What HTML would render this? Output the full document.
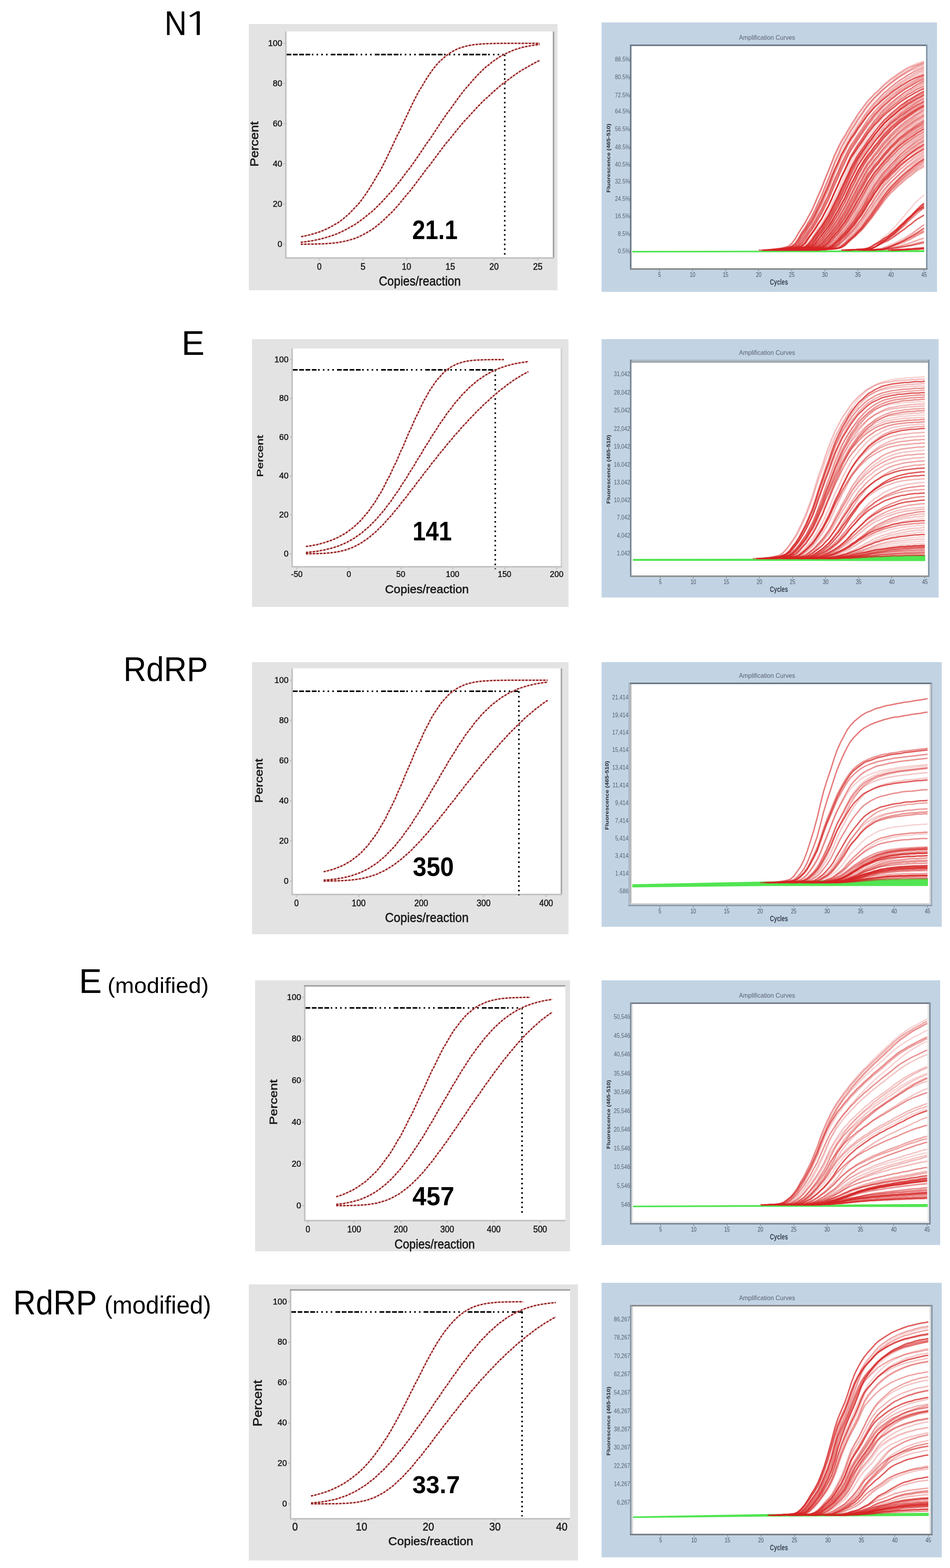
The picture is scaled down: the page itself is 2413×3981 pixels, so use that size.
<!DOCTYPE html>
<html><head><meta charset="utf-8"><title>Figure</title>
<style>html,body{margin:0;padding:0;background:#fff;}svg{display:block;}</style>
</head><body>
<svg width="2413" height="3981" viewBox="0 0 2413 3981" font-family="'Liberation Sans', Arial, sans-serif">
<rect width="2413" height="3981" fill="#fff"/>
<text transform="translate(417.7,88.6) scale(0.899,1)" font-size="87.4" fill="#000">N</text>
<text transform="translate(464.7,88.6) scale(1.434,1)" font-size="80.9" font-family="NanumGothic, 'Liberation Sans', sans-serif">1</text>
<text transform="translate(461.0,900.6) scale(1.009,1)" font-size="87.0" fill="#000">E</text>
<text transform="translate(313.4,1728.9) scale(0.926,1)" font-size="87.0" fill="#000">RdRP</text>
<text transform="translate(200.5,2520.7) scale(1.002,1)" font-size="87.0" fill="#000">E</text>
<text transform="translate(273.1,2521.0) scale(1.037,1)" font-size="55.8" fill="#000">(modified)</text>
<text transform="translate(33.6,3336.7) scale(0.921,1)" font-size="86.5" fill="#000">RdRP</text>
<text transform="translate(265.3,3334.7) scale(0.966,1)" font-size="63.1" fill="#000">(modified)</text>
<rect x="632" y="61" width="784" height="676" fill="#e3e3e3"/>
<rect x="728" y="80" width="676" height="573" fill="#ffffff"/>
<rect x="1404" y="80" width="4" height="577" fill="#a4a4a4"/>
<rect x="724" y="80" width="4" height="577" fill="#c3c3c3"/>
<rect x="724" y="653" width="684" height="4" fill="#c3c3c3"/>
<rect x="720" y="618" width="4" height="4" fill="#c8c8c8"/>
<text transform="translate(704.9,626.5) scale(0.986,1)" font-size="21.7" fill="#1a1a1a" stroke="#1a1a1a" stroke-width="0.7">0</text>
<rect x="720" y="516" width="4" height="4" fill="#c8c8c8"/>
<text transform="translate(693.0,524.5) scale(0.986,1)" font-size="21.7" fill="#1a1a1a" stroke="#1a1a1a" stroke-width="0.7">20</text>
<rect x="720" y="414" width="4" height="4" fill="#c8c8c8"/>
<text transform="translate(693.0,422.5) scale(0.986,1)" font-size="21.7" fill="#1a1a1a" stroke="#1a1a1a" stroke-width="0.7">40</text>
<rect x="720" y="312" width="4" height="4" fill="#c8c8c8"/>
<text transform="translate(693.0,320.5) scale(0.986,1)" font-size="21.7" fill="#1a1a1a" stroke="#1a1a1a" stroke-width="0.7">60</text>
<rect x="720" y="210" width="4" height="4" fill="#c8c8c8"/>
<text transform="translate(693.0,218.5) scale(0.986,1)" font-size="21.7" fill="#1a1a1a" stroke="#1a1a1a" stroke-width="0.7">80</text>
<rect x="720" y="108" width="4" height="4" fill="#c8c8c8"/>
<text transform="translate(681.1,116.5) scale(0.986,1)" font-size="21.7" fill="#1a1a1a" stroke="#1a1a1a" stroke-width="0.7">100</text>
<rect x="809" y="657" width="4" height="4" fill="#c8c8c8"/>
<text transform="translate(805.2,685.0) scale(0.897,1)" font-size="23.2" fill="#1a1a1a" stroke="#1a1a1a" stroke-width="0.7">0</text>
<rect x="920" y="657" width="4" height="4" fill="#c8c8c8"/>
<text transform="translate(915.8,685.0) scale(0.968,1)" font-size="23.2" fill="#1a1a1a" stroke="#1a1a1a" stroke-width="0.7">5</text>
<rect x="1031" y="657" width="4" height="4" fill="#c8c8c8"/>
<text transform="translate(1020.8,685.0) scale(0.916,1)" font-size="23.2" fill="#1a1a1a" stroke="#1a1a1a" stroke-width="0.7">10</text>
<rect x="1142" y="657" width="4" height="4" fill="#c8c8c8"/>
<text transform="translate(1131.4,685.0) scale(0.948,1)" font-size="23.2" fill="#1a1a1a" stroke="#1a1a1a" stroke-width="0.7">15</text>
<rect x="1253" y="657" width="4" height="4" fill="#c8c8c8"/>
<text transform="translate(1243.1,685.0) scale(0.916,1)" font-size="23.2" fill="#1a1a1a" stroke="#1a1a1a" stroke-width="0.7">20</text>
<rect x="1364" y="657" width="4" height="4" fill="#c8c8c8"/>
<text transform="translate(1353.9,685.0) scale(0.934,1)" font-size="23.2" fill="#1a1a1a" stroke="#1a1a1a" stroke-width="0.7">25</text>
<path d="M728 138.5H1284" stroke="#000" stroke-width="4" stroke-dasharray="12 4 12 4 12 4 12 4 4 8 4 8 4 8 4 8"/>
<path d="M1282 138.5V653" stroke="#000" stroke-width="4" stroke-dasharray="4 8"/>
<g fill="none" stroke="#dcaaaa" stroke-width="3.5">
<path d="M765,601.0L770,600.0L775,599.0L780,597.8L785,596.6L790,595.3L795,593.9L800,592.4L806,590.7L811,589.0L816,587.1L821,585.1L826,582.9L831,580.6L836,578.1L841,575.5L846,572.6L851,569.6L857,566.4L862,562.9L867,559.3L872,555.4L877,551.2L882,546.8L887,542.2L892,537.2L897,532.0L902,526.5L908,520.7L913,514.6L918,508.2L923,501.4L928,494.4L933,487.0L938,479.3L943,471.3L948,463.0L953,454.4L958,445.5L964,436.3L969,426.9L974,417.1L979,407.2L984,397.0L989,386.7L994,376.2L999,365.5L1004,354.8L1009,343.9L1015,333.1L1020,322.2L1025,311.3L1030,300.5L1035,289.9L1040,279.3L1045,268.9L1050,258.7L1055,248.8L1060,239.1L1065,229.8L1071,220.7L1076,212.0L1081,203.7L1086,195.7L1091,188.2L1096,181.0L1101,174.3L1106,168.0L1111,162.1L1116,156.6L1122,151.5L1127,146.9L1132,142.6L1137,138.7L1142,135.1L1147,131.9L1152,129.1L1157,126.5L1162,124.2L1167,122.2L1173,120.4L1178,118.8L1183,117.4L1188,116.3L1193,115.2L1198,114.4L1203,113.6L1208,113.0L1213,112.4L1218,112.0L1223,111.6L1229,111.3L1234,111.0L1239,110.8L1244,110.7L1249,110.5L1254,110.4L1259,110.3L1264,110.3L1269,110.2L1274,110.1L1280,110.1L1285,110.1L1290,110.1L1295,110.0L1300,110.0L1305,110.0L1310,110.0L1315,110.0L1320,110.0L1325,110.0L1330,110.0L1336,110.0L1341,110.0L1346,110.0L1351,110.0L1356,110.0L1361,110.0L1366,110.0L1371,110.0"/>
<path d="M764,615.2L769,614.6L774,614.0L779,613.3L784,612.6L789,611.8L795,610.9L800,609.9L805,608.9L810,607.8L815,606.6L820,605.3L825,603.9L830,602.4L835,600.8L840,599.2L846,597.4L851,595.5L856,593.5L861,591.3L866,589.1L871,586.7L876,584.2L881,581.5L886,578.8L891,575.8L897,572.8L902,569.6L907,566.3L912,562.8L917,559.1L922,555.4L927,551.4L932,547.3L937,543.1L943,538.7L948,534.2L953,529.5L958,524.6L963,519.6L968,514.5L973,509.2L978,503.8L983,498.2L988,492.4L994,486.6L999,480.6L1004,474.4L1009,468.2L1014,461.8L1019,455.3L1024,448.6L1029,441.9L1034,435.0L1040,428.1L1045,421.0L1050,413.9L1055,406.7L1060,399.4L1065,392.1L1070,384.7L1075,377.2L1080,369.7L1085,362.2L1091,354.6L1096,347.1L1101,339.5L1106,331.9L1111,324.4L1116,316.8L1121,309.3L1126,301.9L1131,294.5L1136,287.1L1142,279.8L1147,272.7L1152,265.6L1157,258.6L1162,251.7L1167,244.9L1172,238.3L1177,231.8L1182,225.4L1188,219.2L1193,213.1L1198,207.2L1203,201.5L1208,196.0L1213,190.6L1218,185.5L1223,180.5L1228,175.7L1233,171.1L1239,166.7L1244,162.5L1249,158.5L1254,154.7L1259,151.1L1264,147.7L1269,144.5L1274,141.5L1279,138.7L1285,136.0L1290,133.6L1295,131.3L1300,129.1L1305,127.2L1310,125.3L1315,123.7L1320,122.1L1325,120.7L1330,119.5L1336,118.3L1341,117.3L1346,116.4L1351,115.5L1356,114.8L1361,114.1L1366,113.5L1371,113.0"/>
<path d="M764,619.9L769,619.9L774,619.9L779,619.9L784,619.8L789,619.7L795,619.7L800,619.6L805,619.5L810,619.3L815,619.2L820,619.0L825,618.7L830,618.4L835,618.1L840,617.7L846,617.2L851,616.6L856,616.0L861,615.3L866,614.4L871,613.5L876,612.4L881,611.2L886,609.9L891,608.4L897,606.8L902,605.0L907,603.0L912,600.9L917,598.5L922,596.0L927,593.3L932,590.4L937,587.3L943,584.0L948,580.5L953,576.8L958,572.9L963,568.8L968,564.5L973,560.0L978,555.3L983,550.4L988,545.4L994,540.2L999,534.8L1004,529.3L1009,523.6L1014,517.8L1019,511.8L1024,505.7L1029,499.5L1034,493.2L1040,486.9L1045,480.4L1050,473.9L1055,467.3L1060,460.6L1065,453.9L1070,447.2L1075,440.4L1080,433.6L1085,426.8L1091,420.1L1096,413.3L1101,406.5L1106,399.7L1111,393.0L1116,386.3L1121,379.7L1126,373.1L1131,366.5L1136,360.0L1142,353.6L1147,347.2L1152,340.9L1157,334.6L1162,328.5L1167,322.4L1172,316.4L1177,310.4L1182,304.6L1188,298.8L1193,293.2L1198,287.6L1203,282.1L1208,276.7L1213,271.4L1218,266.2L1223,261.1L1228,256.0L1233,251.1L1239,246.3L1244,241.5L1249,236.9L1254,232.3L1259,227.9L1264,223.5L1269,219.3L1274,215.1L1279,211.0L1285,207.0L1290,203.1L1295,199.3L1300,195.6L1305,192.0L1310,188.5L1315,185.1L1320,181.8L1325,178.5L1330,175.4L1336,172.3L1341,169.3L1346,166.4L1351,163.6L1356,160.9L1361,158.3L1366,155.8L1371,153.3"/>
</g>
<g fill="none" stroke="#931c1c" stroke-width="3.5" stroke-dasharray="5 4">
<path d="M765,601.0L770,600.0L775,599.0L780,597.8L785,596.6L790,595.3L795,593.9L800,592.4L806,590.7L811,589.0L816,587.1L821,585.1L826,582.9L831,580.6L836,578.1L841,575.5L846,572.6L851,569.6L857,566.4L862,562.9L867,559.3L872,555.4L877,551.2L882,546.8L887,542.2L892,537.2L897,532.0L902,526.5L908,520.7L913,514.6L918,508.2L923,501.4L928,494.4L933,487.0L938,479.3L943,471.3L948,463.0L953,454.4L958,445.5L964,436.3L969,426.9L974,417.1L979,407.2L984,397.0L989,386.7L994,376.2L999,365.5L1004,354.8L1009,343.9L1015,333.1L1020,322.2L1025,311.3L1030,300.5L1035,289.9L1040,279.3L1045,268.9L1050,258.7L1055,248.8L1060,239.1L1065,229.8L1071,220.7L1076,212.0L1081,203.7L1086,195.7L1091,188.2L1096,181.0L1101,174.3L1106,168.0L1111,162.1L1116,156.6L1122,151.5L1127,146.9L1132,142.6L1137,138.7L1142,135.1L1147,131.9L1152,129.1L1157,126.5L1162,124.2L1167,122.2L1173,120.4L1178,118.8L1183,117.4L1188,116.3L1193,115.2L1198,114.4L1203,113.6L1208,113.0L1213,112.4L1218,112.0L1223,111.6L1229,111.3L1234,111.0L1239,110.8L1244,110.7L1249,110.5L1254,110.4L1259,110.3L1264,110.3L1269,110.2L1274,110.1L1280,110.1L1285,110.1L1290,110.1L1295,110.0L1300,110.0L1305,110.0L1310,110.0L1315,110.0L1320,110.0L1325,110.0L1330,110.0L1336,110.0L1341,110.0L1346,110.0L1351,110.0L1356,110.0L1361,110.0L1366,110.0L1371,110.0"/>
<path d="M764,615.2L769,614.6L774,614.0L779,613.3L784,612.6L789,611.8L795,610.9L800,609.9L805,608.9L810,607.8L815,606.6L820,605.3L825,603.9L830,602.4L835,600.8L840,599.2L846,597.4L851,595.5L856,593.5L861,591.3L866,589.1L871,586.7L876,584.2L881,581.5L886,578.8L891,575.8L897,572.8L902,569.6L907,566.3L912,562.8L917,559.1L922,555.4L927,551.4L932,547.3L937,543.1L943,538.7L948,534.2L953,529.5L958,524.6L963,519.6L968,514.5L973,509.2L978,503.8L983,498.2L988,492.4L994,486.6L999,480.6L1004,474.4L1009,468.2L1014,461.8L1019,455.3L1024,448.6L1029,441.9L1034,435.0L1040,428.1L1045,421.0L1050,413.9L1055,406.7L1060,399.4L1065,392.1L1070,384.7L1075,377.2L1080,369.7L1085,362.2L1091,354.6L1096,347.1L1101,339.5L1106,331.9L1111,324.4L1116,316.8L1121,309.3L1126,301.9L1131,294.5L1136,287.1L1142,279.8L1147,272.7L1152,265.6L1157,258.6L1162,251.7L1167,244.9L1172,238.3L1177,231.8L1182,225.4L1188,219.2L1193,213.1L1198,207.2L1203,201.5L1208,196.0L1213,190.6L1218,185.5L1223,180.5L1228,175.7L1233,171.1L1239,166.7L1244,162.5L1249,158.5L1254,154.7L1259,151.1L1264,147.7L1269,144.5L1274,141.5L1279,138.7L1285,136.0L1290,133.6L1295,131.3L1300,129.1L1305,127.2L1310,125.3L1315,123.7L1320,122.1L1325,120.7L1330,119.5L1336,118.3L1341,117.3L1346,116.4L1351,115.5L1356,114.8L1361,114.1L1366,113.5L1371,113.0"/>
<path d="M764,619.9L769,619.9L774,619.9L779,619.9L784,619.8L789,619.7L795,619.7L800,619.6L805,619.5L810,619.3L815,619.2L820,619.0L825,618.7L830,618.4L835,618.1L840,617.7L846,617.2L851,616.6L856,616.0L861,615.3L866,614.4L871,613.5L876,612.4L881,611.2L886,609.9L891,608.4L897,606.8L902,605.0L907,603.0L912,600.9L917,598.5L922,596.0L927,593.3L932,590.4L937,587.3L943,584.0L948,580.5L953,576.8L958,572.9L963,568.8L968,564.5L973,560.0L978,555.3L983,550.4L988,545.4L994,540.2L999,534.8L1004,529.3L1009,523.6L1014,517.8L1019,511.8L1024,505.7L1029,499.5L1034,493.2L1040,486.9L1045,480.4L1050,473.9L1055,467.3L1060,460.6L1065,453.9L1070,447.2L1075,440.4L1080,433.6L1085,426.8L1091,420.1L1096,413.3L1101,406.5L1106,399.7L1111,393.0L1116,386.3L1121,379.7L1126,373.1L1131,366.5L1136,360.0L1142,353.6L1147,347.2L1152,340.9L1157,334.6L1162,328.5L1167,322.4L1172,316.4L1177,310.4L1182,304.6L1188,298.8L1193,293.2L1198,287.6L1203,282.1L1208,276.7L1213,271.4L1218,266.2L1223,261.1L1228,256.0L1233,251.1L1239,246.3L1244,241.5L1249,236.9L1254,232.3L1259,227.9L1264,223.5L1269,219.3L1274,215.1L1279,211.0L1285,207.0L1290,203.1L1295,199.3L1300,195.6L1305,192.0L1310,188.5L1315,185.1L1320,181.8L1325,178.5L1330,175.4L1336,172.3L1341,169.3L1346,166.4L1351,163.6L1356,160.9L1361,158.3L1366,155.8L1371,153.3"/>
</g>
<text transform="translate(1046.9,606.6) scale(0.856,1)" font-size="69.4" font-weight="bold" fill="#000">21.1</text>
<text transform="translate(655.7,423.0) rotate(-90) scale(1.166,1)" font-size="28.6" fill="#1a1a1a" stroke="#1a1a1a" stroke-width="0.8">Percent</text>
<text transform="translate(962.2,725.3) scale(0.884,1)" font-size="33.9" fill="#1a1a1a" stroke="#1a1a1a" stroke-width="0.8">Copies/reaction</text>
<rect x="640" y="861" width="804" height="680" fill="#e3e3e3"/>
<rect x="744" y="885" width="680" height="552" fill="#ffffff"/>
<rect x="1424" y="885" width="4" height="556" fill="#d0d0d0"/>
<rect x="740" y="885" width="4" height="556" fill="#c3c3c3"/>
<rect x="740" y="1437" width="688" height="4" fill="#c3c3c3"/>
<rect x="736" y="1404" width="4" height="4" fill="#c8c8c8"/>
<text transform="translate(720.9,1412.5) scale(0.986,1)" font-size="21.7" fill="#1a1a1a" stroke="#1a1a1a" stroke-width="0.7">0</text>
<rect x="736" y="1305" width="4" height="4" fill="#c8c8c8"/>
<text transform="translate(709.0,1313.9) scale(0.986,1)" font-size="21.7" fill="#1a1a1a" stroke="#1a1a1a" stroke-width="0.7">20</text>
<rect x="736" y="1207" width="4" height="4" fill="#c8c8c8"/>
<text transform="translate(709.0,1215.3) scale(0.986,1)" font-size="21.7" fill="#1a1a1a" stroke="#1a1a1a" stroke-width="0.7">40</text>
<rect x="736" y="1108" width="4" height="4" fill="#c8c8c8"/>
<text transform="translate(709.0,1116.7) scale(0.986,1)" font-size="21.7" fill="#1a1a1a" stroke="#1a1a1a" stroke-width="0.7">60</text>
<rect x="736" y="1010" width="4" height="4" fill="#c8c8c8"/>
<text transform="translate(709.0,1018.1) scale(0.986,1)" font-size="21.7" fill="#1a1a1a" stroke="#1a1a1a" stroke-width="0.7">80</text>
<rect x="736" y="911" width="4" height="4" fill="#c8c8c8"/>
<text transform="translate(697.1,919.5) scale(0.986,1)" font-size="21.7" fill="#1a1a1a" stroke="#1a1a1a" stroke-width="0.7">100</text>
<rect x="752" y="1441" width="4" height="4" fill="#c8c8c8"/>
<text transform="translate(739.2,1464.5) scale(0.907,1)" font-size="22.5" fill="#1a1a1a" stroke="#1a1a1a" stroke-width="0.7">-50</text>
<rect x="884" y="1441" width="4" height="4" fill="#c8c8c8"/>
<text transform="translate(880.4,1464.5) scale(0.897,1)" font-size="22.5" fill="#1a1a1a" stroke="#1a1a1a" stroke-width="0.7">0</text>
<rect x="1016" y="1441" width="4" height="4" fill="#c8c8c8"/>
<text transform="translate(1006.6,1464.5) scale(0.911,1)" font-size="22.5" fill="#1a1a1a" stroke="#1a1a1a" stroke-width="0.7">50</text>
<rect x="1148" y="1441" width="4" height="4" fill="#c8c8c8"/>
<text transform="translate(1132.5,1464.5) scale(0.913,1)" font-size="22.5" fill="#1a1a1a" stroke="#1a1a1a" stroke-width="0.7">100</text>
<rect x="1280" y="1441" width="4" height="4" fill="#c8c8c8"/>
<text transform="translate(1264.5,1464.5) scale(0.913,1)" font-size="22.5" fill="#1a1a1a" stroke="#1a1a1a" stroke-width="0.7">150</text>
<rect x="1412" y="1441" width="4" height="4" fill="#c8c8c8"/>
<text transform="translate(1396.8,1464.5) scale(0.913,1)" font-size="22.5" fill="#1a1a1a" stroke="#1a1a1a" stroke-width="0.7">200</text>
<path d="M744 939H1260" stroke="#000" stroke-width="4" stroke-dasharray="12 4 12 4 12 4 12 4 4 8 4 8 4 8 4 8"/>
<path d="M1258 939V1445" stroke="#000" stroke-width="4" stroke-dasharray="4 8"/>
<g fill="none" stroke="#dcaaaa" stroke-width="3.5">
<path d="M777,1387.6L781,1387.0L786,1386.3L790,1385.6L794,1384.8L798,1384.0L803,1383.1L807,1382.2L811,1381.2L815,1380.1L820,1378.9L824,1377.7L828,1376.4L832,1375.0L836,1373.6L841,1372.0L845,1370.3L849,1368.6L853,1366.7L858,1364.7L862,1362.5L866,1360.3L870,1357.9L875,1355.4L879,1352.7L883,1349.8L887,1346.8L891,1343.7L896,1340.3L900,1336.8L904,1333.0L908,1329.1L913,1324.9L917,1320.6L921,1316.0L925,1311.2L929,1306.1L934,1300.8L938,1295.3L942,1289.5L946,1283.5L951,1277.2L955,1270.6L959,1263.8L963,1256.8L968,1249.5L972,1241.9L976,1234.1L980,1226.1L984,1217.9L989,1209.4L993,1200.7L997,1191.9L1001,1182.9L1006,1173.7L1010,1164.4L1014,1154.9L1018,1145.4L1023,1135.8L1027,1126.1L1031,1116.5L1035,1106.8L1039,1097.2L1044,1087.6L1048,1078.1L1052,1068.8L1056,1059.6L1061,1050.5L1065,1041.7L1069,1033.0L1073,1024.7L1077,1016.6L1082,1008.7L1086,1001.2L1090,994.0L1094,987.2L1099,980.7L1103,974.5L1107,968.7L1111,963.2L1116,958.2L1120,953.4L1124,949.0L1128,945.0L1132,941.3L1137,937.9L1141,934.8L1145,932.1L1149,929.5L1154,927.3L1158,925.3L1162,923.5L1166,922.0L1171,920.6L1175,919.4L1179,918.4L1183,917.5L1187,916.7L1192,916.1L1196,915.5L1200,915.1L1204,914.7L1209,914.3L1213,914.1L1217,913.9L1221,913.7L1225,913.5L1230,913.4L1234,913.3L1238,913.3L1242,913.2L1247,913.1L1251,913.1L1255,913.1L1259,913.1L1264,913.0L1268,913.0L1272,913.0L1276,913.0L1280,913.0"/>
<path d="M777,1402.6L782,1402.2L787,1401.7L791,1401.2L796,1400.7L801,1400.1L806,1399.4L810,1398.7L815,1397.8L820,1397.0L825,1396.0L829,1395.0L834,1393.8L839,1392.6L844,1391.3L848,1389.9L853,1388.3L858,1386.7L863,1384.9L867,1383.0L872,1381.0L877,1378.8L882,1376.5L886,1374.0L891,1371.4L896,1368.6L901,1365.6L905,1362.5L910,1359.2L915,1355.7L920,1352.1L924,1348.3L929,1344.2L934,1340.0L939,1335.6L943,1331.0L948,1326.2L953,1321.3L958,1316.1L962,1310.8L967,1305.2L972,1299.5L977,1293.6L981,1287.5L986,1281.3L991,1274.8L996,1268.3L1000,1261.5L1005,1254.7L1010,1247.7L1015,1240.5L1019,1233.3L1024,1225.9L1029,1218.5L1034,1210.9L1038,1203.3L1043,1195.6L1048,1187.9L1053,1180.1L1057,1172.3L1062,1164.4L1067,1156.6L1072,1148.8L1076,1141.0L1081,1133.2L1086,1125.5L1091,1117.8L1095,1110.2L1100,1102.7L1105,1095.2L1110,1087.9L1114,1080.7L1119,1073.6L1124,1066.6L1129,1059.7L1133,1053.0L1138,1046.5L1143,1040.1L1148,1033.9L1152,1027.8L1157,1021.9L1162,1016.2L1167,1010.7L1171,1005.3L1176,1000.2L1181,995.2L1186,990.4L1190,985.8L1195,981.4L1200,977.2L1205,973.1L1209,969.3L1214,965.6L1219,962.1L1224,958.8L1228,955.6L1233,952.6L1238,949.8L1243,947.1L1247,944.6L1252,942.2L1257,940.0L1262,937.9L1266,935.9L1271,934.1L1276,932.4L1281,930.8L1285,929.3L1290,927.9L1295,926.6L1300,925.4L1304,924.3L1309,923.3L1314,922.3L1319,921.5L1323,920.7L1328,919.9L1333,919.3L1338,918.6L1342,918.1"/>
<path d="M777,1405.9L782,1405.9L787,1405.8L791,1405.8L796,1405.7L801,1405.6L806,1405.5L810,1405.4L815,1405.2L820,1405.0L825,1404.7L829,1404.4L834,1404.0L839,1403.6L844,1403.1L848,1402.4L853,1401.7L858,1400.9L863,1400.0L867,1399.0L872,1397.8L877,1396.5L882,1395.0L886,1393.4L891,1391.6L896,1389.6L901,1387.4L905,1385.1L910,1382.6L915,1379.9L920,1377.0L924,1373.9L929,1370.6L934,1367.1L939,1363.5L943,1359.6L948,1355.6L953,1351.4L958,1347.0L962,1342.4L967,1337.7L972,1332.8L977,1327.8L981,1322.6L986,1317.3L991,1311.9L996,1306.4L1000,1300.8L1005,1295.1L1010,1289.3L1015,1283.4L1019,1277.4L1024,1271.4L1029,1265.4L1034,1259.3L1038,1253.1L1043,1246.9L1048,1240.7L1053,1234.5L1057,1228.3L1062,1222.1L1067,1215.9L1072,1209.7L1076,1203.5L1081,1197.3L1086,1191.1L1091,1185.0L1095,1178.9L1100,1172.8L1105,1166.8L1110,1160.8L1114,1154.8L1119,1148.9L1124,1143.1L1129,1137.2L1133,1131.5L1138,1125.7L1143,1120.1L1148,1114.5L1152,1108.9L1157,1103.4L1162,1097.9L1167,1092.5L1171,1087.2L1176,1081.9L1181,1076.7L1186,1071.6L1190,1066.5L1195,1061.4L1200,1056.5L1205,1051.6L1209,1046.7L1214,1041.9L1219,1037.2L1224,1032.6L1228,1028.0L1233,1023.5L1238,1019.1L1243,1014.8L1247,1010.5L1252,1006.3L1257,1002.2L1262,998.1L1266,994.2L1271,990.3L1276,986.5L1281,982.8L1285,979.2L1290,975.7L1295,972.2L1300,968.9L1304,965.7L1309,962.5L1314,959.5L1319,956.6L1323,953.7L1328,951.0L1333,948.4L1338,945.9L1342,943.5"/>
</g>
<g fill="none" stroke="#931c1c" stroke-width="3.5" stroke-dasharray="5 4">
<path d="M777,1387.6L781,1387.0L786,1386.3L790,1385.6L794,1384.8L798,1384.0L803,1383.1L807,1382.2L811,1381.2L815,1380.1L820,1378.9L824,1377.7L828,1376.4L832,1375.0L836,1373.6L841,1372.0L845,1370.3L849,1368.6L853,1366.7L858,1364.7L862,1362.5L866,1360.3L870,1357.9L875,1355.4L879,1352.7L883,1349.8L887,1346.8L891,1343.7L896,1340.3L900,1336.8L904,1333.0L908,1329.1L913,1324.9L917,1320.6L921,1316.0L925,1311.2L929,1306.1L934,1300.8L938,1295.3L942,1289.5L946,1283.5L951,1277.2L955,1270.6L959,1263.8L963,1256.8L968,1249.5L972,1241.9L976,1234.1L980,1226.1L984,1217.9L989,1209.4L993,1200.7L997,1191.9L1001,1182.9L1006,1173.7L1010,1164.4L1014,1154.9L1018,1145.4L1023,1135.8L1027,1126.1L1031,1116.5L1035,1106.8L1039,1097.2L1044,1087.6L1048,1078.1L1052,1068.8L1056,1059.6L1061,1050.5L1065,1041.7L1069,1033.0L1073,1024.7L1077,1016.6L1082,1008.7L1086,1001.2L1090,994.0L1094,987.2L1099,980.7L1103,974.5L1107,968.7L1111,963.2L1116,958.2L1120,953.4L1124,949.0L1128,945.0L1132,941.3L1137,937.9L1141,934.8L1145,932.1L1149,929.5L1154,927.3L1158,925.3L1162,923.5L1166,922.0L1171,920.6L1175,919.4L1179,918.4L1183,917.5L1187,916.7L1192,916.1L1196,915.5L1200,915.1L1204,914.7L1209,914.3L1213,914.1L1217,913.9L1221,913.7L1225,913.5L1230,913.4L1234,913.3L1238,913.3L1242,913.2L1247,913.1L1251,913.1L1255,913.1L1259,913.1L1264,913.0L1268,913.0L1272,913.0L1276,913.0L1280,913.0"/>
<path d="M777,1402.6L782,1402.2L787,1401.7L791,1401.2L796,1400.7L801,1400.1L806,1399.4L810,1398.7L815,1397.8L820,1397.0L825,1396.0L829,1395.0L834,1393.8L839,1392.6L844,1391.3L848,1389.9L853,1388.3L858,1386.7L863,1384.9L867,1383.0L872,1381.0L877,1378.8L882,1376.5L886,1374.0L891,1371.4L896,1368.6L901,1365.6L905,1362.5L910,1359.2L915,1355.7L920,1352.1L924,1348.3L929,1344.2L934,1340.0L939,1335.6L943,1331.0L948,1326.2L953,1321.3L958,1316.1L962,1310.8L967,1305.2L972,1299.5L977,1293.6L981,1287.5L986,1281.3L991,1274.8L996,1268.3L1000,1261.5L1005,1254.7L1010,1247.7L1015,1240.5L1019,1233.3L1024,1225.9L1029,1218.5L1034,1210.9L1038,1203.3L1043,1195.6L1048,1187.9L1053,1180.1L1057,1172.3L1062,1164.4L1067,1156.6L1072,1148.8L1076,1141.0L1081,1133.2L1086,1125.5L1091,1117.8L1095,1110.2L1100,1102.7L1105,1095.2L1110,1087.9L1114,1080.7L1119,1073.6L1124,1066.6L1129,1059.7L1133,1053.0L1138,1046.5L1143,1040.1L1148,1033.9L1152,1027.8L1157,1021.9L1162,1016.2L1167,1010.7L1171,1005.3L1176,1000.2L1181,995.2L1186,990.4L1190,985.8L1195,981.4L1200,977.2L1205,973.1L1209,969.3L1214,965.6L1219,962.1L1224,958.8L1228,955.6L1233,952.6L1238,949.8L1243,947.1L1247,944.6L1252,942.2L1257,940.0L1262,937.9L1266,935.9L1271,934.1L1276,932.4L1281,930.8L1285,929.3L1290,927.9L1295,926.6L1300,925.4L1304,924.3L1309,923.3L1314,922.3L1319,921.5L1323,920.7L1328,919.9L1333,919.3L1338,918.6L1342,918.1"/>
<path d="M777,1405.9L782,1405.9L787,1405.8L791,1405.8L796,1405.7L801,1405.6L806,1405.5L810,1405.4L815,1405.2L820,1405.0L825,1404.7L829,1404.4L834,1404.0L839,1403.6L844,1403.1L848,1402.4L853,1401.7L858,1400.9L863,1400.0L867,1399.0L872,1397.8L877,1396.5L882,1395.0L886,1393.4L891,1391.6L896,1389.6L901,1387.4L905,1385.1L910,1382.6L915,1379.9L920,1377.0L924,1373.9L929,1370.6L934,1367.1L939,1363.5L943,1359.6L948,1355.6L953,1351.4L958,1347.0L962,1342.4L967,1337.7L972,1332.8L977,1327.8L981,1322.6L986,1317.3L991,1311.9L996,1306.4L1000,1300.8L1005,1295.1L1010,1289.3L1015,1283.4L1019,1277.4L1024,1271.4L1029,1265.4L1034,1259.3L1038,1253.1L1043,1246.9L1048,1240.7L1053,1234.5L1057,1228.3L1062,1222.1L1067,1215.9L1072,1209.7L1076,1203.5L1081,1197.3L1086,1191.1L1091,1185.0L1095,1178.9L1100,1172.8L1105,1166.8L1110,1160.8L1114,1154.8L1119,1148.9L1124,1143.1L1129,1137.2L1133,1131.5L1138,1125.7L1143,1120.1L1148,1114.5L1152,1108.9L1157,1103.4L1162,1097.9L1167,1092.5L1171,1087.2L1176,1081.9L1181,1076.7L1186,1071.6L1190,1066.5L1195,1061.4L1200,1056.5L1205,1051.6L1209,1046.7L1214,1041.9L1219,1037.2L1224,1032.6L1228,1028.0L1233,1023.5L1238,1019.1L1243,1014.8L1247,1010.5L1252,1006.3L1257,1002.2L1262,998.1L1266,994.2L1271,990.3L1276,986.5L1281,982.8L1285,979.2L1290,975.7L1295,972.2L1300,968.9L1304,965.7L1309,962.5L1314,959.5L1319,956.6L1323,953.7L1328,951.0L1333,948.4L1338,945.9L1342,943.5"/>
</g>
<text transform="translate(1048.1,1372.0) scale(0.876,1)" font-size="68.1" font-weight="bold" fill="#000">141</text>
<text transform="translate(667.8,1211.1) rotate(-90) scale(1.349,1)" font-size="22.9" fill="#1a1a1a" stroke="#1a1a1a" stroke-width="0.8">Percent</text>
<text transform="translate(978.0,1506.4) scale(1.014,1)" font-size="30.2" fill="#1a1a1a" stroke="#1a1a1a" stroke-width="0.8">Copies/reaction</text>
<rect x="640" y="1681" width="804" height="691" fill="#e3e3e3"/>
<rect x="744" y="1697" width="680" height="572" fill="#ffffff"/>
<rect x="1424" y="1697" width="4" height="576" fill="#aaaaaa"/>
<rect x="740" y="1697" width="4" height="576" fill="#c3c3c3"/>
<rect x="740" y="2269" width="688" height="4" fill="#c3c3c3"/>
<rect x="736" y="2235" width="4" height="4" fill="#c8c8c8"/>
<text transform="translate(720.9,2243.5) scale(0.986,1)" font-size="21.7" fill="#1a1a1a" stroke="#1a1a1a" stroke-width="0.7">0</text>
<rect x="736" y="2133" width="4" height="4" fill="#c8c8c8"/>
<text transform="translate(709.0,2141.5) scale(0.986,1)" font-size="21.7" fill="#1a1a1a" stroke="#1a1a1a" stroke-width="0.7">20</text>
<rect x="736" y="2031" width="4" height="4" fill="#c8c8c8"/>
<text transform="translate(709.0,2039.5) scale(0.986,1)" font-size="21.7" fill="#1a1a1a" stroke="#1a1a1a" stroke-width="0.7">40</text>
<rect x="736" y="1929" width="4" height="4" fill="#c8c8c8"/>
<text transform="translate(709.0,1937.5) scale(0.986,1)" font-size="21.7" fill="#1a1a1a" stroke="#1a1a1a" stroke-width="0.7">60</text>
<rect x="736" y="1827" width="4" height="4" fill="#c8c8c8"/>
<text transform="translate(709.0,1835.5) scale(0.986,1)" font-size="21.7" fill="#1a1a1a" stroke="#1a1a1a" stroke-width="0.7">80</text>
<rect x="736" y="1725" width="4" height="4" fill="#c8c8c8"/>
<text transform="translate(697.1,1733.5) scale(0.986,1)" font-size="21.7" fill="#1a1a1a" stroke="#1a1a1a" stroke-width="0.7">100</text>
<rect x="751" y="2273" width="4" height="4" fill="#c8c8c8"/>
<text transform="translate(747.2,2301.0) scale(0.897,1)" font-size="23.2" fill="#1a1a1a" stroke="#1a1a1a" stroke-width="0.7">0</text>
<rect x="910" y="2273" width="4" height="4" fill="#c8c8c8"/>
<text transform="translate(893.5,2301.0) scale(0.913,1)" font-size="23.2" fill="#1a1a1a" stroke="#1a1a1a" stroke-width="0.7">100</text>
<rect x="1068" y="2273" width="4" height="4" fill="#c8c8c8"/>
<text transform="translate(1052.2,2301.0) scale(0.913,1)" font-size="23.2" fill="#1a1a1a" stroke="#1a1a1a" stroke-width="0.7">200</text>
<rect x="1226" y="2273" width="4" height="4" fill="#c8c8c8"/>
<text transform="translate(1210.8,2301.0) scale(0.913,1)" font-size="23.2" fill="#1a1a1a" stroke="#1a1a1a" stroke-width="0.7">300</text>
<rect x="1385" y="2273" width="4" height="4" fill="#c8c8c8"/>
<text transform="translate(1369.7,2301.0) scale(0.907,1)" font-size="23.2" fill="#1a1a1a" stroke="#1a1a1a" stroke-width="0.7">400</text>
<path d="M744 1755H1320" stroke="#000" stroke-width="4" stroke-dasharray="12 4 12 4 12 4 12 4 4 8 4 8 4 8 4 8"/>
<path d="M1318 1755V2273" stroke="#000" stroke-width="4" stroke-dasharray="4 8"/>
<g fill="none" stroke="#dcaaaa" stroke-width="3.5">
<path d="M822,2213.3L827,2212.3L831,2211.1L836,2209.9L841,2208.5L846,2207.0L851,2205.4L855,2203.7L860,2201.8L865,2199.8L870,2197.6L875,2195.2L879,2192.6L884,2189.9L889,2186.9L894,2183.8L898,2180.4L903,2176.7L908,2172.8L913,2168.6L918,2164.2L922,2159.4L927,2154.4L932,2149.0L937,2143.3L941,2137.3L946,2130.9L951,2124.2L956,2117.1L961,2109.7L965,2101.9L970,2093.8L975,2085.3L980,2076.5L984,2067.3L989,2057.9L994,2048.1L999,2038.0L1004,2027.7L1008,2017.1L1013,2006.3L1018,1995.3L1023,1984.2L1027,1973.0L1032,1961.7L1037,1950.3L1042,1939.0L1047,1927.7L1051,1916.5L1056,1905.4L1061,1894.5L1066,1883.8L1071,1873.3L1075,1863.1L1080,1853.2L1085,1843.7L1090,1834.6L1094,1825.8L1099,1817.4L1104,1809.5L1109,1802.0L1114,1794.9L1118,1788.3L1123,1782.1L1128,1776.4L1133,1771.1L1137,1766.3L1142,1761.8L1147,1757.7L1152,1754.0L1157,1750.7L1161,1747.7L1166,1745.0L1171,1742.6L1176,1740.4L1180,1738.6L1185,1736.9L1190,1735.4L1195,1734.2L1200,1733.1L1204,1732.1L1209,1731.3L1214,1730.6L1219,1730.0L1223,1729.5L1228,1729.1L1233,1728.7L1238,1728.4L1243,1728.2L1247,1727.9L1252,1727.8L1257,1727.6L1262,1727.5L1267,1727.4L1271,1727.3L1276,1727.3L1281,1727.2L1286,1727.2L1290,1727.1L1295,1727.1L1300,1727.1L1305,1727.1L1310,1727.1L1314,1727.0L1319,1727.0L1324,1727.0L1329,1727.0L1333,1727.0L1338,1727.0L1343,1727.0L1348,1727.0L1353,1727.0L1357,1727.0L1362,1727.0L1367,1727.0L1372,1727.0L1376,1727.0L1381,1727.0L1386,1727.0L1391,1727.0"/>
<path d="M822,2234.6L827,2234.3L831,2233.9L836,2233.5L841,2233.0L846,2232.5L851,2231.9L855,2231.2L860,2230.5L865,2229.7L870,2228.8L875,2227.9L879,2226.8L884,2225.7L889,2224.4L894,2223.0L898,2221.6L903,2219.9L908,2218.2L913,2216.3L918,2214.3L922,2212.1L927,2209.8L932,2207.3L937,2204.6L941,2201.8L946,2198.7L951,2195.5L956,2192.1L961,2188.5L965,2184.7L970,2180.7L975,2176.5L980,2172.1L984,2167.5L989,2162.6L994,2157.6L999,2152.3L1004,2146.9L1008,2141.2L1013,2135.3L1018,2129.3L1023,2123.0L1027,2116.5L1032,2109.9L1037,2103.1L1042,2096.1L1047,2088.9L1051,2081.6L1056,2074.2L1061,2066.6L1066,2058.9L1071,2051.0L1075,2043.1L1080,2035.1L1085,2027.0L1090,2018.9L1094,2010.7L1099,2002.5L1104,1994.2L1109,1985.9L1114,1977.7L1118,1969.4L1123,1961.2L1128,1953.1L1133,1945.0L1137,1936.9L1142,1929.0L1147,1921.1L1152,1913.3L1157,1905.7L1161,1898.1L1166,1890.7L1171,1883.5L1176,1876.4L1180,1869.4L1185,1862.7L1190,1856.0L1195,1849.6L1200,1843.4L1204,1837.3L1209,1831.4L1214,1825.8L1219,1820.3L1223,1815.0L1228,1809.9L1233,1805.0L1238,1800.3L1243,1795.8L1247,1791.5L1252,1787.4L1257,1783.5L1262,1779.7L1267,1776.2L1271,1772.8L1276,1769.6L1281,1766.6L1286,1763.7L1290,1761.0L1295,1758.5L1300,1756.1L1305,1753.8L1310,1751.7L1314,1749.7L1319,1747.9L1324,1746.2L1329,1744.6L1333,1743.1L1338,1741.7L1343,1740.4L1348,1739.2L1353,1738.1L1357,1737.1L1362,1736.1L1367,1735.3L1372,1734.5L1376,1733.8L1381,1733.1L1386,1732.5L1391,1731.9"/>
<path d="M822,2236.9L827,2236.9L831,2236.8L836,2236.8L841,2236.7L846,2236.6L851,2236.5L855,2236.4L860,2236.2L865,2236.0L870,2235.8L875,2235.6L879,2235.3L884,2234.9L889,2234.6L894,2234.1L898,2233.6L903,2233.0L908,2232.3L913,2231.5L918,2230.7L922,2229.7L927,2228.7L932,2227.5L937,2226.2L941,2224.8L946,2223.3L951,2221.6L956,2219.8L961,2217.8L965,2215.7L970,2213.5L975,2211.1L980,2208.5L984,2205.8L989,2202.9L994,2199.9L999,2196.7L1004,2193.4L1008,2189.8L1013,2186.2L1018,2182.4L1023,2178.4L1027,2174.3L1032,2170.1L1037,2165.7L1042,2161.1L1047,2156.5L1051,2151.7L1056,2146.8L1061,2141.8L1066,2136.7L1071,2131.5L1075,2126.2L1080,2120.8L1085,2115.3L1090,2109.7L1094,2104.1L1099,2098.3L1104,2092.6L1109,2086.7L1114,2080.9L1118,2074.9L1123,2069.0L1128,2063.0L1133,2056.9L1137,2050.9L1142,2044.8L1147,2038.7L1152,2032.6L1157,2026.5L1161,2020.4L1166,2014.3L1171,2008.2L1176,2002.1L1180,1996.0L1185,1990.0L1190,1983.9L1195,1977.9L1200,1971.9L1204,1965.9L1209,1960.0L1214,1954.1L1219,1948.2L1223,1942.4L1228,1936.6L1233,1930.8L1238,1925.1L1243,1919.4L1247,1913.8L1252,1908.3L1257,1902.7L1262,1897.3L1267,1891.9L1271,1886.5L1276,1881.3L1281,1876.0L1286,1870.9L1290,1865.8L1295,1860.8L1300,1855.8L1305,1851.0L1310,1846.2L1314,1841.5L1319,1836.8L1324,1832.3L1329,1827.8L1333,1823.4L1338,1819.1L1343,1814.9L1348,1810.8L1353,1806.8L1357,1802.9L1362,1799.0L1367,1795.3L1372,1791.7L1376,1788.2L1381,1784.7L1386,1781.4L1391,1778.2"/>
</g>
<g fill="none" stroke="#931c1c" stroke-width="3.5" stroke-dasharray="5 4">
<path d="M822,2213.3L827,2212.3L831,2211.1L836,2209.9L841,2208.5L846,2207.0L851,2205.4L855,2203.7L860,2201.8L865,2199.8L870,2197.6L875,2195.2L879,2192.6L884,2189.9L889,2186.9L894,2183.8L898,2180.4L903,2176.7L908,2172.8L913,2168.6L918,2164.2L922,2159.4L927,2154.4L932,2149.0L937,2143.3L941,2137.3L946,2130.9L951,2124.2L956,2117.1L961,2109.7L965,2101.9L970,2093.8L975,2085.3L980,2076.5L984,2067.3L989,2057.9L994,2048.1L999,2038.0L1004,2027.7L1008,2017.1L1013,2006.3L1018,1995.3L1023,1984.2L1027,1973.0L1032,1961.7L1037,1950.3L1042,1939.0L1047,1927.7L1051,1916.5L1056,1905.4L1061,1894.5L1066,1883.8L1071,1873.3L1075,1863.1L1080,1853.2L1085,1843.7L1090,1834.6L1094,1825.8L1099,1817.4L1104,1809.5L1109,1802.0L1114,1794.9L1118,1788.3L1123,1782.1L1128,1776.4L1133,1771.1L1137,1766.3L1142,1761.8L1147,1757.7L1152,1754.0L1157,1750.7L1161,1747.7L1166,1745.0L1171,1742.6L1176,1740.4L1180,1738.6L1185,1736.9L1190,1735.4L1195,1734.2L1200,1733.1L1204,1732.1L1209,1731.3L1214,1730.6L1219,1730.0L1223,1729.5L1228,1729.1L1233,1728.7L1238,1728.4L1243,1728.2L1247,1727.9L1252,1727.8L1257,1727.6L1262,1727.5L1267,1727.4L1271,1727.3L1276,1727.3L1281,1727.2L1286,1727.2L1290,1727.1L1295,1727.1L1300,1727.1L1305,1727.1L1310,1727.1L1314,1727.0L1319,1727.0L1324,1727.0L1329,1727.0L1333,1727.0L1338,1727.0L1343,1727.0L1348,1727.0L1353,1727.0L1357,1727.0L1362,1727.0L1367,1727.0L1372,1727.0L1376,1727.0L1381,1727.0L1386,1727.0L1391,1727.0"/>
<path d="M822,2234.6L827,2234.3L831,2233.9L836,2233.5L841,2233.0L846,2232.5L851,2231.9L855,2231.2L860,2230.5L865,2229.7L870,2228.8L875,2227.9L879,2226.8L884,2225.7L889,2224.4L894,2223.0L898,2221.6L903,2219.9L908,2218.2L913,2216.3L918,2214.3L922,2212.1L927,2209.8L932,2207.3L937,2204.6L941,2201.8L946,2198.7L951,2195.5L956,2192.1L961,2188.5L965,2184.7L970,2180.7L975,2176.5L980,2172.1L984,2167.5L989,2162.6L994,2157.6L999,2152.3L1004,2146.9L1008,2141.2L1013,2135.3L1018,2129.3L1023,2123.0L1027,2116.5L1032,2109.9L1037,2103.1L1042,2096.1L1047,2088.9L1051,2081.6L1056,2074.2L1061,2066.6L1066,2058.9L1071,2051.0L1075,2043.1L1080,2035.1L1085,2027.0L1090,2018.9L1094,2010.7L1099,2002.5L1104,1994.2L1109,1985.9L1114,1977.7L1118,1969.4L1123,1961.2L1128,1953.1L1133,1945.0L1137,1936.9L1142,1929.0L1147,1921.1L1152,1913.3L1157,1905.7L1161,1898.1L1166,1890.7L1171,1883.5L1176,1876.4L1180,1869.4L1185,1862.7L1190,1856.0L1195,1849.6L1200,1843.4L1204,1837.3L1209,1831.4L1214,1825.8L1219,1820.3L1223,1815.0L1228,1809.9L1233,1805.0L1238,1800.3L1243,1795.8L1247,1791.5L1252,1787.4L1257,1783.5L1262,1779.7L1267,1776.2L1271,1772.8L1276,1769.6L1281,1766.6L1286,1763.7L1290,1761.0L1295,1758.5L1300,1756.1L1305,1753.8L1310,1751.7L1314,1749.7L1319,1747.9L1324,1746.2L1329,1744.6L1333,1743.1L1338,1741.7L1343,1740.4L1348,1739.2L1353,1738.1L1357,1737.1L1362,1736.1L1367,1735.3L1372,1734.5L1376,1733.8L1381,1733.1L1386,1732.5L1391,1731.9"/>
<path d="M822,2236.9L827,2236.9L831,2236.8L836,2236.8L841,2236.7L846,2236.6L851,2236.5L855,2236.4L860,2236.2L865,2236.0L870,2235.8L875,2235.6L879,2235.3L884,2234.9L889,2234.6L894,2234.1L898,2233.6L903,2233.0L908,2232.3L913,2231.5L918,2230.7L922,2229.7L927,2228.7L932,2227.5L937,2226.2L941,2224.8L946,2223.3L951,2221.6L956,2219.8L961,2217.8L965,2215.7L970,2213.5L975,2211.1L980,2208.5L984,2205.8L989,2202.9L994,2199.9L999,2196.7L1004,2193.4L1008,2189.8L1013,2186.2L1018,2182.4L1023,2178.4L1027,2174.3L1032,2170.1L1037,2165.7L1042,2161.1L1047,2156.5L1051,2151.7L1056,2146.8L1061,2141.8L1066,2136.7L1071,2131.5L1075,2126.2L1080,2120.8L1085,2115.3L1090,2109.7L1094,2104.1L1099,2098.3L1104,2092.6L1109,2086.7L1114,2080.9L1118,2074.9L1123,2069.0L1128,2063.0L1133,2056.9L1137,2050.9L1142,2044.8L1147,2038.7L1152,2032.6L1157,2026.5L1161,2020.4L1166,2014.3L1171,2008.2L1176,2002.1L1180,1996.0L1185,1990.0L1190,1983.9L1195,1977.9L1200,1971.9L1204,1965.9L1209,1960.0L1214,1954.1L1219,1948.2L1223,1942.4L1228,1936.6L1233,1930.8L1238,1925.1L1243,1919.4L1247,1913.8L1252,1908.3L1257,1902.7L1262,1897.3L1267,1891.9L1271,1886.5L1276,1881.3L1281,1876.0L1286,1870.9L1290,1865.8L1295,1860.8L1300,1855.8L1305,1851.0L1310,1846.2L1314,1841.5L1319,1836.8L1324,1832.3L1329,1827.8L1333,1823.4L1338,1819.1L1343,1814.9L1348,1810.8L1353,1806.8L1357,1802.9L1362,1799.0L1367,1795.3L1372,1791.7L1376,1788.2L1381,1784.7L1386,1781.4L1391,1778.2"/>
</g>
<text transform="translate(1048.4,2223.9) scale(0.913,1)" font-size="68.5" font-weight="bold" fill="#000">350</text>
<text transform="translate(666.7,2038.6) rotate(-90) scale(1.206,1)" font-size="27.1" fill="#1a1a1a" stroke="#1a1a1a" stroke-width="0.8">Percent</text>
<text transform="translate(978.0,2341.4) scale(0.907,1)" font-size="33.7" fill="#1a1a1a" stroke="#1a1a1a" stroke-width="0.8">Copies/reaction</text>
<rect x="648" y="2489" width="800" height="688" fill="#e3e3e3"/>
<rect x="776" y="2505" width="660" height="592" fill="#ffffff"/>
<rect x="772" y="2501" width="664" height="4" fill="#a4a4a4"/>
<rect x="772" y="2505" width="4" height="596" fill="#c3c3c3"/>
<rect x="772" y="3097" width="664" height="4" fill="#c3c3c3"/>
<rect x="768" y="3059" width="4" height="4" fill="#c8c8c8"/>
<text transform="translate(752.9,3067.5) scale(0.986,1)" font-size="21.7" fill="#1a1a1a" stroke="#1a1a1a" stroke-width="0.7">0</text>
<rect x="768" y="2953" width="4" height="4" fill="#c8c8c8"/>
<text transform="translate(741.0,2961.7) scale(0.986,1)" font-size="21.7" fill="#1a1a1a" stroke="#1a1a1a" stroke-width="0.7">20</text>
<rect x="768" y="2847" width="4" height="4" fill="#c8c8c8"/>
<text transform="translate(741.0,2855.9) scale(0.986,1)" font-size="21.7" fill="#1a1a1a" stroke="#1a1a1a" stroke-width="0.7">40</text>
<rect x="768" y="2742" width="4" height="4" fill="#c8c8c8"/>
<text transform="translate(741.0,2750.1) scale(0.986,1)" font-size="21.7" fill="#1a1a1a" stroke="#1a1a1a" stroke-width="0.7">60</text>
<rect x="768" y="2636" width="4" height="4" fill="#c8c8c8"/>
<text transform="translate(741.0,2644.3) scale(0.986,1)" font-size="21.7" fill="#1a1a1a" stroke="#1a1a1a" stroke-width="0.7">80</text>
<rect x="768" y="2530" width="4" height="4" fill="#c8c8c8"/>
<text transform="translate(729.1,2538.5) scale(0.986,1)" font-size="21.7" fill="#1a1a1a" stroke="#1a1a1a" stroke-width="0.7">100</text>
<rect x="780" y="3101" width="4" height="4" fill="#c8c8c8"/>
<text transform="translate(776.2,3129.0) scale(0.897,1)" font-size="23.2" fill="#1a1a1a" stroke="#1a1a1a" stroke-width="0.7">0</text>
<rect x="898" y="3101" width="4" height="4" fill="#c8c8c8"/>
<text transform="translate(882.0,3129.0) scale(0.913,1)" font-size="23.2" fill="#1a1a1a" stroke="#1a1a1a" stroke-width="0.7">100</text>
<rect x="1016" y="3101" width="4" height="4" fill="#c8c8c8"/>
<text transform="translate(1000.2,3129.0) scale(0.913,1)" font-size="23.2" fill="#1a1a1a" stroke="#1a1a1a" stroke-width="0.7">200</text>
<rect x="1134" y="3101" width="4" height="4" fill="#c8c8c8"/>
<text transform="translate(1118.3,3129.0) scale(0.913,1)" font-size="23.2" fill="#1a1a1a" stroke="#1a1a1a" stroke-width="0.7">300</text>
<rect x="1252" y="3101" width="4" height="4" fill="#c8c8c8"/>
<text transform="translate(1236.7,3129.0) scale(0.907,1)" font-size="23.2" fill="#1a1a1a" stroke="#1a1a1a" stroke-width="0.7">400</text>
<rect x="1370" y="3101" width="4" height="4" fill="#c8c8c8"/>
<text transform="translate(1354.4,3129.0) scale(0.910,1)" font-size="23.2" fill="#1a1a1a" stroke="#1a1a1a" stroke-width="0.7">500</text>
<path d="M776 2559H1328" stroke="#000" stroke-width="4" stroke-dasharray="12 4 12 4 12 4 12 4 4 8 4 8 4 8 4 8"/>
<path d="M1326 2559V3081" stroke="#000" stroke-width="4" stroke-dasharray="4 8"/>
<g fill="none" stroke="#dcaaaa" stroke-width="3.5">
<path d="M854,3038.5L858,3037.2L862,3035.8L867,3034.4L871,3032.8L875,3031.2L879,3029.4L883,3027.6L887,3025.7L891,3023.6L896,3021.4L900,3019.1L904,3016.7L908,3014.2L912,3011.5L916,3008.7L920,3005.7L925,3002.6L929,2999.3L933,2995.8L937,2992.2L941,2988.4L945,2984.4L949,2980.3L954,2976.0L958,2971.4L962,2966.7L966,2961.8L970,2956.7L974,2951.3L978,2945.8L982,2940.1L987,2934.1L991,2928.0L995,2921.6L999,2915.1L1003,2908.3L1007,2901.4L1011,2894.2L1016,2886.9L1020,2879.3L1024,2871.6L1028,2863.8L1032,2855.8L1036,2847.6L1040,2839.3L1045,2830.8L1049,2822.3L1053,2813.6L1057,2804.9L1061,2796.1L1065,2787.2L1069,2778.3L1074,2769.3L1078,2760.4L1082,2751.5L1086,2742.6L1090,2733.7L1094,2724.9L1098,2716.2L1103,2707.6L1107,2699.1L1111,2690.7L1115,2682.5L1119,2674.4L1123,2666.6L1127,2658.9L1132,2651.4L1136,2644.2L1140,2637.1L1144,2630.3L1148,2623.8L1152,2617.5L1156,2611.5L1161,2605.7L1165,2600.2L1169,2594.9L1173,2590.0L1177,2585.3L1181,2580.8L1185,2576.6L1189,2572.7L1194,2569.1L1198,2565.6L1202,2562.4L1206,2559.5L1210,2556.7L1214,2554.2L1218,2551.9L1223,2549.8L1227,2547.8L1231,2546.1L1235,2544.4L1239,2543.0L1243,2541.7L1247,2540.5L1252,2539.4L1256,2538.5L1260,2537.6L1264,2536.9L1268,2536.2L1272,2535.6L1276,2535.1L1281,2534.7L1285,2534.3L1289,2533.9L1293,2533.6L1297,2533.4L1301,2533.2L1305,2533.0L1310,2532.8L1314,2532.7L1318,2532.6L1322,2532.5L1326,2532.4L1330,2532.3L1334,2532.3L1339,2532.2L1343,2532.2L1347,2532.1"/>
<path d="M854,3057.8L859,3057.3L863,3056.8L868,3056.2L873,3055.5L877,3054.8L882,3053.9L886,3053.0L891,3052.0L896,3050.9L900,3049.7L905,3048.4L910,3047.0L914,3045.4L919,3043.8L923,3041.9L928,3040.0L933,3037.9L937,3035.6L942,3033.2L946,3030.6L951,3027.8L956,3024.9L960,3021.8L965,3018.5L969,3015.0L974,3011.3L979,3007.5L983,3003.4L988,2999.2L993,2994.7L997,2990.1L1002,2985.2L1006,2980.2L1011,2975.0L1016,2969.6L1020,2964.0L1025,2958.2L1029,2952.2L1034,2946.0L1039,2939.7L1043,2933.2L1048,2926.6L1052,2919.8L1057,2912.8L1062,2905.8L1066,2898.5L1071,2891.2L1076,2883.8L1080,2876.2L1085,2868.6L1089,2860.9L1094,2853.1L1099,2845.2L1103,2837.3L1108,2829.3L1112,2821.4L1117,2813.4L1122,2805.3L1126,2797.3L1131,2789.3L1136,2781.4L1140,2773.4L1145,2765.5L1149,2757.7L1154,2749.9L1159,2742.2L1163,2734.6L1168,2727.0L1172,2719.6L1177,2712.2L1182,2705.0L1186,2697.9L1191,2691.0L1195,2684.1L1200,2677.4L1205,2670.9L1209,2664.5L1214,2658.2L1219,2652.2L1223,2646.3L1228,2640.5L1232,2634.9L1237,2629.5L1242,2624.3L1246,2619.2L1251,2614.4L1255,2609.7L1260,2605.1L1265,2600.8L1269,2596.6L1274,2592.6L1278,2588.8L1283,2585.1L1288,2581.6L1292,2578.3L1297,2575.1L1302,2572.1L1306,2569.2L1311,2566.5L1315,2564.0L1320,2561.6L1325,2559.3L1329,2557.2L1334,2555.1L1338,2553.3L1343,2551.5L1348,2549.8L1352,2548.3L1357,2546.9L1362,2545.5L1366,2544.3L1371,2543.2L1375,2542.1L1380,2541.1L1385,2540.2L1389,2539.4L1394,2538.7L1398,2538.0L1403,2537.3"/>
<path d="M854,3061.0L859,3060.9L863,3060.9L868,3060.9L873,3060.9L877,3060.8L882,3060.8L886,3060.7L891,3060.6L896,3060.5L900,3060.4L905,3060.2L910,3060.0L914,3059.8L919,3059.5L923,3059.2L928,3058.8L933,3058.3L937,3057.8L942,3057.1L946,3056.4L951,3055.6L956,3054.7L960,3053.7L965,3052.5L969,3051.3L974,3049.8L979,3048.3L983,3046.5L988,3044.7L993,3042.6L997,3040.4L1002,3038.0L1006,3035.4L1011,3032.7L1016,3029.8L1020,3026.6L1025,3023.3L1029,3019.8L1034,3016.1L1039,3012.3L1043,3008.2L1048,3004.0L1052,2999.6L1057,2995.0L1062,2990.2L1066,2985.3L1071,2980.2L1076,2975.0L1080,2969.7L1085,2964.1L1089,2958.5L1094,2952.8L1099,2946.9L1103,2940.9L1108,2934.8L1112,2928.6L1117,2922.3L1122,2916.0L1126,2909.6L1131,2903.1L1136,2896.5L1140,2889.9L1145,2883.3L1149,2876.6L1154,2869.9L1159,2863.1L1163,2856.4L1168,2849.6L1172,2842.8L1177,2836.0L1182,2829.2L1186,2822.4L1191,2815.6L1195,2808.8L1200,2802.0L1205,2795.3L1209,2788.6L1214,2781.9L1219,2775.3L1223,2768.6L1228,2762.1L1232,2755.5L1237,2749.1L1242,2742.6L1246,2736.2L1251,2729.9L1255,2723.6L1260,2717.4L1265,2711.2L1269,2705.2L1274,2699.1L1278,2693.2L1283,2687.3L1288,2681.5L1292,2675.8L1297,2670.2L1302,2664.6L1306,2659.2L1311,2653.8L1315,2648.5L1320,2643.4L1325,2638.3L1329,2633.3L1334,2628.5L1338,2623.7L1343,2619.1L1348,2614.5L1352,2610.1L1357,2605.8L1362,2601.7L1366,2597.6L1371,2593.7L1375,2589.9L1380,2586.3L1385,2582.7L1389,2579.3L1394,2576.1L1398,2572.9L1403,2570.0"/>
</g>
<g fill="none" stroke="#931c1c" stroke-width="3.5" stroke-dasharray="5 4">
<path d="M854,3038.5L858,3037.2L862,3035.8L867,3034.4L871,3032.8L875,3031.2L879,3029.4L883,3027.6L887,3025.7L891,3023.6L896,3021.4L900,3019.1L904,3016.7L908,3014.2L912,3011.5L916,3008.7L920,3005.7L925,3002.6L929,2999.3L933,2995.8L937,2992.2L941,2988.4L945,2984.4L949,2980.3L954,2976.0L958,2971.4L962,2966.7L966,2961.8L970,2956.7L974,2951.3L978,2945.8L982,2940.1L987,2934.1L991,2928.0L995,2921.6L999,2915.1L1003,2908.3L1007,2901.4L1011,2894.2L1016,2886.9L1020,2879.3L1024,2871.6L1028,2863.8L1032,2855.8L1036,2847.6L1040,2839.3L1045,2830.8L1049,2822.3L1053,2813.6L1057,2804.9L1061,2796.1L1065,2787.2L1069,2778.3L1074,2769.3L1078,2760.4L1082,2751.5L1086,2742.6L1090,2733.7L1094,2724.9L1098,2716.2L1103,2707.6L1107,2699.1L1111,2690.7L1115,2682.5L1119,2674.4L1123,2666.6L1127,2658.9L1132,2651.4L1136,2644.2L1140,2637.1L1144,2630.3L1148,2623.8L1152,2617.5L1156,2611.5L1161,2605.7L1165,2600.2L1169,2594.9L1173,2590.0L1177,2585.3L1181,2580.8L1185,2576.6L1189,2572.7L1194,2569.1L1198,2565.6L1202,2562.4L1206,2559.5L1210,2556.7L1214,2554.2L1218,2551.9L1223,2549.8L1227,2547.8L1231,2546.1L1235,2544.4L1239,2543.0L1243,2541.7L1247,2540.5L1252,2539.4L1256,2538.5L1260,2537.6L1264,2536.9L1268,2536.2L1272,2535.6L1276,2535.1L1281,2534.7L1285,2534.3L1289,2533.9L1293,2533.6L1297,2533.4L1301,2533.2L1305,2533.0L1310,2532.8L1314,2532.7L1318,2532.6L1322,2532.5L1326,2532.4L1330,2532.3L1334,2532.3L1339,2532.2L1343,2532.2L1347,2532.1"/>
<path d="M854,3057.8L859,3057.3L863,3056.8L868,3056.2L873,3055.5L877,3054.8L882,3053.9L886,3053.0L891,3052.0L896,3050.9L900,3049.7L905,3048.4L910,3047.0L914,3045.4L919,3043.8L923,3041.9L928,3040.0L933,3037.9L937,3035.6L942,3033.2L946,3030.6L951,3027.8L956,3024.9L960,3021.8L965,3018.5L969,3015.0L974,3011.3L979,3007.5L983,3003.4L988,2999.2L993,2994.7L997,2990.1L1002,2985.2L1006,2980.2L1011,2975.0L1016,2969.6L1020,2964.0L1025,2958.2L1029,2952.2L1034,2946.0L1039,2939.7L1043,2933.2L1048,2926.6L1052,2919.8L1057,2912.8L1062,2905.8L1066,2898.5L1071,2891.2L1076,2883.8L1080,2876.2L1085,2868.6L1089,2860.9L1094,2853.1L1099,2845.2L1103,2837.3L1108,2829.3L1112,2821.4L1117,2813.4L1122,2805.3L1126,2797.3L1131,2789.3L1136,2781.4L1140,2773.4L1145,2765.5L1149,2757.7L1154,2749.9L1159,2742.2L1163,2734.6L1168,2727.0L1172,2719.6L1177,2712.2L1182,2705.0L1186,2697.9L1191,2691.0L1195,2684.1L1200,2677.4L1205,2670.9L1209,2664.5L1214,2658.2L1219,2652.2L1223,2646.3L1228,2640.5L1232,2634.9L1237,2629.5L1242,2624.3L1246,2619.2L1251,2614.4L1255,2609.7L1260,2605.1L1265,2600.8L1269,2596.6L1274,2592.6L1278,2588.8L1283,2585.1L1288,2581.6L1292,2578.3L1297,2575.1L1302,2572.1L1306,2569.2L1311,2566.5L1315,2564.0L1320,2561.6L1325,2559.3L1329,2557.2L1334,2555.1L1338,2553.3L1343,2551.5L1348,2549.8L1352,2548.3L1357,2546.9L1362,2545.5L1366,2544.3L1371,2543.2L1375,2542.1L1380,2541.1L1385,2540.2L1389,2539.4L1394,2538.7L1398,2538.0L1403,2537.3"/>
<path d="M854,3061.0L859,3060.9L863,3060.9L868,3060.9L873,3060.9L877,3060.8L882,3060.8L886,3060.7L891,3060.6L896,3060.5L900,3060.4L905,3060.2L910,3060.0L914,3059.8L919,3059.5L923,3059.2L928,3058.8L933,3058.3L937,3057.8L942,3057.1L946,3056.4L951,3055.6L956,3054.7L960,3053.7L965,3052.5L969,3051.3L974,3049.8L979,3048.3L983,3046.5L988,3044.7L993,3042.6L997,3040.4L1002,3038.0L1006,3035.4L1011,3032.7L1016,3029.8L1020,3026.6L1025,3023.3L1029,3019.8L1034,3016.1L1039,3012.3L1043,3008.2L1048,3004.0L1052,2999.6L1057,2995.0L1062,2990.2L1066,2985.3L1071,2980.2L1076,2975.0L1080,2969.7L1085,2964.1L1089,2958.5L1094,2952.8L1099,2946.9L1103,2940.9L1108,2934.8L1112,2928.6L1117,2922.3L1122,2916.0L1126,2909.6L1131,2903.1L1136,2896.5L1140,2889.9L1145,2883.3L1149,2876.6L1154,2869.9L1159,2863.1L1163,2856.4L1168,2849.6L1172,2842.8L1177,2836.0L1182,2829.2L1186,2822.4L1191,2815.6L1195,2808.8L1200,2802.0L1205,2795.3L1209,2788.6L1214,2781.9L1219,2775.3L1223,2768.6L1228,2762.1L1232,2755.5L1237,2749.1L1242,2742.6L1246,2736.2L1251,2729.9L1255,2723.6L1260,2717.4L1265,2711.2L1269,2705.2L1274,2699.1L1278,2693.2L1283,2687.3L1288,2681.5L1292,2675.8L1297,2670.2L1302,2664.6L1306,2659.2L1311,2653.8L1315,2648.5L1320,2643.4L1325,2638.3L1329,2633.3L1334,2628.5L1338,2623.7L1343,2619.1L1348,2614.5L1352,2610.1L1357,2605.8L1362,2601.7L1366,2597.6L1371,2593.7L1375,2589.9L1380,2586.3L1385,2582.7L1389,2579.3L1394,2576.1L1398,2572.9L1403,2570.0"/>
</g>
<text transform="translate(1047.5,3060.2) scale(0.949,1)" font-size="67.3" font-weight="bold" fill="#000">457</text>
<text transform="translate(703.9,2855.8) rotate(-90) scale(1.183,1)" font-size="28.3" fill="#1a1a1a" stroke="#1a1a1a" stroke-width="0.8">Percent</text>
<text transform="translate(1002.0,3169.9) scale(0.870,1)" font-size="33.8" fill="#1a1a1a" stroke="#1a1a1a" stroke-width="0.8">Copies/reaction</text>
<rect x="632" y="3261" width="836" height="701" fill="#e3e3e3"/>
<rect x="740" y="3277" width="708" height="577" fill="#ffffff"/>
<rect x="736" y="3273" width="712" height="4" fill="#a4a4a4"/>
<rect x="736" y="3277" width="4" height="581" fill="#c3c3c3"/>
<rect x="736" y="3854" width="712" height="4" fill="#c3c3c3"/>
<rect x="732" y="3816" width="4" height="4" fill="#c8c8c8"/>
<text transform="translate(716.9,3824.5) scale(0.986,1)" font-size="21.7" fill="#1a1a1a" stroke="#1a1a1a" stroke-width="0.7">0</text>
<rect x="732" y="3713" width="4" height="4" fill="#c8c8c8"/>
<text transform="translate(705.0,3721.9) scale(0.986,1)" font-size="21.7" fill="#1a1a1a" stroke="#1a1a1a" stroke-width="0.7">20</text>
<rect x="732" y="3611" width="4" height="4" fill="#c8c8c8"/>
<text transform="translate(705.0,3619.3) scale(0.986,1)" font-size="21.7" fill="#1a1a1a" stroke="#1a1a1a" stroke-width="0.7">40</text>
<rect x="732" y="3508" width="4" height="4" fill="#c8c8c8"/>
<text transform="translate(705.0,3516.7) scale(0.986,1)" font-size="21.7" fill="#1a1a1a" stroke="#1a1a1a" stroke-width="0.7">60</text>
<rect x="732" y="3406" width="4" height="4" fill="#c8c8c8"/>
<text transform="translate(705.0,3414.1) scale(0.986,1)" font-size="21.7" fill="#1a1a1a" stroke="#1a1a1a" stroke-width="0.7">80</text>
<rect x="732" y="3303" width="4" height="4" fill="#c8c8c8"/>
<text transform="translate(693.1,3311.5) scale(0.986,1)" font-size="21.7" fill="#1a1a1a" stroke="#1a1a1a" stroke-width="0.7">100</text>
<rect x="748" y="3858" width="4" height="4" fill="#c8c8c8"/>
<text transform="translate(742.3,3885.7) scale(0.897,1)" font-size="28.6" fill="#1a1a1a" stroke="#1a1a1a" stroke-width="0.7">0</text>
<rect x="917" y="3858" width="4" height="4" fill="#c8c8c8"/>
<text transform="translate(903.8,3885.7) scale(0.916,1)" font-size="28.6" fill="#1a1a1a" stroke="#1a1a1a" stroke-width="0.7">10</text>
<rect x="1086" y="3858" width="4" height="4" fill="#c8c8c8"/>
<text transform="translate(1073.4,3885.7) scale(0.916,1)" font-size="28.6" fill="#1a1a1a" stroke="#1a1a1a" stroke-width="0.7">20</text>
<rect x="1255" y="3858" width="4" height="4" fill="#c8c8c8"/>
<text transform="translate(1242.8,3885.7) scale(0.916,1)" font-size="28.6" fill="#1a1a1a" stroke="#1a1a1a" stroke-width="0.7">30</text>
<rect x="1425" y="3858" width="4" height="4" fill="#c8c8c8"/>
<text transform="translate(1412.5,3885.7) scale(0.907,1)" font-size="28.6" fill="#1a1a1a" stroke="#1a1a1a" stroke-width="0.7">40</text>
<path d="M740 3331H1328" stroke="#000" stroke-width="4" stroke-dasharray="12 4 12 4 12 4 12 4 4 8 4 8 4 8 4 8"/>
<path d="M1326 3331V3850" stroke="#000" stroke-width="4" stroke-dasharray="4 8"/>
<g fill="none" stroke="#dcaaaa" stroke-width="3.5">
<path d="M790,3798.3L794,3797.3L799,3796.2L803,3795.1L808,3793.9L812,3792.6L817,3791.2L822,3789.8L826,3788.3L831,3786.7L835,3785.0L840,3783.2L844,3781.3L849,3779.3L853,3777.2L858,3775.0L862,3772.6L867,3770.2L871,3767.6L876,3764.8L880,3761.9L885,3758.9L889,3755.7L894,3752.4L898,3748.9L903,3745.2L908,3741.4L912,3737.4L917,3733.2L921,3728.8L926,3724.2L930,3719.4L935,3714.4L939,3709.2L944,3703.8L948,3698.1L953,3692.3L957,3686.3L962,3680.0L966,3673.5L971,3666.9L975,3660.0L980,3652.9L985,3645.6L989,3638.1L994,3630.4L998,3622.5L1003,3614.5L1007,3606.3L1012,3597.9L1016,3589.4L1021,3580.8L1025,3572.0L1030,3563.2L1034,3554.3L1039,3545.3L1043,3536.2L1048,3527.2L1052,3518.1L1057,3509.0L1062,3500.0L1066,3491.0L1071,3482.0L1075,3473.2L1080,3464.5L1084,3455.9L1089,3447.4L1093,3439.2L1098,3431.1L1102,3423.2L1107,3415.6L1111,3408.2L1116,3401.0L1120,3394.1L1125,3387.5L1129,3381.1L1134,3375.1L1139,3369.3L1143,3363.9L1148,3358.7L1152,3353.8L1157,3349.3L1161,3345.0L1166,3341.0L1170,3337.3L1175,3333.9L1179,3330.8L1184,3327.9L1188,3325.3L1193,3322.9L1197,3320.7L1202,3318.7L1206,3317.0L1211,3315.4L1215,3314.0L1220,3312.7L1225,3311.6L1229,3310.6L1234,3309.8L1238,3309.0L1243,3308.4L1247,3307.9L1252,3307.4L1256,3307.0L1261,3306.6L1265,3306.3L1270,3306.1L1274,3305.9L1279,3305.7L1283,3305.6L1288,3305.5L1292,3305.4L1297,3305.3L1302,3305.2L1306,3305.2L1311,3305.1L1315,3305.1L1320,3305.1L1324,3305.1L1329,3305.0"/>
<path d="M790,3815.8L795,3815.4L800,3815.0L805,3814.5L811,3813.9L816,3813.2L821,3812.5L826,3811.7L832,3810.8L837,3809.8L842,3808.7L847,3807.5L853,3806.2L858,3804.7L863,3803.1L868,3801.4L873,3799.6L879,3797.6L884,3795.4L889,3793.1L894,3790.6L900,3788.0L905,3785.2L910,3782.2L915,3779.1L920,3775.8L926,3772.3L931,3768.6L936,3764.8L941,3760.7L947,3756.5L952,3752.1L957,3747.5L962,3742.8L967,3737.9L973,3732.8L978,3727.5L983,3722.1L988,3716.5L994,3710.7L999,3704.8L1004,3698.8L1009,3692.6L1014,3686.2L1020,3679.8L1025,3673.1L1030,3666.4L1035,3659.6L1041,3652.6L1046,3645.6L1051,3638.4L1056,3631.2L1061,3623.9L1067,3616.5L1072,3609.1L1077,3601.6L1082,3594.0L1088,3586.4L1093,3578.8L1098,3571.2L1103,3563.5L1108,3555.8L1114,3548.2L1119,3540.5L1124,3532.9L1129,3525.2L1135,3517.7L1140,3510.1L1145,3502.7L1150,3495.2L1156,3487.9L1161,3480.6L1166,3473.4L1171,3466.3L1176,3459.3L1182,3452.5L1187,3445.7L1192,3439.0L1197,3432.5L1203,3426.2L1208,3419.9L1213,3413.8L1218,3407.9L1223,3402.1L1229,3396.5L1234,3391.1L1239,3385.9L1244,3380.8L1250,3375.9L1255,3371.2L1260,3366.6L1265,3362.3L1270,3358.2L1276,3354.2L1281,3350.4L1286,3346.8L1291,3343.4L1297,3340.2L1302,3337.2L1307,3334.4L1312,3331.7L1317,3329.2L1323,3326.9L1328,3324.7L1333,3322.7L1338,3320.8L1344,3319.1L1349,3317.6L1354,3316.1L1359,3314.8L1364,3313.6L1370,3312.6L1375,3311.6L1380,3310.7L1385,3310.0L1391,3309.3L1396,3308.7L1401,3308.1L1406,3307.6L1412,3307.2"/>
<path d="M790,3818.0L795,3818.0L800,3818.0L805,3818.0L811,3818.0L816,3818.0L821,3818.0L826,3817.9L832,3817.9L837,3817.9L842,3817.8L847,3817.8L853,3817.7L858,3817.6L863,3817.4L868,3817.3L873,3817.0L879,3816.8L884,3816.4L889,3816.0L894,3815.5L900,3815.0L905,3814.3L910,3813.5L915,3812.5L920,3811.5L926,3810.2L931,3808.9L936,3807.3L941,3805.5L947,3803.6L952,3801.4L957,3799.0L962,3796.4L967,3793.6L973,3790.5L978,3787.2L983,3783.7L988,3779.9L994,3775.9L999,3771.7L1004,3767.2L1009,3762.5L1014,3757.6L1020,3752.5L1025,3747.2L1030,3741.8L1035,3736.1L1041,3730.3L1046,3724.3L1051,3718.2L1056,3712.0L1061,3705.6L1067,3699.2L1072,3692.6L1077,3686.0L1082,3679.3L1088,3672.5L1093,3665.7L1098,3658.9L1103,3652.0L1108,3645.1L1114,3638.2L1119,3631.3L1124,3624.4L1129,3617.6L1135,3610.7L1140,3603.9L1145,3597.1L1150,3590.4L1156,3583.7L1161,3577.1L1166,3570.5L1171,3563.9L1176,3557.5L1182,3551.1L1187,3544.7L1192,3538.4L1197,3532.2L1203,3526.1L1208,3520.0L1213,3514.0L1218,3508.0L1223,3502.2L1229,3496.4L1234,3490.7L1239,3485.0L1244,3479.5L1250,3474.0L1255,3468.6L1260,3463.2L1265,3458.0L1270,3452.8L1276,3447.7L1281,3442.6L1286,3437.6L1291,3432.8L1297,3427.9L1302,3423.2L1307,3418.5L1312,3414.0L1317,3409.5L1323,3405.0L1328,3400.7L1333,3396.4L1338,3392.3L1344,3388.2L1349,3384.2L1354,3380.3L1359,3376.5L1364,3372.7L1370,3369.1L1375,3365.6L1380,3362.1L1385,3358.8L1391,3355.6L1396,3352.4L1401,3349.4L1406,3346.5L1412,3343.7"/>
</g>
<g fill="none" stroke="#931c1c" stroke-width="3.5" stroke-dasharray="5 4">
<path d="M790,3798.3L794,3797.3L799,3796.2L803,3795.1L808,3793.9L812,3792.6L817,3791.2L822,3789.8L826,3788.3L831,3786.7L835,3785.0L840,3783.2L844,3781.3L849,3779.3L853,3777.2L858,3775.0L862,3772.6L867,3770.2L871,3767.6L876,3764.8L880,3761.9L885,3758.9L889,3755.7L894,3752.4L898,3748.9L903,3745.2L908,3741.4L912,3737.4L917,3733.2L921,3728.8L926,3724.2L930,3719.4L935,3714.4L939,3709.2L944,3703.8L948,3698.1L953,3692.3L957,3686.3L962,3680.0L966,3673.5L971,3666.9L975,3660.0L980,3652.9L985,3645.6L989,3638.1L994,3630.4L998,3622.5L1003,3614.5L1007,3606.3L1012,3597.9L1016,3589.4L1021,3580.8L1025,3572.0L1030,3563.2L1034,3554.3L1039,3545.3L1043,3536.2L1048,3527.2L1052,3518.1L1057,3509.0L1062,3500.0L1066,3491.0L1071,3482.0L1075,3473.2L1080,3464.5L1084,3455.9L1089,3447.4L1093,3439.2L1098,3431.1L1102,3423.2L1107,3415.6L1111,3408.2L1116,3401.0L1120,3394.1L1125,3387.5L1129,3381.1L1134,3375.1L1139,3369.3L1143,3363.9L1148,3358.7L1152,3353.8L1157,3349.3L1161,3345.0L1166,3341.0L1170,3337.3L1175,3333.9L1179,3330.8L1184,3327.9L1188,3325.3L1193,3322.9L1197,3320.7L1202,3318.7L1206,3317.0L1211,3315.4L1215,3314.0L1220,3312.7L1225,3311.6L1229,3310.6L1234,3309.8L1238,3309.0L1243,3308.4L1247,3307.9L1252,3307.4L1256,3307.0L1261,3306.6L1265,3306.3L1270,3306.1L1274,3305.9L1279,3305.7L1283,3305.6L1288,3305.5L1292,3305.4L1297,3305.3L1302,3305.2L1306,3305.2L1311,3305.1L1315,3305.1L1320,3305.1L1324,3305.1L1329,3305.0"/>
<path d="M790,3815.8L795,3815.4L800,3815.0L805,3814.5L811,3813.9L816,3813.2L821,3812.5L826,3811.7L832,3810.8L837,3809.8L842,3808.7L847,3807.5L853,3806.2L858,3804.7L863,3803.1L868,3801.4L873,3799.6L879,3797.6L884,3795.4L889,3793.1L894,3790.6L900,3788.0L905,3785.2L910,3782.2L915,3779.1L920,3775.8L926,3772.3L931,3768.6L936,3764.8L941,3760.7L947,3756.5L952,3752.1L957,3747.5L962,3742.8L967,3737.9L973,3732.8L978,3727.5L983,3722.1L988,3716.5L994,3710.7L999,3704.8L1004,3698.8L1009,3692.6L1014,3686.2L1020,3679.8L1025,3673.1L1030,3666.4L1035,3659.6L1041,3652.6L1046,3645.6L1051,3638.4L1056,3631.2L1061,3623.9L1067,3616.5L1072,3609.1L1077,3601.6L1082,3594.0L1088,3586.4L1093,3578.8L1098,3571.2L1103,3563.5L1108,3555.8L1114,3548.2L1119,3540.5L1124,3532.9L1129,3525.2L1135,3517.7L1140,3510.1L1145,3502.7L1150,3495.2L1156,3487.9L1161,3480.6L1166,3473.4L1171,3466.3L1176,3459.3L1182,3452.5L1187,3445.7L1192,3439.0L1197,3432.5L1203,3426.2L1208,3419.9L1213,3413.8L1218,3407.9L1223,3402.1L1229,3396.5L1234,3391.1L1239,3385.9L1244,3380.8L1250,3375.9L1255,3371.2L1260,3366.6L1265,3362.3L1270,3358.2L1276,3354.2L1281,3350.4L1286,3346.8L1291,3343.4L1297,3340.2L1302,3337.2L1307,3334.4L1312,3331.7L1317,3329.2L1323,3326.9L1328,3324.7L1333,3322.7L1338,3320.8L1344,3319.1L1349,3317.6L1354,3316.1L1359,3314.8L1364,3313.6L1370,3312.6L1375,3311.6L1380,3310.7L1385,3310.0L1391,3309.3L1396,3308.7L1401,3308.1L1406,3307.6L1412,3307.2"/>
<path d="M790,3818.0L795,3818.0L800,3818.0L805,3818.0L811,3818.0L816,3818.0L821,3818.0L826,3817.9L832,3817.9L837,3817.9L842,3817.8L847,3817.8L853,3817.7L858,3817.6L863,3817.4L868,3817.3L873,3817.0L879,3816.8L884,3816.4L889,3816.0L894,3815.5L900,3815.0L905,3814.3L910,3813.5L915,3812.5L920,3811.5L926,3810.2L931,3808.9L936,3807.3L941,3805.5L947,3803.6L952,3801.4L957,3799.0L962,3796.4L967,3793.6L973,3790.5L978,3787.2L983,3783.7L988,3779.9L994,3775.9L999,3771.7L1004,3767.2L1009,3762.5L1014,3757.6L1020,3752.5L1025,3747.2L1030,3741.8L1035,3736.1L1041,3730.3L1046,3724.3L1051,3718.2L1056,3712.0L1061,3705.6L1067,3699.2L1072,3692.6L1077,3686.0L1082,3679.3L1088,3672.5L1093,3665.7L1098,3658.9L1103,3652.0L1108,3645.1L1114,3638.2L1119,3631.3L1124,3624.4L1129,3617.6L1135,3610.7L1140,3603.9L1145,3597.1L1150,3590.4L1156,3583.7L1161,3577.1L1166,3570.5L1171,3563.9L1176,3557.5L1182,3551.1L1187,3544.7L1192,3538.4L1197,3532.2L1203,3526.1L1208,3520.0L1213,3514.0L1218,3508.0L1223,3502.2L1229,3496.4L1234,3490.7L1239,3485.0L1244,3479.5L1250,3474.0L1255,3468.6L1260,3463.2L1265,3458.0L1270,3452.8L1276,3447.7L1281,3442.6L1286,3437.6L1291,3432.8L1297,3427.9L1302,3423.2L1307,3418.5L1312,3414.0L1317,3409.5L1323,3405.0L1328,3400.7L1333,3396.4L1338,3392.3L1344,3388.2L1349,3384.2L1354,3380.3L1359,3376.5L1364,3372.7L1370,3369.1L1375,3365.6L1380,3362.1L1385,3358.8L1391,3355.6L1396,3352.4L1401,3349.4L1406,3346.5L1412,3343.7"/>
</g>
<text transform="translate(1047.4,3790.9) scale(0.986,1)" font-size="63.1" font-weight="bold" fill="#000">33.7</text>
<text transform="translate(665.3,3621.7) rotate(-90) scale(1.109,1)" font-size="30.9" fill="#1a1a1a" stroke="#1a1a1a" stroke-width="0.8">Percent</text>
<text transform="translate(986.3,3923.4) scale(1.063,1)" font-size="29.2" fill="#1a1a1a" stroke="#1a1a1a" stroke-width="0.8">Copies/reaction</text>
<rect x="1528" y="57" width="852" height="684" fill="#c2d4e4"/>
<rect x="1604" y="117" width="748" height="564" fill="#ffffff"/>
<rect x="1600" y="113" width="756" height="4" fill="#6e7b8b"/>
<rect x="1600" y="113" width="4" height="572" fill="#6e7b8b"/>
<rect x="2352" y="113" width="4" height="572" fill="#8898a8"/>
<rect x="1600" y="681" width="756" height="4" fill="#8a8a8a"/>
<text transform="translate(1877.0,100.5) scale(0.943,1)" font-size="16.6" fill="#5a6270">Amplification Curves</text>
<text transform="translate(1562.1,155.5) scale(0.850,1)" font-size="15.9" fill="#5c6470">88.5%</text>
<text transform="translate(1562.1,201.4) scale(0.850,1)" font-size="15.9" fill="#5c6470">80.5%</text>
<text transform="translate(1562.1,247.2) scale(0.850,1)" font-size="15.9" fill="#5c6470">72.5%</text>
<text transform="translate(1562.1,288.2) scale(0.850,1)" font-size="15.9" fill="#5c6470">64.5%</text>
<text transform="translate(1562.1,332.8) scale(0.850,1)" font-size="15.9" fill="#5c6470">56.5%</text>
<text transform="translate(1562.1,378.6) scale(0.850,1)" font-size="15.9" fill="#5c6470">48.5%</text>
<text transform="translate(1562.1,422.6) scale(0.850,1)" font-size="15.9" fill="#5c6470">40.5%</text>
<text transform="translate(1562.1,465.5) scale(0.850,1)" font-size="15.9" fill="#5c6470">32.5%</text>
<text transform="translate(1562.1,510.1) scale(0.850,1)" font-size="15.9" fill="#5c6470">24.5%</text>
<text transform="translate(1562.1,554.1) scale(0.850,1)" font-size="15.9" fill="#5c6470">16.5%</text>
<text transform="translate(1569.6,598.7) scale(0.850,1)" font-size="15.9" fill="#5c6470">8.5%</text>
<text transform="translate(1569.6,643.3) scale(0.850,1)" font-size="15.9" fill="#5c6470">0.5%</text>
<text transform="translate(1550.3,489.0) rotate(-90) scale(1.238,1)" font-size="12.8" font-weight="bold" fill="#2a2e36">Fluorescence (465-510)</text>
<rect x="1674" y="685" width="2" height="4" fill="#8a96a4"/>
<text transform="translate(1671.7,703.0) scale(0.800,1)" font-size="15.9" fill="#4a5260">5</text>
<rect x="1758" y="685" width="2" height="4" fill="#8a96a4"/>
<text transform="translate(1751.9,703.0) scale(0.800,1)" font-size="15.9" fill="#4a5260">10</text>
<rect x="1842" y="685" width="2" height="4" fill="#8a96a4"/>
<text transform="translate(1835.9,703.0) scale(0.800,1)" font-size="15.9" fill="#4a5260">15</text>
<rect x="1926" y="685" width="2" height="4" fill="#8a96a4"/>
<text transform="translate(1920.0,703.0) scale(0.800,1)" font-size="15.9" fill="#4a5260">20</text>
<rect x="2010" y="685" width="2" height="4" fill="#8a96a4"/>
<text transform="translate(2004.1,703.0) scale(0.800,1)" font-size="15.9" fill="#4a5260">25</text>
<rect x="2094" y="685" width="2" height="4" fill="#8a96a4"/>
<text transform="translate(2088.1,703.0) scale(0.800,1)" font-size="15.9" fill="#4a5260">30</text>
<rect x="2178" y="685" width="2" height="4" fill="#8a96a4"/>
<text transform="translate(2172.1,703.0) scale(0.800,1)" font-size="15.9" fill="#4a5260">35</text>
<rect x="2262" y="685" width="2" height="4" fill="#8a96a4"/>
<text transform="translate(2256.2,703.0) scale(0.800,1)" font-size="15.9" fill="#4a5260">40</text>
<rect x="2346" y="685" width="2" height="4" fill="#8a96a4"/>
<text transform="translate(2340.2,703.0) scale(0.800,1)" font-size="15.9" fill="#4a5260">45</text>
<text transform="translate(1955.4,723.2) scale(0.704,1)" font-size="20.3" font-weight="bold" fill="#3a4250">Cycles</text>
<clipPath id="c1"><rect x="1604" y="117" width="748" height="564"/></clipPath>
<g clip-path="url(#c1)" fill="none">
<path d="M1606,637.0L1927,636.5L2348,635.0L2348,640.0L1927,640.5L1606,641.0Z" fill="#3ee23e" stroke="none" fill-opacity="0.9"/>
<g stroke="#d62424" stroke-width="3.5" stroke-opacity="0.2">
<path d="M1927 635l9 0 8 0 8-1 9-1 8-1 9-1 8-1 8-2 9-3 8-7 9-12 8-14 8-13 9-14 8-15 9-17 8-18 8-19 9-20 8-21 9-22 8-20 8-21 9-19 8-16 9-14 8-14 8-14 9-13 8-13 9-12 8-11 8-11 9-9 8-9 9-8 8-8 8-8 9-7 8-7 9-6 8-6 8-5 9-6 8-5 9-4 8-3 8-4 9-2 8-3"/>
<path d="M1927 635l9 0 8 0 8-1 9-1 8-1 9-1 8-1 8-2 9-2 8-7 9-12 8-14 8-13 9-13 8-15 9-16 8-17 8-19 9-20 8-21 9-21 8-19 8-20 9-19 8-15 9-15 8-13 8-13 9-13 8-13 9-11 8-11 8-11 9-9 8-8 9-8 8-8 8-7 9-8 8-6 9-6 8-6 8-5 9-6 8-5 9-4 8-3 8-3 9-3 8-2"/>
<path d="M1936 635l8 0 8 0 9-1 8-1 9-1 8-1 8-1 9-2 8-2 9-7 8-12 8-14 9-12 8-14 9-14 8-16 8-17 9-19 8-19 9-21 8-21 8-20 9-19 8-18 9-16 8-14 8-13 9-13 8-13 9-13 8-11 8-11 9-11 8-9 9-8 8-8 8-8 9-7 8-7 9-7 8-6 8-5 9-6 8-5 9-5 8-4 8-3 9-3 8-3"/>
<path d="M1944 635l8 0 9 0 8-1 9-1 8-1 8-1 9-1 8-2 9-3 8-7 8-12 9-13 8-13 9-13 8-14 8-16 9-18 8-18 9-19 8-21 8-20 9-19 8-20 9-17 8-16 8-13 9-13 8-13 9-13 8-12 8-11 9-11 8-10 9-9 8-8 8-8 9-7 8-8 9-6 8-7 8-5 9-6 8-5 9-6 8-4 8-4 9-3 8-3"/>
<path d="M1952 635l9 0 8-1 9 0 8-1 8-1 9-1 8-1 9-2 8-3 8-9 9-13 8-13 9-12 8-14 8-14 9-16 8-18 9-18 8-20 8-20 9-20 8-20 9-19 8-17 8-15 9-13 8-13 9-13 8-13 8-11 9-12 8-10 9-10 8-9 8-8 9-7 8-8 9-7 8-7 8-6 9-6 8-5 9-5 8-6 8-4 9-4 8-3"/>
<path d="M1969 635l9 0 8-1 8 0 9-1 8-1 9-1 8-1 8-2 9-4 8-9 9-12 8-12 8-12 9-13 8-14 9-16 8-17 8-17 9-19 8-20 9-19 8-18 8-18 9-16 8-13 9-13 8-12 8-12 9-12 8-12 9-10 8-10 8-9 9-8 8-8 9-7 8-7 8-7 9-6 8-6 9-5 8-5 8-5 9-5 8-4"/>
<path d="M1969 635l9 0 8 0 8-1 9-1 8-1 9-1 8-1 8-2 9-2 8-7 9-12 8-12 8-12 9-12 8-14 9-15 8-16 8-17 9-18 8-19 9-19 8-19 8-17 9-17 8-14 9-13 8-12 8-12 9-12 8-11 9-11 8-10 8-9 9-8 8-8 9-7 8-7 8-7 9-6 8-6 9-6 8-5 8-5 9-5 8-4"/>
<path d="M1969 635l9 0 8 0 8-1 9 0 8-1 9-1 8-2 8-1 9-2 8-6 9-10 8-13 8-11 9-12 8-13 9-15 8-15 8-17 9-18 8-18 9-19 8-18 8-18 9-17 8-14 9-13 8-12 8-12 9-12 8-11 9-11 8-10 8-9 9-9 8-8 9-7 8-7 8-6 9-7 8-6 9-5 8-5 8-5 9-5 8-5"/>
<path d="M1978 635l8 0 8 0 9-1 8-1 9-1 8-1 8-1 9-1 8-3 9-8 8-11 8-11 9-11 8-12 9-12 8-15 8-15 9-16 8-17 9-18 8-17 8-17 9-17 8-15 9-13 8-11 8-12 9-11 8-11 9-10 8-10 8-9 9-9 8-8 9-7 8-6 8-7 9-6 8-6 9-5 8-5 8-5 9-5 8-4"/>
<path d="M1994 635l9 0 8 0 9-1 8-1 8-1 9-1 8-1 9-1 8-3 8-8 9-11 8-11 9-11 8-11 8-12 9-14 8-15 9-15 8-17 8-17 9-17 8-16 9-16 8-14 8-13 9-11 8-11 9-10 8-11 8-10 9-9 8-9 9-8 8-7 8-7 9-6 8-7 9-6 8-5 8-5 9-5 8-5"/>
<path d="M1994 635l9 0 8 0 9-1 8 0 8-1 9-1 8-1 9-2 8-2 8-7 9-10 8-11 9-10 8-11 8-12 9-13 8-14 9-15 8-16 8-17 9-16 8-16 9-16 8-14 8-13 9-11 8-10 9-11 8-10 8-10 9-9 8-9 9-8 8-7 8-7 9-6 8-6 9-6 8-6 8-5 9-5 8-4"/>
<path d="M2003 635l8 0 9 0 8-1 8 0 9-1 8-1 9-1 8-2 8-2 9-7 8-9 9-11 8-10 8-10 9-12 8-12 9-14 8-15 8-15 9-16 8-16 9-16 8-15 8-14 9-12 8-10 9-10 8-11 8-10 9-9 8-9 9-9 8-7 8-7 9-7 8-6 9-6 8-5 8-6 9-5 8-4"/>
<path d="M2028 635l8 0 9-1 8 0 9-1 8-1 8-1 9-1 8-2 9-5 8-9 8-10 9-10 8-10 9-11 8-11 8-14 9-14 8-14 9-16 8-15 8-15 9-15 8-13 9-12 8-11 8-10 9-10 8-9 9-10 8-8 8-9 9-7 8-7 9-7 8-5 8-6 9-6 8-5"/>
<path d="M2020 635l8 0 8-1 9 0 8-1 9-1 8 0 8-1 9-2 8-4 9-8 8-9 8-9 9-10 8-10 9-11 8-12 8-13 9-13 8-15 9-15 8-14 8-14 9-13 8-12 9-10 8-10 8-9 9-9 8-9 9-9 8-8 8-7 9-7 8-6 9-6 8-5 8-5 9-5 8-5"/>
<path d="M2036 635l9 0 8-1 9 0 8-1 8-1 9-1 8-1 9-3 8-6 8-9 9-9 8-9 9-9 8-10 8-12 9-12 8-13 9-14 8-14 8-14 9-14 8-13 9-12 8-10 8-10 9-9 8-9 9-9 8-8 8-8 9-7 8-7 9-6 8-6 8-5 9-5 8-5"/>
<path d="M2036 635l9 0 8 0 9-1 8-1 8 0 9-1 8-1 9-2 8-3 8-7 9-9 8-9 9-9 8-9 8-11 9-11 8-12 9-13 8-14 8-14 9-14 8-13 9-12 8-12 8-9 9-9 8-9 9-9 8-8 8-8 9-8 8-7 9-6 8-6 8-5 9-6 8-5"/>
<path d="M2036 635l9 0 8 0 9-1 8-1 8 0 9-1 8-1 9-1 8-4 8-7 9-8 8-9 9-8 8-9 8-10 9-11 8-12 9-13 8-13 8-13 9-13 8-13 9-13 8-10 8-10 9-8 8-9 9-8 8-8 8-8 9-7 8-7 9-6 8-6 8-5 9-5 8-5"/>
<path d="M2045 635l8 0 9-1 8 0 8-1 9-1 8-1 9-1 8-2 8-5 9-9 8-8 9-8 8-9 8-9 9-10 8-12 9-11 8-13 8-13 9-13 8-12 9-13 8-11 8-9 9-9 8-8 9-8 8-8 8-8 9-7 8-7 9-6 8-6 8-5 9-5 8-4"/>
<path d="M2045 635l8 0 9 0 8-1 8 0 9-1 8-1 9-1 8-1 8-3 9-6 8-9 9-8 8-8 8-8 9-10 8-10 9-12 8-12 8-12 9-13 8-13 9-12 8-12 8-10 9-9 8-9 9-8 8-8 8-8 9-7 8-7 9-7 8-6 8-5 9-5 8-5"/>
<path d="M2053 635l9 0 8-1 8 0 9-1 8 0 9-1 8-1 8-2 9-4 8-7 9-9 8-8 8-8 9-9 8-9 9-11 8-12 8-11 9-13 8-13 9-12 8-12 8-11 9-10 8-8 9-8 8-8 8-8 9-8 8-7 9-7 8-6 8-6 9-5 8-5"/>
<path d="M2070 635l8 0 9-1 8 0 9-1 8-1 8-1 9-1 8-2 9-7 8-7 8-8 9-7 8-9 9-8 8-10 8-11 9-11 8-12 9-12 8-11 8-12 9-11 8-10 9-8 8-8 8-7 9-8 8-7 9-7 8-7 8-6 9-6 8-5"/>
<path d="M2137 635l9 0 8 0 8-1 9 0 8-1 9-1 8 0 8-2 9-4 8-6 9-6 8-7 8-6 9-7 8-8 9-9 8-9 8-10 9-10 8-10 9-10 8-10 8-8 9-8 8-7"/>
<path d="M2171 635l8 0 9 0 8-1 8 0 9 0 8-1 9 0 8-2 8-3 9-4 8-4 9-3 8-4 8-5 9-4 8-5 9-6 8-5 8-6 9-6 8-5"/>
<path d="M2263 635l9 0 8-1 8 0 9 0 8 0 9-1 8 0 8 0 9-1 8 0"/>
<path d="M2263 635l9 0 8-1 8 0 9 0 8-1 9 0 8-1 8 0 9-1 8-1"/>
</g>
<g stroke="#d62424" stroke-width="3.5" stroke-opacity="0.26">
<path d="M1936 635l8 0 8-1 9 0 8-1 9-1 8-1 8-1 9-2 8-3 9-8 8-12 8-14 9-13 8-14 9-15 8-16 8-18 9-19 8-20 9-21 8-21 8-21 9-19 8-19 9-16 8-14 8-13 9-13 8-14 9-12 8-12 8-11 9-10 8-10 9-8 8-8 8-8 9-7 8-7 9-7 8-6 8-6 9-5 8-5 9-5 8-4 8-4 9-3 8-2"/>
<path d="M1944 635l8 0 9 0 8-1 9-1 8-1 8-1 9-1 8-2 9-2 8-7 8-12 9-14 8-12 9-14 8-14 8-16 9-17 8-19 9-19 8-20 8-21 9-20 8-19 9-18 8-16 8-13 9-13 8-13 9-13 8-13 8-11 9-11 8-10 9-9 8-8 8-8 9-8 8-7 9-7 8-6 8-6 9-6 8-5 9-5 8-5 8-4 9-4 8-2"/>
<path d="M1952 635l9 0 8-1 9 0 8-1 8-1 9-1 8-1 9-2 8-3 8-8 9-12 8-12 9-12 8-13 8-14 9-15 8-17 9-17 8-19 8-19 9-19 8-19 9-18 8-16 8-14 9-13 8-12 9-13 8-12 8-11 9-11 8-10 9-9 8-8 8-8 9-7 8-7 9-7 8-6 8-6 9-6 8-5 9-5 8-5 8-4 9-4 8-3"/>
<path d="M2011 635l9 0 8-1 8 0 9-1 8-1 9-1 8-2 8-2 9-6 8-10 9-10 8-10 8-11 9-11 8-13 9-14 8-15 8-15 9-16 8-17 9-15 8-15 8-15 9-12 8-11 9-10 8-10 8-10 9-10 8-9 9-9 8-8 8-7 9-6 8-7 9-5 8-6 8-6 9-5 8-4"/>
<path d="M2020 635l8 0 8 0 9-1 8-1 9 0 8-1 8-1 9-2 8-3 9-7 8-10 8-9 9-9 8-11 9-11 8-12 8-13 9-14 8-14 9-16 8-14 8-15 9-14 8-12 9-11 8-10 8-9 9-10 8-9 9-9 8-8 8-8 9-7 8-6 9-6 8-6 8-5 9-6 8-5"/>
<path d="M2028 635l8 0 9 0 8-1 9-1 8 0 8-1 9-1 8-2 9-3 8-7 8-10 9-9 8-9 9-10 8-11 8-12 9-13 8-13 9-15 8-15 8-14 9-14 8-13 9-12 8-10 8-10 9-9 8-9 9-9 8-9 8-8 9-7 8-7 9-6 8-6 8-5 9-6 8-5"/>
<path d="M2062 635l8 0 8-1 9 0 8-1 9-1 8-1 8-1 9-2 8-5 9-8 8-9 8-8 9-8 8-10 9-10 8-11 8-12 9-13 8-13 9-13 8-12 8-12 9-11 8-10 9-9 8-8 8-8 9-8 8-8 9-7 8-7 8-6 9-6 8-5"/>
<path d="M2062 635l8 0 8-1 9 0 8-1 9-1 8 0 8-1 9-2 8-6 9-7 8-8 8-8 9-8 8-9 9-10 8-11 8-11 9-12 8-13 9-13 8-12 8-11 9-11 8-9 9-8 8-8 8-8 9-8 8-7 9-7 8-7 8-6 9-5 8-5"/>
<path d="M2070 635l8 0 9-1 8 0 9-1 8 0 8-1 9-1 8-2 9-5 8-8 8-7 9-7 8-8 9-9 8-9 8-10 9-11 8-11 9-12 8-12 8-11 9-11 8-10 9-8 8-8 8-7 9-8 8-7 9-7 8-6 8-7 9-5 8-5"/>
<path d="M2146 635l8 0 8-1 9 0 8-1 9 0 8-1 8-1 9-3 8-5 9-5 8-5 8-5 9-6 8-6 9-7 8-8 8-7 9-8 8-9 9-7 8-8 8-7 9-6 8-5"/>
<path d="M2204 635l9 0 8 0 9-1 8 0 8-1 9-1 8-1 9-1 8-1 8-1 9-1 8-2 9-1 8-2 8-1 9-2 8-1"/>
<path d="M2196 635l8 0 9 0 8-1 9 0 8 0 8-1 9-1 8-1 9-2 8-1 8-2 9-1 8-2 9-2 8-2 8-3 9-2 8-2"/>
<path d="M2255 635l8 0 9 0 8-1 8 0 9-1 8-1 9 0 8-1 8-1 9-1 8-1"/>
</g>
<g stroke="#d62424" stroke-width="3.5" stroke-opacity="0.32">
<path d="M1944 635l8 0 9-1 8 0 9-1 8-1 8-1 9-2 8-1 9-3 8-9 8-13 9-13 8-13 9-13 8-15 8-16 9-18 8-19 9-20 8-20 8-21 9-20 8-19 9-17 8-16 8-13 9-13 8-13 9-13 8-12 8-12 9-10 8-10 9-9 8-8 8-8 9-8 8-7 9-7 8-6 8-6 9-5 8-6 9-5 8-5 8-4 9-3 8-3"/>
<path d="M1969 635l9 0 8 0 8-1 9-1 8-1 9-1 8-1 8-1 9-3 8-8 9-11 8-11 8-12 9-11 8-13 9-14 8-16 8-16 9-18 8-18 9-18 8-17 8-17 9-15 8-13 9-12 8-11 8-12 9-11 8-10 9-10 8-10 8-8 9-8 8-7 9-7 8-7 8-6 9-6 8-5 9-5 8-5 8-5 9-5 8-4"/>
<path d="M1986 635l8 0 9 0 8-1 9-1 8 0 8-1 9-2 8-1 9-3 8-6 8-11 9-11 8-11 9-12 8-12 8-14 9-15 8-16 9-16 8-18 8-17 9-17 8-17 9-15 8-13 8-11 9-11 8-11 9-11 8-11 8-10 9-9 8-8 9-8 8-7 8-6 9-7 8-6 9-6 8-5 8-5 9-5 8-5"/>
<path d="M2003 635l8 0 9-1 8 0 8-1 9-1 8-1 9-1 8-2 8-4 9-9 8-11 9-10 8-11 8-12 9-12 8-14 9-15 8-16 8-16 9-18 8-16 9-16 8-15 8-14 9-12 8-11 9-10 8-11 8-10 9-10 8-9 9-9 8-8 8-7 9-6 8-6 9-6 8-6 8-6 9-5 8-4"/>
<path d="M2003 635l8 0 9-1 8 0 8-1 9-1 8-1 9-2 8-2 8-5 9-10 8-11 9-10 8-11 8-11 9-13 8-14 9-15 8-16 8-16 9-17 8-16 9-15 8-15 8-12 9-11 8-11 9-10 8-11 8-10 9-9 8-9 9-8 8-7 8-7 9-6 8-6 9-6 8-6 8-5 9-5 8-4"/>
<path d="M2011 635l9 0 8 0 8-1 9-1 8-1 9 0 8-1 8-2 9-3 8-8 9-10 8-10 8-9 9-11 8-11 9-13 8-13 8-15 9-15 8-15 9-15 8-15 8-14 9-13 8-11 9-10 8-10 8-9 9-10 8-9 9-8 8-8 8-7 9-7 8-6 9-6 8-5 8-6 9-5 8-4"/>
<path d="M2028 635l8 0 9-1 8 0 9-1 8-1 8-1 9-1 8-2 9-4 8-9 8-10 9-9 8-9 9-10 8-12 8-12 9-13 8-14 9-15 8-15 8-14 9-14 8-13 9-11 8-10 8-9 9-10 8-9 9-9 8-8 8-8 9-7 8-7 9-6 8-5 8-6 9-5 8-5"/>
<path d="M2028 635l8 0 9 0 8-1 9 0 8-1 8-1 9-1 8-1 9-3 8-6 8-9 9-10 8-9 9-9 8-11 8-11 9-13 8-13 9-14 8-14 8-14 9-14 8-13 9-12 8-11 8-9 9-9 8-9 9-9 8-9 8-8 9-7 8-7 9-6 8-6 8-5 9-5 8-5"/>
<path d="M2045 635l8 0 9-1 8 0 8-1 9-1 8-1 9-1 8-2 8-6 9-9 8-9 9-8 8-10 8-10 9-11 8-12 9-13 8-14 8-14 9-14 8-14 9-13 8-12 8-11 9-9 8-9 9-9 8-9 8-8 9-8 8-8 9-6 8-7 8-5 9-6 8-5"/>
<path d="M2053 635l9 0 8-1 8 0 9-1 8-1 9-1 8-1 8-2 9-6 8-8 9-9 8-8 8-9 9-10 8-11 9-11 8-13 8-13 9-13 8-14 9-13 8-13 8-11 9-10 8-9 9-9 8-9 8-8 9-8 8-8 9-7 8-6 8-6 9-6 8-5"/>
<path d="M2053 635l9 0 8-1 8 0 9-1 8-1 9-1 8-1 8-2 9-6 8-8 9-8 8-9 8-8 9-10 8-10 9-12 8-11 8-13 9-13 8-13 9-13 8-12 8-11 9-9 8-9 9-8 8-9 8-8 9-7 8-8 9-6 8-7 8-5 9-5 8-5"/>
<path d="M2053 635l9 0 8-1 8 0 9-1 8 0 9-1 8-1 8-2 9-5 8-8 9-8 8-7 8-8 9-9 8-10 9-11 8-11 8-12 9-12 8-13 9-12 8-12 8-10 9-10 8-8 9-8 8-8 8-7 9-8 8-7 9-6 8-6 8-6 9-5 8-5"/>
<path d="M2062 635l8 0 8 0 9-1 8 0 9-1 8-1 8-1 9-1 8-3 9-6 8-8 8-7 9-8 8-8 9-9 8-9 8-11 9-11 8-12 9-11 8-12 8-11 9-11 8-9 9-8 8-8 8-7 9-8 8-7 9-7 8-6 8-6 9-6 8-4"/>
<path d="M2070 635l8 0 9-1 8 0 9-1 8 0 8-1 9-1 8-3 9-5 8-7 8-8 9-7 8-8 9-8 8-9 8-10 9-11 8-11 9-12 8-11 8-11 9-11 8-9 9-8 8-8 8-7 9-8 8-7 9-6 8-7 8-6 9-5 8-5"/>
<path d="M2204 635l9 0 8 0 9-1 8 0 8 0 9-1 8-1 9-2 8-1 8-1 9-2 8-1 9-2 8-2 8-2 9-2 8-2"/>
<path d="M2179 635l9 0 8-1 8 0 9 0 8 0 9-1 8-1 8-3 9-3 8-2 9-3 8-3 8-4 9-4 8-4 9-4 8-4 8-5 9-4 8-4"/>
<path d="M2188 635l8 0 8-1 9 0 8 0 9-1 8 0 8-1 9-3 8-4 9-5 8-4 8-4 9-5 8-5 9-6 8-6 8-7 9-6 8-7"/>
<path d="M2179 635l9 0 8 0 8-1 9 0 8 0 9-1 8 0 8-2 9-3 8-3 9-3 8-3 8-3 9-4 8-4 9-4 8-4 8-5 9-4 8-4"/>
<path d="M2263 635l9 0 8 0 8-1 9 0 8 0 9-1 8 0 8 0 9-1 8 0"/>
</g>
<g stroke="#d62424" stroke-width="3.5" stroke-opacity="0.4">
<path d="M1927 635l9 0 8 0 8-1 9-1 8-1 9-1 8-1 8-2 9-3 8-7 9-12 8-14 8-13 9-14 8-15 9-16 8-18 8-19 9-20 8-21 9-22 8-20 8-20 9-19 8-16 9-14 8-14 8-13 9-14 8-13 9-12 8-11 8-10 9-10 8-8 9-8 8-8 8-8 9-7 8-7 9-6 8-6 8-5 9-6 8-5 9-4 8-3 8-3 9-3 8-3"/>
<path d="M1936 635l8 0 8-1 9 0 8-1 9-1 8-1 8-1 9-2 8-3 9-8 8-12 8-14 9-13 8-14 9-15 8-16 8-18 9-20 8-20 9-21 8-21 8-21 9-20 8-18 9-16 8-14 8-14 9-13 8-13 9-13 8-12 8-11 9-11 8-9 9-9 8-8 8-7 9-8 8-7 9-7 8-6 8-5 9-6 8-5 9-5 8-4 8-4 9-3 8-3"/>
<path d="M1944 635l8 0 9-1 8 0 9-1 8-1 8-1 9-2 8-1 9-4 8-8 8-13 9-14 8-12 9-14 8-15 8-17 9-18 8-19 9-20 8-21 8-20 9-20 8-20 9-18 8-15 8-14 9-13 8-13 9-13 8-13 8-11 9-11 8-10 9-9 8-9 8-8 9-7 8-8 9-7 8-6 8-6 9-5 8-6 9-5 8-5 8-4 9-3 8-3"/>
<path d="M1944 635l8 0 9 0 8-1 9 0 8-1 8-1 9-1 8-2 9-2 8-4 8-11 9-13 8-12 9-13 8-13 8-15 9-16 8-18 9-18 8-20 8-20 9-19 8-20 9-18 8-16 8-14 9-13 8-12 9-13 8-12 8-12 9-11 8-10 9-9 8-8 8-8 9-8 8-7 9-7 8-6 8-6 9-6 8-5 9-5 8-5 8-4 9-4 8-3"/>
<path d="M1952 635l9 0 8 0 9-1 8-1 8-1 9-1 8-1 9-2 8-3 8-7 9-12 8-13 9-12 8-13 8-14 9-16 8-17 9-18 8-19 8-20 9-20 8-19 9-18 8-17 8-15 9-14 8-12 9-13 8-12 8-12 9-11 8-11 9-9 8-9 8-8 9-8 8-7 9-7 8-7 8-6 9-5 8-6 9-5 8-5 8-5 9-3 8-4"/>
<path d="M1944 635l8 0 9 0 8-1 9 0 8-1 8-1 9-1 8-2 9-2 8-5 8-10 9-13 8-12 9-12 8-13 8-15 9-16 8-17 9-18 8-20 8-19 9-19 8-19 9-18 8-15 8-14 9-12 8-13 9-12 8-12 8-11 9-11 8-10 9-9 8-8 8-7 9-8 8-7 9-6 8-7 8-5 9-6 8-5 9-5 8-5 8-4 9-3 8-3"/>
<path d="M1961 635l8 0 9 0 8-1 8-1 9-1 8-1 9-1 8-2 8-3 9-7 8-12 9-13 8-11 8-13 9-14 8-15 9-17 8-17 8-18 9-20 8-19 9-18 8-19 8-16 9-14 8-13 9-12 8-13 8-12 9-11 8-11 9-10 8-9 8-9 9-7 8-8 9-7 8-7 8-6 9-6 8-5 9-6 8-5 8-5 9-4 8-4"/>
<path d="M1978 635l8 0 8 0 9-1 8-1 9-1 8-1 8-1 9-1 8-3 9-7 8-11 8-12 9-12 8-12 9-13 8-14 8-16 9-17 8-17 9-19 8-18 8-18 9-18 8-16 9-13 8-13 8-11 9-12 8-12 9-11 8-10 8-10 9-9 8-8 9-7 8-7 8-7 9-6 8-7 9-5 8-5 8-5 9-5 8-5"/>
<path d="M1978 635l8 0 8 0 9-1 8-1 9-1 8-1 8-1 9-2 8-2 9-8 8-11 8-12 9-11 8-12 9-13 8-14 8-15 9-17 8-17 9-18 8-18 8-17 9-17 8-16 9-13 8-11 8-12 9-11 8-12 9-10 8-10 8-10 9-8 8-8 9-7 8-7 8-6 9-7 8-6 9-5 8-5 8-5 9-5 8-4"/>
<path d="M1986 635l8 0 9 0 8-1 9-1 8 0 8-1 9-2 8-1 9-2 8-7 8-10 9-12 8-11 9-11 8-13 8-14 9-15 8-16 9-16 8-18 8-18 9-17 8-16 9-16 8-13 8-12 9-11 8-11 9-11 8-11 8-10 9-9 8-9 9-7 8-7 8-7 9-7 8-6 9-6 8-5 8-5 9-5 8-5"/>
<path d="M1986 635l8 0 9 0 8-1 9-1 8 0 8-1 9-1 8-2 9-2 8-7 8-11 9-11 8-10 9-11 8-12 8-14 9-14 8-16 9-16 8-17 8-17 9-16 8-16 9-15 8-13 8-11 9-11 8-11 9-10 8-11 8-9 9-9 8-8 9-8 8-6 8-7 9-6 8-6 9-6 8-5 8-5 9-4 8-5"/>
<path d="M2003 635l8 0 9 0 8-1 8-1 9-1 8 0 9-2 8-1 8-3 9-8 8-10 9-10 8-10 8-11 9-12 8-13 9-15 8-15 8-15 9-17 8-16 9-16 8-15 8-14 9-11 8-11 9-10 8-11 8-10 9-9 8-9 9-9 8-8 8-7 9-6 8-6 9-6 8-6 8-5 9-5 8-5"/>
<path d="M2036 635l9 0 8-1 9 0 8-1 8 0 9-1 8-1 9-2 8-4 8-7 9-10 8-9 9-9 8-10 8-11 9-12 8-13 9-14 8-14 8-15 9-15 8-14 9-13 8-12 8-10 9-10 8-9 9-9 8-9 8-9 9-8 8-7 9-7 8-6 8-6 9-5 8-6"/>
<path d="M2070 635l8 0 9-1 8 0 9-1 8-1 8-1 9-1 8-2 9-6 8-8 8-8 9-8 8-8 9-9 8-10 8-11 9-11 8-12 9-13 8-12 8-12 9-11 8-10 9-9 8-8 8-8 9-8 8-8 9-7 8-7 8-6 9-6 8-5"/>
<path d="M2070 635l8 0 9-1 8 0 9-1 8-1 8 0 9-2 8-2 9-5 8-8 8-7 9-8 8-8 9-9 8-10 8-10 9-11 8-12 9-13 8-12 8-12 9-11 8-10 9-9 8-8 8-8 9-8 8-7 9-8 8-6 8-7 9-5 8-6"/>
<path d="M2137 635l9 0 8 0 8-1 9 0 8-1 9 0 8-1 8-2 9-3 8-5 9-5 8-5 8-5 9-6 8-6 9-7 8-7 8-8 9-7 8-8 9-7 8-7 8-7 9-5 8-5"/>
<path d="M2146 635l8 0 8 0 9-1 8 0 9-1 8 0 8-1 9-1 8-3 9-6 8-5 8-6 9-6 8-6 9-7 8-8 8-8 9-8 8-9 9-9 8-9 8-8 9-8 8-7"/>
<path d="M2196 635l8 0 9-1 8 0 9 0 8 0 8-1 9-2 8-2 9-1 8-2 8-2 9-3 8-2 9-3 8-3 8-3 9-3 8-2"/>
<path d="M2188 635l8 0 8-1 9 0 8 0 9-1 8 0 8-2 9-2 8-4 9-4 8-3 8-4 9-4 8-5 9-5 8-5 8-5 9-6 8-5"/>
<path d="M2188 635l8 0 8 0 9-1 8 0 9 0 8-1 8-1 9-2 8-3 9-3 8-3 8-3 9-3 8-4 9-4 8-5 8-4 9-5 8-4"/>
<path d="M2263 635l9 0 8-1 8 0 9-1 8 0 9-1 8-1 8 0 9-1 8-1"/>
</g>
<g stroke="#d62424" stroke-width="3.5" stroke-opacity="0.5">
<path d="M1952 635l9 0 8 0 9-1 8 0 8-1 9-2 8-1 9-1 8-3 8-5 9-11 8-13 9-13 8-12 8-14 9-15 8-16 9-18 8-19 8-19 9-20 8-19 9-19 8-18 8-15 9-14 8-12 9-13 8-12 8-12 9-11 8-11 9-10 8-9 8-8 9-7 8-8 9-7 8-7 8-6 9-6 8-5 9-5 8-5 8-5 9-4 8-3"/>
<path d="M1961 635l8 0 9 0 8-1 8-1 9-1 8-1 9-1 8-2 8-2 9-7 8-12 9-13 8-11 8-13 9-14 8-15 9-17 8-17 8-19 9-20 8-19 9-19 8-19 8-17 9-15 8-13 9-12 8-13 8-12 9-12 8-11 9-10 8-10 8-8 9-8 8-8 9-7 8-7 8-6 9-7 8-5 9-5 8-6 8-5 9-4 8-4"/>
<path d="M1961 635l8 0 9-1 8 0 8-1 9-1 8-1 9-1 8-2 8-3 9-8 8-12 9-13 8-11 8-13 9-13 8-16 9-16 8-17 8-19 9-19 8-19 9-18 8-17 8-16 9-14 8-13 9-12 8-12 8-11 9-12 8-10 9-10 8-9 8-8 9-8 8-7 9-7 8-6 8-7 9-5 8-6 9-5 8-5 8-5 9-4 8-3"/>
<path d="M1978 635l8 0 8 0 9-1 8-1 9-1 8-1 8-1 9-2 8-3 9-7 8-12 8-12 9-11 8-13 9-13 8-15 8-16 9-17 8-17 9-19 8-19 8-18 9-17 8-16 9-13 8-13 8-11 9-12 8-12 9-11 8-10 8-10 9-9 8-8 9-7 8-7 8-7 9-7 8-6 9-5 8-6 8-5 9-4 8-5"/>
<path d="M1986 635l8 0 9-1 8 0 9-1 8-1 8-1 9-1 8-2 9-4 8-9 8-12 9-11 8-11 9-12 8-14 8-14 9-16 8-17 9-17 8-19 8-17 9-17 8-17 9-15 8-12 8-12 9-11 8-12 9-11 8-10 8-10 9-9 8-9 9-7 8-7 8-7 9-6 8-7 9-5 8-6 8-5 9-5 8-4"/>
<path d="M2003 635l8 0 9-1 8 0 8-1 9-1 8-1 9-2 8-2 8-5 9-10 8-11 9-11 8-11 8-12 9-13 8-14 9-15 8-16 8-17 9-18 8-16 9-16 8-15 8-13 9-11 8-11 9-11 8-11 8-10 9-9 8-9 9-9 8-7 8-7 9-7 8-6 9-6 8-6 8-5 9-5 8-5"/>
<path d="M2003 635l8 0 9 0 8-1 8-1 9-1 8 0 9-2 8-1 8-3 9-7 8-11 9-10 8-11 8-11 9-12 8-13 9-14 8-15 8-16 9-17 8-16 9-16 8-15 8-14 9-12 8-11 9-10 8-11 8-10 9-10 8-9 9-8 8-8 8-7 9-7 8-6 9-6 8-6 8-5 9-5 8-5"/>
<path d="M2011 635l9 0 8 0 8-1 9-1 8-1 9 0 8-2 8-1 9-3 8-8 9-10 8-10 8-10 9-11 8-12 9-13 8-14 8-15 9-16 8-16 9-16 8-15 8-15 9-13 8-12 9-10 8-10 8-10 9-10 8-10 9-9 8-8 8-7 9-7 8-7 9-5 8-6 8-6 9-5 8-5"/>
<path d="M2020 635l8 0 8-1 9 0 8-1 9-1 8-1 8-1 9-2 8-6 9-9 8-11 8-9 9-11 8-11 9-12 8-14 8-14 9-15 8-17 9-16 8-15 8-15 9-14 8-13 9-10 8-11 8-10 9-10 8-10 9-9 8-8 8-8 9-7 8-7 9-6 8-6 8-5 9-6 8-5"/>
<path d="M2011 635l9 0 8-1 8 0 9-1 8-1 9-1 8-1 8-3 9-6 8-9 9-11 8-9 8-10 9-11 8-13 9-13 8-14 8-15 9-16 8-16 9-15 8-14 8-14 9-11 8-11 9-9 8-10 8-10 9-10 8-8 9-8 8-8 8-7 9-6 8-6 9-6 8-5 8-5 9-5 8-5"/>
<path d="M2011 635l9 0 8-1 8 0 9-1 8-1 9-1 8-1 8-2 9-4 8-8 9-10 8-10 8-10 9-11 8-11 9-13 8-14 8-14 9-16 8-16 9-15 8-14 8-15 9-12 8-10 9-10 8-10 8-10 9-10 8-9 9-8 8-8 8-7 9-6 8-6 9-6 8-6 8-5 9-5 8-4"/>
<path d="M2020 635l8 0 8-1 9 0 8-1 9-1 8-1 8-1 9-2 8-4 9-8 8-10 8-10 9-9 8-11 9-12 8-13 8-13 9-15 8-15 9-16 8-15 8-14 9-14 8-13 9-10 8-10 8-10 9-10 8-9 9-9 8-8 8-8 9-7 8-7 9-6 8-5 8-6 9-5 8-5"/>
<path d="M2028 635l8 0 9-1 8 0 9-1 8-1 8-1 9-1 8-3 9-6 8-9 8-10 9-9 8-10 9-11 8-12 8-13 9-13 8-14 9-16 8-14 8-15 9-14 8-12 9-11 8-10 8-10 9-9 8-10 9-8 8-9 8-7 9-8 8-6 9-6 8-6 8-5 9-5 8-5"/>
<path d="M2036 635l9 0 8-1 9 0 8-1 8-1 9 0 8-2 9-1 8-5 8-8 9-9 8-9 9-9 8-10 8-10 9-12 8-13 9-13 8-14 8-15 9-13 8-14 9-12 8-11 8-10 9-9 8-9 9-9 8-9 8-8 9-7 8-7 9-7 8-5 8-6 9-5 8-5"/>
<path d="M2036 635l9 0 8-1 9 0 8-1 8 0 9-1 8-1 9-2 8-4 8-7 9-9 8-9 9-8 8-10 8-10 9-11 8-12 9-13 8-14 8-13 9-13 8-13 9-12 8-11 8-9 9-9 8-8 9-9 8-8 8-8 9-7 8-7 9-6 8-5 8-5 9-5 8-5"/>
<path d="M2154 635l8 0 9-1 8 0 9-1 8 0 8-1 9-1 8-3 9-5 8-6 8-5 9-5 8-6 9-6 8-7 8-7 9-8 8-9 9-8 8-7 8-8 9-7 8-6"/>
<path d="M2154 635l8 0 9-1 8 0 9-1 8 0 8-1 9-1 8-3 9-5 8-6 8-5 9-6 8-6 9-7 8-8 8-7 9-9 8-9 9-8 8-9 8-8 9-8 8-7"/>
<path d="M2188 635l8 0 8-1 9 0 8 0 9-1 8 0 8-1 9-3 8-3 9-4 8-3 8-4 9-4 8-5 9-5 8-5 8-5 9-6 8-5"/>
<path d="M2204 635l9 0 8 0 9-1 8 0 8-1 9-1 8-1 9-1 8-1 8-2 9-1 8-2 9-1 8-2 8-2 9-2 8-2"/>
<path d="M2272 635l8 0 8 0 9-1 8 0 9-1 8 0 8 0 9-1 8 0"/>
<path d="M2255 635l8 0 9-1 8 0 8-1 9 0 8-1 9 0 8-1 8-1 9 0 8-1"/>
</g>
<g stroke="#d62424" stroke-width="3.5" stroke-opacity="0.75">
<path d="M1936 635l8 0 8 0 9-1 8 0 9-1 8-2 8-1 9-1 8-3 9-5 8-11 8-14 9-12 8-13 9-13 8-15 8-17 9-18 8-18 9-20 8-21 8-19 9-19 8-18 9-15 8-14 8-13 9-12 8-13 9-12 8-11 8-11 9-10 8-9 9-8 8-8 8-7 9-7 8-7 9-7 8-5 8-6 9-5 8-5 9-5 8-4 8-3 9-3 8-3"/>
<path d="M1961 635l8 0 9-1 8 0 8-1 9-1 8-1 9-1 8-2 8-3 9-9 8-12 9-12 8-11 8-13 9-13 8-15 9-17 8-17 8-18 9-19 8-18 9-18 8-17 8-16 9-13 8-12 9-12 8-12 8-12 9-11 8-10 9-9 8-9 8-8 9-8 8-6 9-7 8-7 8-6 9-6 8-5 9-5 8-5 8-4 9-5 8-3"/>
<path d="M1969 635l9 0 8 0 8-1 9 0 8-1 9-1 8-2 8-1 9-2 8-6 9-11 8-12 8-11 9-12 8-13 9-14 8-16 8-17 9-17 8-19 9-19 8-17 8-18 9-17 8-14 9-13 8-11 8-12 9-12 8-11 9-11 8-10 8-9 9-8 8-8 9-7 8-7 8-7 9-6 8-6 9-5 8-5 8-5 9-5 8-4"/>
<path d="M1969 635l9 0 8 0 8-1 9 0 8-1 9-1 8-1 8-2 9-2 8-5 9-10 8-12 8-11 9-12 8-12 9-14 8-15 8-16 9-17 8-18 9-19 8-17 8-18 9-16 8-14 9-13 8-11 8-12 9-11 8-11 9-11 8-10 8-9 9-8 8-7 9-7 8-7 8-7 9-6 8-6 9-5 8-5 8-5 9-4 8-5"/>
<path d="M1978 635l8 0 8 0 9-1 8 0 9-1 8-1 8-1 9-2 8-2 9-5 8-10 8-12 9-11 8-11 9-12 8-14 8-15 9-16 8-16 9-18 8-17 8-17 9-17 8-16 9-13 8-12 8-11 9-12 8-11 9-11 8-9 8-10 9-9 8-8 9-7 8-6 8-7 9-6 8-6 9-6 8-5 8-5 9-4 8-5"/>
<path d="M1986 635l8 0 9 0 8-1 9-1 8 0 8-1 9-2 8-1 9-3 8-7 8-10 9-12 8-10 9-12 8-12 8-14 9-15 8-15 9-17 8-17 8-18 9-16 8-16 9-15 8-13 8-11 9-11 8-12 9-10 8-11 8-9 9-9 8-9 9-7 8-7 8-7 9-6 8-6 9-6 8-5 8-5 9-5 8-4"/>
<path d="M1994 635l9 0 8-1 9 0 8-1 8-1 9-1 8-1 9-2 8-4 8-8 9-11 8-11 9-11 8-12 8-13 9-14 8-15 9-16 8-17 8-17 9-17 8-17 9-16 8-14 8-12 9-11 8-11 9-11 8-11 8-10 9-9 8-9 9-8 8-8 8-6 9-7 8-6 9-6 8-6 8-5 9-5 8-4"/>
<path d="M2020 635l8 0 8-1 9 0 8-1 9-1 8-1 8-1 9-2 8-4 9-9 8-10 8-9 9-10 8-11 9-11 8-13 8-13 9-15 8-15 9-15 8-14 8-15 9-13 8-12 9-10 8-10 8-9 9-10 8-9 9-9 8-8 8-7 9-7 8-6 9-6 8-5 8-6 9-5 8-5"/>
<path d="M2045 635l8 0 9-1 8 0 8-1 9 0 8-1 9-1 8-2 8-4 9-7 8-10 9-8 8-9 8-10 9-10 8-12 9-12 8-13 8-14 9-14 8-14 9-13 8-13 8-11 9-9 8-9 9-9 8-9 8-8 9-8 8-8 9-7 8-6 8-6 9-5 8-5"/>
<path d="M2036 635l9 0 8 0 9-1 8 0 8-1 9-1 8-1 9-1 8-3 8-7 9-8 8-8 9-9 8-8 8-10 9-11 8-11 9-12 8-13 8-14 9-12 8-13 9-12 8-11 8-9 9-8 8-9 9-8 8-8 8-8 9-7 8-6 9-6 8-6 8-5 9-5 8-5"/>
<path d="M2062 635l8 0 8 0 9-1 8-1 9 0 8-1 8-1 9-1 8-4 9-7 8-8 8-7 9-8 8-9 9-9 8-11 8-11 9-12 8-12 9-13 8-12 8-11 9-12 8-9 9-9 8-8 8-8 9-8 8-7 9-7 8-7 8-6 9-6 8-5"/>
<path d="M2137 635l9 0 8-1 8 0 9 0 8-1 9 0 8-1 8-2 9-4 8-5 9-5 8-5 8-6 9-5 8-7 9-7 8-7 8-8 9-8 8-8 9-7 8-7 8-7 9-5 8-5"/>
<path d="M2146 635l8 0 8 0 9-1 8 0 9 0 8-1 8-1 9-1 8-3 9-5 8-4 8-4 9-4 8-5 9-6 8-6 8-6 9-6 8-7 9-6 8-7 8-6 9-5 8-5"/>
<path d="M2146 635l8 0 8 0 9-1 8 0 9-1 8 0 8-1 9-1 8-3 9-6 8-6 8-5 9-6 8-7 9-7 8-8 8-8 9-9 8-9 9-9 8-9 8-8 9-9 8-6"/>
<path d="M2263 635l9 0 8-1 8 0 9 0 8-1 9 0 8-1 8 0 9-1 8 0"/>
</g>
</g>
<rect x="1528" y="861" width="856" height="656" fill="#c2d4e4"/>
<rect x="1604" y="921" width="753" height="540" fill="#ffffff"/>
<rect x="1600" y="913" width="761" height="4" fill="#a9b9c9"/>
<rect x="1600" y="917" width="761" height="4" fill="#a3a6aa"/>
<rect x="1600" y="913" width="4" height="552" fill="#7a8898"/>
<rect x="2357" y="913" width="4" height="552" fill="#8898a8"/>
<rect x="1600" y="1461" width="761" height="4" fill="#909090"/>
<text transform="translate(1877.0,900.5) scale(0.943,1)" font-size="16.6" fill="#5a6270">Amplification Curves</text>
<text transform="translate(1559.2,955.3) scale(0.850,1)" font-size="15.9" fill="#5c6470">31,042</text>
<text transform="translate(1559.2,1002.3) scale(0.850,1)" font-size="15.9" fill="#5c6470">28,042</text>
<text transform="translate(1559.2,1047.0) scale(0.850,1)" font-size="15.9" fill="#5c6470">25,042</text>
<text transform="translate(1559.2,1094.0) scale(0.850,1)" font-size="15.9" fill="#5c6470">22,042</text>
<text transform="translate(1559.2,1138.7) scale(0.850,1)" font-size="15.9" fill="#5c6470">19,042</text>
<text transform="translate(1559.2,1184.5) scale(0.850,1)" font-size="15.9" fill="#5c6470">16,042</text>
<text transform="translate(1559.2,1230.4) scale(0.850,1)" font-size="15.9" fill="#5c6470">13,042</text>
<text transform="translate(1559.2,1274.5) scale(0.850,1)" font-size="15.9" fill="#5c6470">10,042</text>
<text transform="translate(1566.8,1319.2) scale(0.850,1)" font-size="15.9" fill="#5c6470">7,042</text>
<text transform="translate(1566.8,1365.1) scale(0.850,1)" font-size="15.9" fill="#5c6470">4,042</text>
<text transform="translate(1566.8,1409.8) scale(0.850,1)" font-size="15.9" fill="#5c6470">1,042</text>
<text transform="translate(1550.3,1279.0) rotate(-90) scale(1.238,1)" font-size="12.8" font-weight="bold" fill="#2a2e36">Fluorescence (465-510)</text>
<rect x="1676" y="1465" width="2" height="4" fill="#8a96a4"/>
<text transform="translate(1673.7,1483.0) scale(0.800,1)" font-size="15.9" fill="#4a5260">5</text>
<rect x="1760" y="1465" width="2" height="4" fill="#8a96a4"/>
<text transform="translate(1753.9,1483.0) scale(0.800,1)" font-size="15.9" fill="#4a5260">10</text>
<rect x="1844" y="1465" width="2" height="4" fill="#8a96a4"/>
<text transform="translate(1837.9,1483.0) scale(0.800,1)" font-size="15.9" fill="#4a5260">15</text>
<rect x="1928" y="1465" width="2" height="4" fill="#8a96a4"/>
<text transform="translate(1922.0,1483.0) scale(0.800,1)" font-size="15.9" fill="#4a5260">20</text>
<rect x="2012" y="1465" width="2" height="4" fill="#8a96a4"/>
<text transform="translate(2006.1,1483.0) scale(0.800,1)" font-size="15.9" fill="#4a5260">25</text>
<rect x="2096" y="1465" width="2" height="4" fill="#8a96a4"/>
<text transform="translate(2090.1,1483.0) scale(0.800,1)" font-size="15.9" fill="#4a5260">30</text>
<rect x="2180" y="1465" width="2" height="4" fill="#8a96a4"/>
<text transform="translate(2174.1,1483.0) scale(0.800,1)" font-size="15.9" fill="#4a5260">35</text>
<rect x="2264" y="1465" width="2" height="4" fill="#8a96a4"/>
<text transform="translate(2258.2,1483.0) scale(0.800,1)" font-size="15.9" fill="#4a5260">40</text>
<rect x="2348" y="1465" width="2" height="4" fill="#8a96a4"/>
<text transform="translate(2342.2,1483.0) scale(0.800,1)" font-size="15.9" fill="#4a5260">45</text>
<text transform="translate(1955.4,1503.2) scale(0.704,1)" font-size="20.3" font-weight="bold" fill="#3a4250">Cycles</text>
<clipPath id="c2"><rect x="1604" y="921" width="753" height="540"/></clipPath>
<g clip-path="url(#c2)" fill="none">
<path d="M1608,1419.0L1929,1418.5L2350,1408.5L2350,1424.5L1929,1424.0L1608,1424.0Z" fill="#3ee23e" stroke="none" fill-opacity="0.9"/>
<g stroke="#d62424" stroke-width="3.5" stroke-opacity="0.2">
<path d="M1921 1418l8 0 9 0 8-1 8-1 9-1 8-1 9-2 8-2 8-4 9-8 8-11 9-12 8-13 8-16 9-17 8-20 9-22 8-24 8-27 9-27 8-25 9-24 8-25 8-22 9-20 8-17 9-16 8-14 8-12 9-12 8-10 9-9 8-8 8-7 9-5 8-5 9-5 8-3 8-2 9-2 8-2 9-1 8-1 8-1 9-1 8-1 9 0 8-1 8 0 9-1 8 0"/>
<path d="M1929 1418l9 0 8-1 8 0 9-1 8-1 9-1 8-2 8-3 9-7 8-9 9-10 8-11 8-13 9-14 8-16 9-19 8-20 8-24 9-23 8-22 9-21 8-21 8-20 9-18 8-15 9-14 8-12 8-11 9-11 8-9 9-8 8-7 8-6 9-5 8-5 9-3 8-3 8-3 9-1 8-2 9-1 8-1 8-1 9-1 8 0 9-1 8 0 8-1 9 0 8 0"/>
<path d="M1938 1418l8 0 8 0 9-1 8-1 9-1 8-1 8-2 9-2 8-6 9-8 8-9 8-10 9-11 8-14 9-14 8-17 8-19 9-21 8-21 9-20 8-19 8-20 9-18 8-17 9-14 8-13 8-11 9-10 8-10 9-8 8-8 8-6 9-6 8-5 9-4 8-3 8-3 9-2 8-2 9-1 8-2 8-1 9 0 8-1 9-1 8 0 8-1 9 0 8 0"/>
<path d="M2047 1418l8 0 9 0 8-1 8 0 9 0 8-1 9-1 8-3 8-2 9-3 8-3 9-4 8-4 8-5 9-5 8-6 9-6 8-6 8-5 9-6 8-5 9-5 8-4 8-4 9-4 8-3 9-2 8-3 8-2 9-2 8-2 9-1 8-1 8-1 9-1 8-1"/>
<path d="M2038 1418l9 0 8 0 9-1 8 0 8 0 9-1 8-2 9-2 8-2 8-2 9-3 8-4 9-3 8-4 8-5 9-5 8-5 9-5 8-4 8-5 9-4 8-4 9-3 8-3 8-2 9-3 8-2 9-2 8-1 8-2 9-1 8-1 9-1 8-1 8-1 9 0 8 0"/>
<path d="M2064 1418l8 0 8-1 9 0 8 0 9-1 8-1 8-1 9-2 8-2 9-2 8-3 8-2 9-4 8-3 9-4 8-4 8-4 9-4 8-3 9-4 8-3 8-3 9-2 8-2 9-2 8-2 8-2 9-1 8-1 9-1 8-1 8-1 9-1 8 0"/>
<path d="M2064 1418l8 0 8 0 9-1 8 0 9 0 8-1 8-1 9-2 8-1 9-2 8-2 8-2 9-3 8-3 9-3 8-3 8-3 9-4 8-3 9-3 8-2 8-2 9-3 8-1 9-2 8-2 8-1 9-1 8-1 9-1 8-1 8 0 9-1 8-1"/>
<path d="M2064 1418l8 0 8 0 9-1 8 0 9-1 8-1 8-1 9-1 8-1 9-2 8-2 8-2 9-2 8-3 9-2 8-3 8-2 9-3 8-2 9-2 8-2 8-1 9-2 8-1 9-1 8-1 8-1 9-1 8-1 9 0 8-1 8 0 9-1 8 0"/>
<path d="M2064 1418l8 0 8 0 9-1 8 0 9-1 8 0 8-1 9-1 8-2 9-1 8-2 8-2 9-2 8-2 9-2 8-2 8-2 9-3 8-1 9-2 8-2 8-1 9-1 8-1 9-1 8-1 8-1 9-1 8 0 9-1 8 0 8-1 9 0 8 0"/>
<path d="M2080 1418l9 0 8-1 9 0 8-1 8 0 9-1 8-1 9-1 8-1 8-1 9-2 8-2 9-1 8-2 8-2 9-1 8-2 9-1 8-2 8-1 9-1 8-1 9 0 8-1 8-1 9 0 8-1 9 0 8-1 8 0 9 0 8 0"/>
</g>
<g stroke="#d62424" stroke-width="3.5" stroke-opacity="0.26">
<path d="M1912 1418l9 0 8 0 9-1 8-1 8-1 9-1 8-2 9-2 8-5 8-8 9-11 8-11 9-13 8-15 8-17 9-19 8-21 9-24 8-26 8-24 9-24 8-24 9-23 8-20 8-19 9-16 8-14 9-13 8-12 8-11 9-9 8-9 9-7 8-6 8-5 9-5 8-4 9-3 8-2 8-2 9-1 8-2 9-1 8 0 8-1 9-1 8 0 9-1 8 0 8-1 9 0 8 0"/>
<path d="M1938 1418l8 0 8-1 9 0 8-1 9-1 8-2 8-1 9-4 8-7 9-9 8-9 8-11 9-12 8-14 9-16 8-18 8-20 9-22 8-21 9-20 8-20 8-19 9-18 8-16 9-13 8-13 8-11 9-10 8-9 9-8 8-8 8-6 9-5 8-5 9-4 8-3 8-3 9-2 8-1 9-1 8-1 8-1 9-1 8-1 9 0 8-1 8 0 9-1 8 0"/>
<path d="M1938 1418l8 0 8 0 9-1 8-1 9-1 8-1 8-1 9-3 8-5 9-8 8-9 8-10 9-11 8-13 9-15 8-16 8-18 9-21 8-21 9-20 8-19 8-19 9-18 8-16 9-14 8-13 8-11 9-10 8-10 9-8 8-7 8-7 9-6 8-4 9-4 8-4 8-3 9-2 8-1 9-2 8-1 8-1 9-1 8 0 9-1 8 0 8-1 9 0 8 0"/>
<path d="M1954 1418l9 0 8 0 9-1 8-1 8-1 9-1 8-1 9-2 8-6 8-7 9-9 8-9 9-11 8-12 8-14 9-16 8-17 9-20 8-20 8-19 9-18 8-19 9-17 8-15 8-14 9-12 8-10 9-10 8-9 8-8 9-7 8-6 9-5 8-5 8-4 9-3 8-3 9-2 8-1 8-2 9-1 8-1 9 0 8-1 8-1 9 0 8 0"/>
<path d="M1980 1418l8 0 8-1 9 0 8-1 9-1 8-1 8-1 9-4 8-6 9-6 8-8 8-8 9-10 8-11 9-12 8-14 8-15 9-16 8-16 9-15 8-15 8-14 9-12 8-12 9-10 8-9 8-8 9-7 8-7 9-5 8-6 8-4 9-4 8-3 9-3 8-2 8-2 9-1 8-1 9-1 8-1 8-1 9 0 8-1"/>
<path d="M2013 1418l9 0 8-1 8 0 9-1 8 0 9-1 8-2 8-4 9-5 8-5 9-6 8-6 8-8 9-8 8-10 9-10 8-12 8-11 9-10 8-11 9-10 8-9 8-9 9-7 8-7 9-5 8-6 8-5 9-4 8-4 9-3 8-3 8-2 9-2 8-2 9-1 8-1 8-1 9-1 8 0"/>
<path d="M2022 1418l8 0 8-1 9 0 8 0 9-1 8-1 8-1 9-3 8-3 9-3 8-4 8-5 9-5 8-6 9-6 8-8 8-8 9-7 8-7 9-7 8-7 8-6 9-6 8-4 9-5 8-4 8-3 9-3 8-3 9-3 8-2 8-2 9-1 8-1 9-2 8 0 8-1 9-1 8 0"/>
<path d="M2038 1418l9 0 8 0 9-1 8 0 8-1 9 0 8-2 9-2 8-3 8-2 9-4 8-4 9-4 8-5 8-5 9-6 8-7 9-6 8-6 8-6 9-6 8-5 9-4 8-4 8-4 9-3 8-3 9-2 8-3 8-2 9-2 8-1 9-1 8-2 8 0 9-1 8-1"/>
<path d="M2055 1418l9 0 8-1 8 0 9 0 8-1 9 0 8-2 8-2 9-2 8-3 9-2 8-4 8-3 9-4 8-5 9-4 8-5 8-4 9-5 8-4 9-4 8-3 8-3 9-2 8-3 9-2 8-2 8-2 9-1 8-2 9-1 8-1 8 0 9-1 8-1"/>
<path d="M2055 1418l9 0 8 0 8-1 9 0 8 0 9-1 8-1 8-2 9-2 8-2 9-2 8-3 8-3 9-4 8-3 9-5 8-4 8-4 9-4 8-4 9-4 8-3 8-3 9-3 8-2 9-2 8-2 8-2 9-1 8-2 9-1 8-1 8-1 9 0 8-1"/>
<path d="M2064 1418l8 0 8 0 9-1 8 0 9-1 8-1 8-1 9-1 8-2 9-2 8-2 8-2 9-2 8-3 9-3 8-3 8-3 9-3 8-2 9-3 8-2 8-2 9-1 8-2 9-1 8-1 8-1 9-1 8-1 9-1 8 0 8-1 9 0 8-1"/>
<path d="M2089 1418l8 0 9 0 8-1 8 0 9-1 8 0 9-1 8-1 8-1 9-1 8-1 9-1 8-1 8-2 9-1 8-1 9-1 8-1 8-1 9 0 8-1 9-1 8 0 8-1 9 0 8-1 9 0 8 0 8 0 9-1 8 0"/>
<path d="M2089 1418l8 0 9-1 8 0 8 0 9-1 8-1 9-1 8-1 8-1 9-1 8-2 9-1 8-2 8-2 9-1 8-2 9-2 8-1 8-1 9-1 8-1 9-1 8-1 8-1 9-1 8 0 9-1 8 0 8 0 9-1 8 0"/>
</g>
<g stroke="#d62424" stroke-width="3.5" stroke-opacity="0.32">
<path d="M1912 1418l9 0 8 0 9-1 8-1 8-1 9-1 8-2 9-3 8-5 8-9 9-11 8-12 9-14 8-16 8-17 9-20 8-22 9-25 8-27 8-26 9-24 8-25 9-24 8-21 8-18 9-17 8-15 9-13 8-12 8-12 9-9 8-9 9-7 8-7 8-5 9-5 8-4 9-3 8-2 8-2 9-1 8-1 9-2 8 0 8-1 9-1 8 0 9-1 8 0 8-1 9 0 8 0"/>
<path d="M1921 1418l8 0 9 0 8-1 8 0 9-1 8-2 9-1 8-2 8-4 9-7 8-10 9-11 8-13 8-14 9-17 8-18 9-21 8-23 8-26 9-25 8-25 9-23 8-24 8-22 9-19 8-18 9-15 8-14 8-12 9-11 8-10 9-9 8-8 8-7 9-5 8-5 9-4 8-4 8-2 9-2 8-2 9-1 8-1 8-1 9-1 8-1 9 0 8-1 8 0 9-1 8 0"/>
<path d="M1946 1418l8 0 9-1 8 0 9-1 8-1 8-2 9-1 8-4 9-6 8-9 8-10 9-11 8-13 9-15 8-16 8-19 9-20 8-23 9-23 8-21 8-22 9-21 8-19 9-17 8-15 8-13 9-12 8-11 9-10 8-9 8-8 9-7 8-6 9-5 8-4 8-4 9-3 8-2 9-1 8-2 8-1 9-1 8-1 9-1 8 0 8-1 9 0 8-1"/>
<path d="M1938 1418l8 0 8-1 9 0 8-1 9-1 8-1 8-2 9-3 8-7 9-8 8-10 8-11 9-13 8-14 9-16 8-18 8-20 9-23 8-22 9-21 8-21 8-21 9-19 8-17 9-15 8-13 8-12 9-11 8-10 9-9 8-7 8-7 9-6 8-5 9-4 8-4 8-3 9-2 8-2 9-1 8-1 8-1 9-1 8-1 9 0 8-1 8 0 9-1 8 0"/>
<path d="M1963 1418l8 0 9-1 8 0 8-1 9-1 8-1 9-2 8-4 8-6 9-8 8-9 9-9 8-12 8-12 9-14 8-16 9-18 8-19 8-18 9-17 8-17 9-17 8-15 8-13 9-12 8-10 9-10 8-8 8-8 9-7 8-6 9-5 8-5 8-3 9-4 8-2 9-2 8-2 8-1 9-1 8-1 9-1 8-1 8 0 9-1 8 0"/>
<path d="M1971 1418l9 0 8-1 8 0 9-1 8-1 9-1 8-2 8-3 9-7 8-7 9-8 8-10 8-11 9-12 8-13 9-16 8-17 8-18 9-18 8-17 9-16 8-17 8-14 9-13 8-12 9-10 8-9 8-8 9-8 8-7 9-6 8-5 8-4 9-4 8-3 9-3 8-2 8-1 9-2 8-1 9-1 8 0 8-1 9 0 8-1"/>
<path d="M1980 1418l8 0 8-1 9 0 8-1 9 0 8-1 8-2 9-2 8-5 9-7 8-6 8-8 9-9 8-10 9-11 8-13 8-14 9-15 8-14 9-14 8-14 8-14 9-12 8-11 9-9 8-9 8-7 9-7 8-7 9-5 8-5 8-5 9-3 8-3 9-3 8-2 8-2 9-1 8-1 9-1 8-1 8-1 9 0 8-1"/>
<path d="M1996 1418l9 0 8-1 9 0 8-1 8-1 9-1 8-2 9-3 8-5 8-5 9-6 8-7 9-8 8-9 8-10 9-11 8-12 9-11 8-11 8-11 9-11 8-10 9-8 8-8 8-7 9-6 8-5 9-6 8-4 8-4 9-3 8-3 9-3 8-2 8-2 9-1 8-1 9-1 8-1 8 0 9-1 8 0"/>
<path d="M2030 1418l8 0 9-1 8 0 9 0 8-1 8-1 9-2 8-3 9-3 8-3 8-4 9-5 8-5 9-6 8-6 8-8 9-7 8-7 9-7 8-7 8-6 9-6 8-5 9-4 8-4 8-4 9-3 8-3 9-3 8-2 8-2 9-2 8-1 9-1 8-1 8-1 9-1 8 0"/>
<path d="M2038 1418l9 0 8 0 9-1 8 0 8 0 9-1 8-1 9-2 8-3 8-3 9-4 8-4 9-4 8-5 8-6 9-6 8-7 9-6 8-7 8-6 9-6 8-6 9-4 8-5 8-4 9-3 8-3 9-3 8-3 8-2 9-2 8-1 9-2 8-1 8-1 9-1 8 0"/>
<path d="M2097 1418l9 0 8 0 8-1 9 0 8-1 9-1 8 0 8-1 9-1 8-2 9-1 8-1 8-2 9-2 8-1 9-2 8-1 8-1 9-2 8-1 9-1 8 0 8-1 9-1 8-1 9 0 8-1 8 0 9 0 8-1"/>
<path d="M2089 1418l8 0 9-1 8 0 8 0 9-1 8-1 9 0 8-1 8-1 9-1 8-1 9-1 8-1 8-1 9-2 8-1 9-1 8-1 8 0 9-1 8-1 9 0 8-1 8 0 9-1 8 0 9 0 8 0 8-1 9 0 8 0"/>
<path d="M2097 1418l9 0 8 0 8-1 9 0 8-1 9 0 8-1 8 0 9-1 8-1 9-1 8-1 8-1 9-1 8-1 9-1 8 0 8-1 9-1 8 0 9-1 8 0 8-1 9 0 8-1 9 0 8 0 8 0 9-1 8 0"/>
<path d="M2089 1418l8 0 9 0 8-1 8 0 9-1 8-1 9 0 8-1 8-2 9-1 8-1 9-2 8-2 8-2 9-1 8-2 9-2 8-1 8-2 9-1 8-1 9-1 8-1 8-1 9 0 8-1 9-1 8 0 8 0 9-1 8 0"/>
</g>
<g stroke="#d62424" stroke-width="3.5" stroke-opacity="0.4">
<path d="M1929 1418l9 0 8-1 8 0 9-1 8-1 9-1 8-2 8-3 9-6 8-10 9-10 8-12 8-13 9-16 8-17 9-19 8-22 8-24 9-25 8-24 9-23 8-23 8-21 9-19 8-17 9-15 8-14 8-12 9-11 8-10 9-9 8-8 8-7 9-5 8-5 9-4 8-4 8-2 9-2 8-2 9-1 8-1 8-1 9-1 8-1 9 0 8-1 8 0 9-1 8 0"/>
<path d="M1946 1418l8 0 9 0 8-1 9-1 8-1 8-1 9-1 8-2 9-5 8-8 8-9 9-10 8-12 9-14 8-15 8-17 9-18 8-22 9-22 8-22 8-20 9-21 8-19 9-18 8-16 8-13 9-13 8-11 9-10 8-9 8-8 9-7 8-7 9-5 8-4 8-4 9-3 8-3 9-2 8-1 8-1 9-2 8 0 9-1 8-1 8 0 9-1 8 0"/>
<path d="M1963 1418l8 0 9 0 8-1 8-1 9 0 8-1 9-2 8-2 8-5 9-7 8-8 9-9 8-11 8-12 9-14 8-15 9-17 8-19 8-20 9-18 8-19 9-18 8-17 8-15 9-14 8-11 9-11 8-10 8-9 9-8 8-6 9-7 8-5 8-5 9-3 8-4 9-2 8-2 8-2 9-1 8-1 9-1 8-1 8-1 9 0 8-1"/>
<path d="M1963 1418l8 0 9-1 8 0 8-1 9-1 8-1 9-1 8-4 8-5 9-8 8-7 9-9 8-11 8-11 9-13 8-15 9-16 8-18 8-17 9-17 8-16 9-16 8-14 8-13 9-11 8-10 9-9 8-9 8-7 9-7 8-5 9-6 8-4 8-4 9-3 8-2 9-2 8-2 8-1 9-1 8-1 9-1 8-1 8 0 9-1 8 0"/>
<path d="M1963 1418l8 0 9-1 8 0 8-1 9-1 8-1 9-2 8-3 8-7 9-7 8-7 9-10 8-10 8-11 9-14 8-14 9-17 8-17 8-16 9-16 8-16 9-15 8-13 8-12 9-11 8-9 9-9 8-8 8-7 9-6 8-5 9-5 8-4 8-4 9-3 8-2 9-2 8-1 8-2 9 0 8-1 9-1 8-1 8 0 9-1 8 0"/>
<path d="M1980 1418l8 0 8-1 9 0 8-1 9-1 8-1 8-2 9-4 8-6 9-7 8-8 8-9 9-10 8-11 9-13 8-14 8-17 9-17 8-15 9-16 8-15 8-15 9-12 8-12 9-10 8-9 8-8 9-8 8-6 9-6 8-6 8-4 9-4 8-3 9-3 8-2 8-2 9-1 8-1 9-1 8-1 8-1 9 0 8-1"/>
<path d="M1980 1418l8 0 8-1 9 0 8-1 9-1 8-1 8-2 9-3 8-6 9-7 8-7 8-8 9-10 8-10 9-13 8-13 8-15 9-16 8-15 9-14 8-14 8-14 9-12 8-11 9-9 8-9 8-7 9-7 8-7 9-5 8-5 8-4 9-4 8-3 9-3 8-2 8-1 9-2 8-1 9 0 8-1 8-1 9 0 8-1"/>
<path d="M1988 1418l8 0 9-1 8 0 9-1 8 0 8-1 9-2 8-3 9-5 8-7 8-6 9-8 8-9 9-9 8-12 8-12 9-14 8-15 9-14 8-13 8-13 9-13 8-12 9-10 8-9 8-8 9-7 8-7 9-6 8-5 8-4 9-5 8-3 9-3 8-2 8-2 9-2 8-1 9-1 8-1 8-1 9 0 8-1"/>
<path d="M1996 1418l9 0 8-1 9 0 8-1 8 0 9-1 8-2 9-3 8-5 8-6 9-6 8-8 9-8 8-10 8-11 9-12 8-13 9-14 8-14 8-13 9-13 8-12 9-11 8-10 8-8 9-8 8-7 9-6 8-6 8-5 9-5 8-4 9-3 8-3 8-2 9-2 8-1 9-2 8-1 8 0 9-1 8-1"/>
<path d="M2005 1418l8 0 9-1 8 0 8-1 9 0 8-1 9-2 8-3 8-4 9-5 8-5 9-6 8-6 8-8 9-8 8-10 9-10 8-10 8-10 9-9 8-10 9-8 8-8 8-6 9-6 8-6 9-5 8-4 8-4 9-3 8-3 9-3 8-2 8-2 9-2 8-1 9-1 8-1 8 0 9-1 8 0"/>
<path d="M2022 1418l8 0 8 0 9-1 8 0 9-1 8 0 8-1 9-3 8-3 9-3 8-4 8-5 9-5 8-6 9-7 8-7 8-8 9-8 8-8 9-8 8-7 8-7 9-6 8-6 9-5 8-4 8-4 9-4 8-3 9-3 8-2 8-2 9-2 8-2 9-1 8-1 8-1 9-1 8 0"/>
<path d="M2097 1418l9 0 8-1 8 0 9 0 8-1 9-1 8 0 8-1 9-1 8-1 9-2 8-1 8-1 9-2 8-1 9-1 8-1 8-2 9-1 8 0 9-1 8-1 8 0 9-1 8-1 9 0 8 0 8-1 9 0 8 0"/>
</g>
<g stroke="#d62424" stroke-width="3.5" stroke-opacity="0.5">
<path d="M1921 1418l8 0 9 0 8-1 8 0 9-2 8-1 9-1 8-2 8-4 9-8 8-10 9-11 8-13 8-14 9-16 8-19 9-20 8-23 8-26 9-24 8-24 9-23 8-23 8-21 9-18 8-17 9-14 8-13 8-12 9-11 8-10 9-8 8-8 8-6 9-5 8-5 9-4 8-3 8-2 9-2 8-2 9-1 8-1 8-1 9-1 8 0 9-1 8-1 8 0 9 0 8-1"/>
<path d="M1938 1418l8 0 8-1 9 0 8-1 9-1 8-1 8-2 9-3 8-7 9-9 8-10 8-12 9-13 8-15 9-17 8-19 8-22 9-24 8-24 9-23 8-22 8-22 9-21 8-19 9-16 8-14 8-13 9-12 8-11 9-10 8-8 8-7 9-7 8-5 9-5 8-4 8-3 9-2 8-2 9-2 8-1 8-1 9-1 8-1 9-1 8 0 8-1 9 0 8 0"/>
<path d="M1938 1418l8 0 8 0 9-1 8-1 9-1 8-1 8-1 9-3 8-4 9-8 8-10 8-11 9-12 8-15 9-15 8-18 8-20 9-23 8-24 9-23 8-22 8-22 9-22 8-19 9-17 8-15 8-13 9-12 8-12 9-10 8-8 8-8 9-7 8-6 9-5 8-4 8-3 9-3 8-2 9-2 8-1 8-1 9-1 8-1 9-1 8 0 8-1 9 0 8-1"/>
<path d="M1938 1418l8 0 8 0 9-1 8 0 9-1 8-2 8-1 9-2 8-4 9-8 8-9 8-11 9-11 8-14 9-15 8-18 8-19 9-22 8-24 9-23 8-22 8-22 9-21 8-19 9-17 8-15 8-14 9-12 8-11 9-10 8-9 8-8 9-7 8-6 9-5 8-4 8-3 9-3 8-2 9-2 8-1 8-2 9-1 8 0 9-1 8-1 8 0 9-1 8 0"/>
<path d="M1946 1418l8 0 9 0 8-1 9 0 8-1 8-1 9-2 8-2 9-4 8-7 8-10 9-9 8-12 9-13 8-14 8-16 9-19 8-20 9-23 8-21 8-20 9-20 8-20 9-18 8-15 8-14 9-13 8-11 9-10 8-9 8-8 9-7 8-7 9-5 8-4 8-4 9-4 8-2 9-2 8-1 8-2 9-1 8-1 9 0 8-1 8-1 9 0 8-1"/>
<path d="M1938 1418l8 0 8 0 9-1 8-1 9-1 8-1 8-1 9-2 8-5 9-8 8-9 8-9 9-11 8-13 9-14 8-16 8-18 9-20 8-21 9-19 8-19 8-19 9-18 8-16 9-14 8-13 8-11 9-10 8-9 9-9 8-7 8-6 9-6 8-5 9-4 8-3 8-3 9-2 8-2 9-1 8-1 8-1 9-1 8-1 9 0 8-1 8 0 9-1 8 0"/>
<path d="M1946 1418l8 0 9 0 8-1 9-1 8-1 8-1 9-1 8-3 9-5 8-8 8-9 9-9 8-12 9-12 8-15 8-16 9-17 8-21 9-20 8-19 8-19 9-18 8-17 9-16 8-14 8-12 9-10 8-10 9-9 8-8 8-7 9-6 8-6 9-4 8-4 8-3 9-3 8-2 9-2 8-1 8-1 9-1 8-1 9 0 8-1 8 0 9-1 8 0"/>
<path d="M2013 1418l9 0 8-1 8 0 9 0 8-1 9-1 8-1 8-3 9-4 8-5 9-5 8-6 8-6 9-8 8-8 9-10 8-11 8-11 9-10 8-10 9-10 8-9 8-9 9-7 8-7 9-6 8-5 8-5 9-4 8-4 9-3 8-3 8-3 9-2 8-2 9-1 8-1 8-1 9-1 8 0"/>
<path d="M2022 1418l8 0 8 0 9-1 8 0 9-1 8-1 8-1 9-2 8-4 9-4 8-5 8-5 9-6 8-6 9-8 8-8 8-9 9-10 8-8 9-9 8-8 8-8 9-7 8-6 9-6 8-5 8-4 9-4 8-4 9-3 8-3 8-3 9-2 8-1 9-2 8-1 8-1 9-1 8 0"/>
<path d="M2038 1418l9 0 8 0 9-1 8 0 8-1 9 0 8-2 9-2 8-3 8-3 9-4 8-4 9-5 8-5 8-6 9-6 8-8 9-7 8-6 8-7 9-6 8-6 9-5 8-4 8-4 9-4 8-3 9-3 8-3 8-2 9-2 8-2 9-1 8-2 8-1 9-1 8 0"/>
<path d="M2030 1418l8 0 9 0 8-1 9 0 8 0 8-1 9-1 8-2 9-3 8-2 8-3 9-4 8-3 9-5 8-4 8-6 9-5 8-5 9-5 8-5 8-4 9-4 8-4 9-3 8-3 8-3 9-2 8-2 9-2 8-2 8-1 9-1 8-1 9-1 8-1 8 0 9-1 8 0"/>
<path d="M2106 1418l8 0 8 0 9-1 8 0 9-1 8 0 8-1 9 0 8-1 9-1 8 0 8-1 9-1 8-1 9-1 8-1 8 0 9-1 8-1 9 0 8-1 8 0 9-1 8 0 9 0 8 0 8-1 9 0 8 0"/>
<path d="M2097 1418l9 0 8-1 8 0 9 0 8-1 9 0 8-1 8 0 9-1 8 0 9-1 8-1 8-1 9 0 8-1 9-1 8 0 8-1 9 0 8 0 9-1 8 0 8 0 9-1 8 0 9 0 8 0 8 0 9 0 8-1"/>
<path d="M2080 1418l9 0 8-1 9 0 8 0 8-1 9-1 8-1 9-1 8-1 8-2 9-1 8-2 9-2 8-2 8-2 9-2 8-2 9-2 8-1 8-1 9-2 8-1 9-1 8-1 8-1 9 0 8-1 9 0 8-1 8 0 9-1 8 0"/>
<path d="M2089 1418l8 0 9 0 8-1 8 0 9-1 8 0 9-1 8-1 8-1 9-1 8-1 9-2 8-1 8-2 9-2 8-1 9-2 8-1 8-1 9-2 8-1 9 0 8-1 8-1 9-1 8 0 9-1 8 0 8-1 9 0 8 0"/>
</g>
<g stroke="#d62424" stroke-width="3.5" stroke-opacity="0.75">
<path d="M1921 1418l8 0 9 0 8-1 8 0 9-2 8-1 9-1 8-3 8-3 9-8 8-11 9-11 8-13 8-15 9-17 8-19 9-21 8-24 8-26 9-26 8-24 9-25 8-24 8-21 9-20 8-17 9-15 8-14 8-12 9-12 8-10 9-8 8-8 8-7 9-5 8-5 9-4 8-4 8-2 9-2 8-2 9-1 8-1 8-1 9-1 8 0 9-1 8-1 8 0 9 0 8-1"/>
<path d="M1929 1418l9 0 8-1 8 0 9-1 8-1 9-1 8-2 8-3 9-5 8-9 9-11 8-11 8-13 9-16 8-16 9-19 8-21 8-24 9-25 8-23 9-23 8-23 8-21 9-19 8-17 9-15 8-13 8-12 9-12 8-10 9-8 8-8 8-7 9-6 8-4 9-4 8-4 8-2 9-2 8-2 9-1 8-2 8 0 9-1 8-1 9-1 8 0 8 0 9-1 8 0"/>
<path d="M1963 1418l8 0 9-1 8 0 8-1 9-1 8-1 9-1 8-3 8-6 9-8 8-8 9-9 8-11 8-13 9-14 8-15 9-18 8-19 8-19 9-18 8-18 9-18 8-16 8-14 9-13 8-11 9-10 8-9 8-9 9-7 8-6 9-6 8-5 8-4 9-4 8-3 9-2 8-2 8-2 9-1 8-1 9-1 8 0 8-1 9-1 8 0"/>
<path d="M1988 1418l8 0 9-1 8 0 9-1 8 0 8-2 9-1 8-4 9-5 8-6 8-6 9-7 8-9 9-9 8-11 8-11 9-14 8-13 9-13 8-12 8-13 9-11 8-11 9-9 8-8 8-7 9-7 8-6 9-5 8-5 8-4 9-3 8-3 9-3 8-2 8-2 9-1 8-1 9-1 8-1 8-1 9 0 8-1"/>
<path d="M2005 1418l8 0 9-1 8 0 8-1 9 0 8-1 9-2 8-4 8-5 9-5 8-7 9-7 8-8 8-9 9-10 8-12 9-13 8-13 8-12 9-12 8-12 9-11 8-10 8-8 9-8 8-7 9-6 8-6 8-5 9-5 8-4 9-3 8-3 8-2 9-2 8-2 9-1 8-1 8-1 9-1 8 0"/>
<path d="M1996 1418l9 0 8-1 9 0 8-1 8 0 9-1 8-2 9-3 8-5 8-5 9-6 8-7 9-8 8-9 8-10 9-11 8-12 9-12 8-12 8-11 9-12 8-11 9-9 8-8 8-8 9-6 8-6 9-6 8-5 8-4 9-4 8-3 9-3 8-2 8-2 9-2 8-1 9-1 8-1 8 0 9-1 8 0"/>
<path d="M2005 1418l8 0 9 0 8-1 8 0 9-1 8 0 9-2 8-2 8-4 9-4 8-4 9-6 8-6 8-6 9-8 8-9 9-9 8-10 8-9 9-9 8-9 9-9 8-7 8-7 9-6 8-5 9-5 8-5 8-4 9-3 8-3 9-3 8-2 8-2 9-1 8-2 9-1 8-1 8 0 9-1 8 0"/>
<path d="M2022 1418l8 0 8-1 9 0 8 0 9-1 8-1 8-2 9-3 8-4 9-4 8-4 8-5 9-6 8-7 9-7 8-9 8-9 9-8 8-8 9-8 8-8 8-7 9-6 8-5 9-5 8-5 8-4 9-3 8-3 9-3 8-3 8-2 9-2 8-1 9-1 8-1 8-1 9-1 8 0"/>
<path d="M2030 1418l8 0 9-1 8 0 9 0 8-1 8 0 9-2 8-2 9-3 8-2 8-4 9-3 8-4 9-5 8-5 8-6 9-5 8-6 9-5 8-5 8-5 9-4 8-4 9-3 8-3 8-3 9-2 8-3 9-2 8-1 8-2 9-1 8-1 9-1 8-1 8 0 9-1 8 0"/>
<path d="M2055 1418l9 0 8 0 8-1 9 0 8 0 9-1 8-2 8-1 9-2 8-2 9-2 8-3 8-3 9-3 8-3 9-4 8-4 8-3 9-3 8-4 9-2 8-3 8-2 9-2 8-2 9-1 8-2 8-1 9-1 8-1 9-1 8-1 8 0 9-1 8 0"/>
<path d="M2072 1418l8 0 9-1 8 0 9 0 8-1 8-1 9-1 8-1 9-1 8-1 8-2 9-2 8-2 9-2 8-1 8-2 9-2 8-2 9-1 8-1 8-1 9-1 8-1 9-1 8-1 8-1 9 0 8-1 9 0 8-1 8 0 9 0 8 0"/>
<path d="M2114 1418l8 0 9 0 8-1 9 0 8 0 8 0 9-1 8 0 9-1 8 0 8-1 9 0 8-1 9 0 8 0 8-1 9 0 8-1 9 0 8 0 8 0 9-1 8 0 9 0 8 0 8 0 9 0 8 0"/>
</g>
</g>
<rect x="1528" y="1681" width="864" height="672" fill="#c2d4e4"/>
<rect x="1604" y="1737" width="757" height="556" fill="#ffffff"/>
<rect x="1596" y="1733" width="772" height="4" fill="#6e7886"/>
<rect x="1596" y="1733" width="4" height="568" fill="#a8b8c8"/>
<rect x="1600" y="1737" width="4" height="560" fill="#b8b8b8"/>
<rect x="2361" y="1737" width="4" height="560" fill="#d0d0d0"/>
<rect x="2365" y="1733" width="3" height="568" fill="#98a8b8"/>
<rect x="1600" y="2293" width="765" height="4" fill="#d0d0d0"/>
<rect x="1596" y="2297" width="772" height="4" fill="#90a0b0"/>
<text transform="translate(1877.0,1720.5) scale(0.943,1)" font-size="16.6" fill="#5a6270">Amplification Curves</text>
<text transform="translate(1554.9,1776.1) scale(0.850,1)" font-size="15.9" fill="#5c6470">21,414</text>
<text transform="translate(1554.9,1820.7) scale(0.850,1)" font-size="15.9" fill="#5c6470">19,414</text>
<text transform="translate(1554.9,1864.6) scale(0.850,1)" font-size="15.9" fill="#5c6470">17,414</text>
<text transform="translate(1554.9,1909.2) scale(0.850,1)" font-size="15.9" fill="#5c6470">15,414</text>
<text transform="translate(1554.9,1954.3) scale(0.850,1)" font-size="15.9" fill="#5c6470">13,414</text>
<text transform="translate(1556.0,1998.8) scale(0.850,1)" font-size="15.9" fill="#5c6470">11,414</text>
<text transform="translate(1562.5,2043.9) scale(0.850,1)" font-size="15.9" fill="#5c6470">9,414</text>
<text transform="translate(1562.5,2088.5) scale(0.850,1)" font-size="15.9" fill="#5c6470">7,414</text>
<text transform="translate(1562.5,2133.5) scale(0.850,1)" font-size="15.9" fill="#5c6470">5,414</text>
<text transform="translate(1562.5,2178.1) scale(0.850,1)" font-size="15.9" fill="#5c6470">3,414</text>
<text transform="translate(1562.5,2223.2) scale(0.850,1)" font-size="15.9" fill="#5c6470">1,414</text>
<text transform="translate(1569.4,2267.8) scale(0.850,1)" font-size="15.9" fill="#5c6470">-586</text>
<text transform="translate(1546.3,2107.0) rotate(-90) scale(1.238,1)" font-size="12.8" font-weight="bold" fill="#2a2e36">Fluorescence (465-510)</text>
<rect x="1675" y="2301" width="2" height="4" fill="#8a96a4"/>
<text transform="translate(1672.5,2319.0) scale(0.800,1)" font-size="15.9" fill="#4a5260">5</text>
<rect x="1760" y="2301" width="2" height="4" fill="#8a96a4"/>
<text transform="translate(1753.7,2319.0) scale(0.800,1)" font-size="15.9" fill="#4a5260">10</text>
<rect x="1845" y="2301" width="2" height="4" fill="#8a96a4"/>
<text transform="translate(1838.7,2319.0) scale(0.800,1)" font-size="15.9" fill="#4a5260">15</text>
<rect x="1930" y="2301" width="2" height="4" fill="#8a96a4"/>
<text transform="translate(1923.8,2319.0) scale(0.800,1)" font-size="15.9" fill="#4a5260">20</text>
<rect x="2015" y="2301" width="2" height="4" fill="#8a96a4"/>
<text transform="translate(2008.9,2319.0) scale(0.800,1)" font-size="15.9" fill="#4a5260">25</text>
<rect x="2100" y="2301" width="2" height="4" fill="#8a96a4"/>
<text transform="translate(2093.9,2319.0) scale(0.800,1)" font-size="15.9" fill="#4a5260">30</text>
<rect x="2185" y="2301" width="2" height="4" fill="#8a96a4"/>
<text transform="translate(2178.9,2319.0) scale(0.800,1)" font-size="15.9" fill="#4a5260">35</text>
<rect x="2270" y="2301" width="2" height="4" fill="#8a96a4"/>
<text transform="translate(2264.0,2319.0) scale(0.800,1)" font-size="15.9" fill="#4a5260">40</text>
<rect x="2355" y="2301" width="2" height="4" fill="#8a96a4"/>
<text transform="translate(2349.0,2319.0) scale(0.800,1)" font-size="15.9" fill="#4a5260">45</text>
<text transform="translate(1955.4,2339.2) scale(0.704,1)" font-size="20.3" font-weight="bold" fill="#3a4250">Cycles</text>
<clipPath id="c3"><rect x="1604" y="1737" width="757" height="556"/></clipPath>
<g clip-path="url(#c3)" fill="none">
<path d="M1606,2245.0L1948,2238.0L2357,2230.0L2357,2249.5L1948,2249.5L1606,2253.0Z" fill="#3ee23e" stroke="none" fill-opacity="0.9"/>
<g stroke="#d62424" stroke-width="3.5" stroke-opacity="0.2">
<path d="M1956 2241l9 0 9 0 8-1 8 0 9-1 9 0 8-1 8-2 9-3 9-7 8-8 8-10 9-13 9-16 8-17 8-21 9-22 9-22 8-19 8-17 9-17 9-15 8-14 8-12 9-10 9-8 8-6 8-6 9-4 9-4 8-3 8-2 9-3 9-2 8-1 8-2 9-1 9-2 8-1 8-1 9-1 9-1 8-1 8 0 9-1 9-1 8-1"/>
<path d="M2024 2241l9 0 9-1 8 0 8 0 9-1 9 0 8-2 8-4 9-4 9-5 8-7 8-7 9-9 9-11 8-11 8-11 9-9 9-9 8-9 8-7 9-8 9-5 8-5 8-4 9-4 9-2 8-3 8-1 9-2 9-1 8-1 8-1 9-1 9-1 8-1 8 0 9-1 9 0 8-1"/>
<path d="M2033 2241l9 0 8 0 8-1 9 0 9 0 8-1 8-1 9-2 9-3 8-4 8-5 9-6 9-7 8-8 8-9 9-9 9-9 8-7 8-8 9-7 9-6 8-5 8-5 9-4 9-3 8-2 8-2 9-2 9-1 8-2 8-1 9 0 9-1 8-1 8-1 9 0 9-1 8 0"/>
<path d="M2042 2241l8 0 8-1 9 0 9 0 8 0 8-1 9-2 9-3 8-3 8-4 9-5 9-5 8-6 8-7 9-7 9-6 8-5 8-6 9-5 9-4 8-4 8-3 9-2 9-2 8-2 8-2 9-1 9-1 8-1 8 0 9-1 9 0 8-1 8 0 9-1 9 0 8 0"/>
<path d="M2101 2241l9 0 8-1 8 0 9-1 9-1 8-1 8-1 9-2 9-2 8-3 8-2 9-3 9-2 8-2 8-2 9-2 9-1 8-2 8-1 9-1 9-1 8 0 8-1 9 0 9-1 8 0 8 0 9-1 9 0 8 0"/>
<path d="M2092 2241l9 0 9 0 8-1 8 0 9-1 9-1 8-1 8-2 9-1 9-2 8-3 8-2 9-2 9-2 8-2 8-2 9-2 9-1 8-1 8-1 9-1 9-1 8-1 8 0 9 0 9-1 8 0 8 0 9 0 9-1 8 0"/>
<path d="M2050 2241l8 0 9-1 9 0 8 0 8-1 9-1 9-2 8-2 8-4 9-4 9-4 8-6 8-6 9-7 9-6 8-5 8-5 9-5 9-5 8-4 8-3 9-3 9-2 8-2 8-2 9-1 9-1 8-1 8-1 9 0 9-1 8-1 8 0 9 0 9-1 8 0"/>
<path d="M2118 2241l8 0 9-1 9 0 8-1 8-1 9-1 9-1 8-1 8-2 9-1 9-2 8-1 8-1 9-2 9-1 8-1 8-1 9 0 9-1 8 0 8-1 9 0 9 0 8-1 8 0 9 0 9 0 8 0"/>
<path d="M2076 2241l8 0 8 0 9-1 9 0 8-1 8-1 9-1 9-2 8-2 8-2 9-3 9-3 8-3 8-3 9-3 9-2 8-3 8-2 9-2 9-1 8-1 8-1 9-1 9-1 8-1 8 0 9-1 9 0 8 0 8 0 9-1 9 0 8 0"/>
<path d="M2058 2241l9 0 9 0 8-1 8 0 9 0 9-1 8-2 8-3 9-2 9-4 8-5 8-5 9-6 9-6 8-6 8-6 9-5 9-5 8-4 8-5 9-3 9-3 8-2 8-2 9-2 9-1 8-1 8-1 9-1 9 0 8-1 8-1 9 0 9 0 8-1"/>
<path d="M2110 2241l8 0 8-1 9 0 9 0 8-1 8-1 9-1 9-1 8-1 8-1 9-2 9-1 8-1 8-1 9-1 9 0 8-1 8-1 9 0 9 0 8-1 8 0 9 0 9 0 8 0 8-1 9 0 9 0 8 0"/>
<path d="M2118 2241l8 0 9-1 9 0 8 0 8-1 9 0 9-1 8 0 8-1 9-1 9 0 8-1 8 0 9-1 9 0 8 0 8-1 9 0 9 0 8 0 8 0 9 0 9-1 8 0 8 0 9 0 9 0 8 0"/>
<path d="M1974 2241l8 0 8-1 9 0 9 0 8-1 8-1 9-1 9-2 8-5 8-7 9-9 9-11 8-14 8-16 9-19 9-21 8-22 8-21 9-18 9-17 8-16 8-15 9-13 9-10 8-10 8-7 9-6 9-5 8-4 8-3 9-3 9-3 8-2 8-2 9-1 9-2 8-1 8-1 9-1 9-1 8-1 8-1 9-1 9-1 8-1"/>
</g>
<g stroke="#d62424" stroke-width="3.5" stroke-opacity="0.26">
<path d="M1974 2241l8 0 8-1 9 0 9-1 8 0 8-1 9-1 9-3 8-6 8-7 9-9 9-12 8-14 8-16 9-19 9-20 8-21 8-18 9-16 9-16 8-15 8-13 9-11 9-10 8-8 8-6 9-5 9-5 8-3 8-3 9-3 9-2 8-2 8-1 9-2 9-1 8-1 8-1 9-1 9-1 8-1 8-1 9-1 9-1 8 0"/>
<path d="M2016 2241l8 0 9-1 9 0 8 0 8-1 9 0 9-1 8-3 8-5 9-5 9-7 8-9 8-10 9-12 9-13 8-14 8-14 9-11 9-11 8-11 8-10 9-8 9-7 8-6 8-5 9-4 9-3 8-3 8-2 9-2 9-2 8-1 8-1 9-2 9 0 8-1 8-1 9-1 9 0 8-1"/>
<path d="M2084 2241l8 0 9-1 9 0 8 0 8-1 9-2 9-1 8-2 8-2 9-3 9-3 8-3 8-3 9-3 9-2 8-3 8-2 9-2 9-2 8-1 8-1 9-1 9-1 8 0 8-1 9 0 9-1 8 0 8 0 9 0 9-1 8 0"/>
<path d="M2058 2241l9 0 9 0 8-1 8 0 9 0 9-1 8-2 8-2 9-3 9-3 8-4 8-5 9-6 9-6 8-5 8-6 9-4 9-5 8-4 8-4 9-3 9-3 8-2 8-2 9-1 9-1 8-1 8-1 9-1 9-1 8 0 8-1 9 0 9 0 8-1"/>
<path d="M2092 2241l9 0 9-1 8 0 8-1 9 0 9-2 8-1 8-2 9-2 9-2 8-2 8-3 9-2 9-2 8-1 8-2 9-2 9-1 8-1 8-1 9-1 9 0 8-1 8 0 9 0 9-1 8 0 8 0 9 0 9-1 8 0"/>
<path d="M2110 2241l8 0 8-1 9 0 9-1 8 0 8-1 9-1 9 0 8-1 8-1 9-1 9-1 8 0 8-1 9-1 9 0 8-1 8 0 9 0 9 0 8-1 8 0 9 0 9 0 8 0 8 0 9 0 9 0 8 0"/>
<path d="M2118 2241l8 0 9-1 9 0 8 0 8-1 9-1 9-1 8-1 8-1 9-1 9 0 8-1 8-1 9-1 9 0 8-1 8 0 9-1 9 0 8 0 8-1 9 0 9 0 8 0 8 0 9 0 9 0 8 0"/>
<path d="M2008 2241l8 0 8-1 9 0 9 0 8-1 8-1 9-1 9-3 8-5 8-6 9-7 9-9 8-11 8-12 9-14 9-14 8-12 8-12 9-11 9-10 8-9 8-8 9-7 9-6 8-4 8-4 9-3 9-3 8-2 8-1 9-2 9-1 8-1 8-1 9-1 9-1 8-1 8-1 9 0 9-1 8 0"/>
<path d="M1982 2241l8 0 9 0 9-1 8 0 8-1 9 0 9-1 8-2 8-4 9-6 9-8 8-9 8-13 9-14 9-16 8-19 8-20 9-19 9-16 8-16 8-14 9-14 9-12 8-10 8-8 9-7 9-6 8-4 8-4 9-3 9-3 8-2 8-2 9-2 9-1 8-1 8-2 9-1 9-1 8 0 8-1 9-1 9-1 8-1"/>
</g>
<g stroke="#d62424" stroke-width="3.5" stroke-opacity="0.32">
<path d="M2058 2241l9 0 9 0 8-1 8 0 9 0 9-1 8-2 8-2 9-3 9-3 8-5 8-4 9-6 9-6 8-7 8-5 9-5 9-5 8-5 8-4 9-3 9-3 8-3 8-2 9-1 9-2 8-1 8-1 9-1 9 0 8-1 8 0 9-1 9 0 8-1"/>
<path d="M2084 2241l8 0 9-1 9 0 8-1 8-1 9-1 9-1 8-2 8-3 9-2 9-3 8-3 8-3 9-2 9-2 8-2 8-2 9-2 9-1 8-1 8-1 9-1 9-1 8 0 8-1 9 0 9 0 8-1 8 0 9 0 9 0 8 0"/>
<path d="M2101 2241l9 0 8-1 8 0 9-1 9-1 8-1 8-1 9-2 9-2 8-2 8-2 9-3 9-1 8-2 8-2 9-2 9-1 8-1 8-1 9-1 9-1 8 0 8-1 9 0 9 0 8-1 8 0 9 0 9 0 8 0"/>
<path d="M2058 2241l9 0 9 0 8-1 8 0 9 0 9-1 8-2 8-2 9-3 9-3 8-4 8-5 9-6 9-5 8-6 8-6 9-5 9-4 8-4 8-4 9-4 9-2 8-3 8-1 9-2 9-1 8-1 8-1 9-1 9 0 8-1 8 0 9-1 9 0 8-1"/>
<path d="M2110 2241l8 0 8-1 9 0 9-1 8 0 8-1 9-1 9-2 8-1 8-1 9-2 9-1 8-1 8-1 9-1 9-1 8-1 8-1 9 0 9-1 8 0 8 0 9 0 9-1 8 0 8 0 9 0 9 0 8 0"/>
<path d="M2118 2241l8 0 9 0 9-1 8 0 8-1 9-1 9-1 8-1 8-1 9-1 9-1 8-1 8-1 9-1 9-1 8-1 8-1 9 0 9-1 8 0 8 0 9 0 9-1 8 0 8 0 9 0 9 0 8 0"/>
<path d="M2118 2241l8 0 9 0 9-1 8 0 8-1 9 0 9-1 8-1 8 0 9-1 9-1 8-1 8-1 9 0 9-1 8 0 8-1 9 0 9 0 8-1 8 0 9 0 9 0 8 0 8 0 9 0 9 0 8 0"/>
</g>
<g stroke="#d62424" stroke-width="3.5" stroke-opacity="0.4">
<path d="M1982 2241l8 0 9-1 9 0 8 0 8-1 9-1 9-1 8-2 8-6 9-7 9-9 8-12 8-14 9-16 9-20 8-21 8-21 9-19 9-18 8-16 8-16 9-14 9-12 8-10 8-9 9-7 9-6 8-4 8-4 9-3 9-3 8-2 8-2 9-2 9-2 8-1 8-1 9-1 9-1 8-1 8-1 9-1 9-1 8-1"/>
<path d="M2067 2241l9 0 8 0 8-1 9 0 9 0 8-1 8-1 9-2 9-3 8-3 8-3 9-4 9-5 8-5 8-5 9-5 9-4 8-4 8-4 9-3 9-3 8-2 8-2 9-1 9-2 8-1 8-1 9 0 9-1 8 0 8-1 9 0 9-1 8 0"/>
<path d="M2076 2241l8 0 8 0 9-1 9 0 8-1 8-1 9-2 9-2 8-2 8-4 9-3 9-4 8-5 8-4 9-4 9-3 8-3 8-3 9-3 9-2 8-2 8-2 9-1 9-1 8-1 8-1 9 0 9-1 8 0 8-1 9 0 9 0 8 0"/>
<path d="M2092 2241l9 0 9-1 8 0 8-1 9 0 9-1 8-1 8-2 9-1 9-2 8-2 8-2 9-1 9-1 8-2 8-1 9-1 9-1 8 0 8-1 9-1 9 0 8 0 8-1 9 0 9 0 8 0 8 0 9 0 9 0 8-1"/>
<path d="M2067 2241l9 0 8-1 8 0 9 0 9 0 8-2 8-2 9-2 9-3 8-3 8-4 9-5 9-6 8-5 8-6 9-4 9-5 8-4 8-4 9-3 9-3 8-3 8-2 9-1 9-1 8-1 8-1 9-1 9-1 8 0 8-1 9 0 9 0 8-1"/>
<path d="M2058 2241l9 0 9 0 8-1 8 0 9 0 9-1 8-2 8-2 9-3 9-4 8-4 8-4 9-6 9-5 8-6 8-5 9-4 9-4 8-4 8-4 9-2 9-3 8-2 8-1 9-2 9-1 8-1 8-1 9 0 9-1 8 0 8-1 9 0 9 0 8-1"/>
<path d="M2042 2241l8 0 8-1 9 0 9 0 8 0 8-1 9-2 9-3 8-3 8-4 9-4 9-6 8-6 8-6 9-7 9-6 8-5 8-6 9-4 9-5 8-3 8-3 9-3 9-2 8-2 8-1 9-1 9-1 8-1 8-1 9 0 9-1 8 0 8-1 9 0 9 0 8-1"/>
<path d="M2058 2241l9 0 9-1 8 0 8 0 9 0 9-1 8-2 8-3 9-3 9-4 8-4 8-5 9-6 9-7 8-6 8-6 9-5 9-5 8-5 8-4 9-3 9-3 8-3 8-1 9-2 9-1 8-1 8-1 9-1 9-1 8 0 8-1 9 0 9-1 8 0"/>
<path d="M2008 2241l8 0 8 0 9-1 9 0 8 0 8-1 9-1 9-2 8-4 8-5 9-6 9-9 8-10 8-11 9-14 9-15 8-15 8-14 9-12 9-12 8-11 8-10 9-8 9-7 8-6 8-5 9-4 9-3 8-3 8-2 9-2 9-2 8-1 8-1 9-2 9 0 8-1 8-1 9-1 9 0 8-1"/>
</g>
<g stroke="#d62424" stroke-width="3.5" stroke-opacity="0.5">
<path d="M1948 2241l8 0 9 0 9-1 8 0 8-1 9-1 9-1 8-1 8-4 9-8 9-9 8-11 8-15 9-18 9-20 8-23 8-25 9-24 9-22 8-20 8-19 9-17 9-16 8-13 8-11 9-10 9-7 8-6 8-5 9-4 9-4 8-3 8-2 9-3 9-2 8-1 8-2 9-1 9-1 8-2 8-1 9-1 9-1 8-1 8-1 9-1 9-1 8-1"/>
<path d="M1948 2241l8 0 9 0 9-1 8 0 8-1 9 0 9-1 8-2 8-3 9-6 9-9 8-10 8-13 9-17 9-18 8-22 8-23 9-24 9-21 8-19 8-19 9-17 9-16 8-13 8-11 9-9 9-8 8-6 8-5 9-4 9-4 8-2 8-3 9-2 9-2 8-2 8-1 9-2 9-1 8-1 8-1 9-1 9-1 8-1 8-1 9-1 9-1 8-1"/>
<path d="M1965 2241l9 0 8-1 8 0 9-1 9 0 8-1 8-1 9-3 9-5 8-8 8-10 9-13 9-15 8-17 8-21 9-22 9-24 8-21 8-19 9-18 9-17 8-15 8-14 9-11 9-9 8-8 8-6 9-5 9-4 8-4 8-3 9-2 9-2 8-2 8-2 9-1 9-2 8-1 8-1 9-1 9-1 8-1 8-1 9-1 9-1 8-1"/>
<path d="M1990 2241l9 0 9-1 8 0 8 0 9-1 9-1 8-1 8-2 9-5 9-6 8-8 8-10 9-12 9-14 8-16 8-17 9-18 9-15 8-14 8-13 9-13 9-11 8-10 8-8 9-6 9-6 8-4 8-4 9-3 9-2 8-2 8-2 9-2 9-1 8-2 8-1 9-1 9 0 8-1 8-1 9-1 9-1 8 0"/>
<path d="M2016 2241l8 0 9-1 9 0 8 0 8-1 9 0 9-2 8-3 8-5 9-5 9-7 8-9 8-10 9-12 9-13 8-13 8-13 9-11 9-10 8-10 8-9 9-8 9-6 8-6 8-4 9-4 9-3 8-2 8-2 9-2 9-1 8-2 8-1 9-1 9-1 8 0 8-1 9-1 9 0 8-1"/>
<path d="M2033 2241l9 0 8-1 8 0 9 0 9 0 8-1 8-2 9-3 9-3 8-4 8-6 9-6 9-7 8-8 8-8 9-8 9-7 8-7 8-6 9-6 9-5 8-4 8-4 9-3 9-2 8-2 8-1 9-2 9-1 8-1 8-1 9 0 9-1 8-1 8 0 9-1 9 0 8 0"/>
<path d="M2076 2241l8 0 8-1 9 0 9 0 8-1 8-1 9-2 9-2 8-2 8-3 9-4 9-3 8-4 8-4 9-3 9-2 8-3 8-3 9-2 9-2 8-1 8-1 9-1 9-1 8-1 8 0 9-1 9 0 8-1 8 0 9 0 9 0 8-1"/>
<path d="M2050 2241l8 0 9 0 9-1 8 0 8 0 9-1 9-1 8-3 8-2 9-4 9-4 8-5 8-6 9-6 9-7 8-6 8-6 9-5 9-5 8-4 8-4 9-3 9-3 8-2 8-2 9-1 9-2 8-1 8 0 9-1 9-1 8 0 8-1 9 0 9-1 8 0"/>
<path d="M2092 2241l9 0 9-1 8 0 8 0 9-1 9-2 8-1 8-2 9-2 9-2 8-3 8-2 9-3 9-2 8-2 8-2 9-2 9-1 8-1 8-1 9-1 9-1 8-1 8 0 9 0 9-1 8 0 8 0 9 0 9-1 8 0"/>
<path d="M2092 2241l9 0 9 0 8-1 8 0 9-1 9-1 8-2 8-1 9-2 9-3 8-2 8-3 9-3 9-3 8-2 8-2 9-2 9-2 8-1 8-2 9-1 9-1 8 0 8-1 9 0 9-1 8 0 8 0 9-1 9 0 8 0"/>
<path d="M2076 2241l8 0 8 0 9-1 9 0 8 0 8-2 9-1 9-2 8-3 8-3 9-4 9-4 8-5 8-5 9-4 9-4 8-3 8-4 9-3 9-3 8-2 8-2 9-1 9-1 8-1 8-1 9-1 9-1 8 0 8 0 9-1 9 0 8-1"/>
<path d="M2076 2241l8 0 8 0 9-1 9 0 8 0 8-1 9-2 9-2 8-2 8-3 9-3 9-4 8-4 8-4 9-4 9-3 8-3 8-3 9-3 9-2 8-2 8-2 9-1 9-1 8-1 8-1 9 0 9-1 8 0 8-1 9 0 9 0 8-1"/>
<path d="M2042 2241l8 0 8 0 9-1 9 0 8 0 8-1 9-1 9-3 8-2 8-4 9-4 9-5 8-6 8-6 9-6 9-6 8-5 8-5 9-5 9-4 8-3 8-3 9-3 9-2 8-2 8-1 9-1 9-1 8-1 8-1 9 0 9-1 8 0 8-1 9 0 9 0 8 0"/>
<path d="M2101 2241l9 0 8-1 8 0 9-1 9 0 8-1 8-1 9-1 9-1 8-2 8-1 9-1 9-1 8-1 8-1 9-1 9-1 8 0 8-1 9 0 9 0 8-1 8 0 9 0 9 0 8 0 8 0 9-1 9 0 8 0"/>
<path d="M2008 2241l8 0 8 0 9-1 9 0 8 0 8-1 9-1 9-2 8-4 8-5 9-5 9-8 8-9 8-11 9-12 9-13 8-13 8-11 9-10 9-10 8-10 8-8 9-7 9-6 8-5 8-4 9-3 9-2 8-3 8-1 9-2 9-1 8-1 8-1 9-1 9-1 8-1 8-1 9 0 9-1 8 0"/>
<path d="M2033 2241l9 0 8-1 8 0 9 0 9-1 8 0 8-2 9-4 9-3 8-5 8-6 9-7 9-8 8-10 8-9 9-9 9-8 8-8 8-7 9-7 9-5 8-5 8-4 9-4 9-2 8-2 8-2 9-2 9-1 8-1 8-1 9-1 9-1 8 0 8-1 9 0 9-1 8 0"/>
<path d="M1974 2241l8 0 8-1 9 0 9 0 8-1 8-1 9-1 9-2 8-4 8-7 9-9 9-11 8-14 8-15 9-19 9-21 8-21 8-21 9-17 9-17 8-16 8-15 9-13 9-10 8-9 8-7 9-6 9-5 8-4 8-4 9-2 9-3 8-2 8-2 9-1 9-2 8-1 8-1 9-1 9-1 8-1 8-1 9-1 9-1 8-1"/>
</g>
<g stroke="#d62424" stroke-width="3.5" stroke-opacity="0.6">
<path d="M1931 2241l9 0 8-1 8 0 9 0 9-1 8-1 8-1 9-2 9-3 8-7 8-11 9-13 9-18 8-21 8-25 9-29 9-33 8-34 8-32 9-29 9-26 8-26 8-23 9-20 9-17 8-15 8-11 9-10 9-7 8-7 8-5 9-5 9-3 8-4 8-3 9-2 9-3 8-2 8-1 9-2 9-2 8-1 8-2 9-1 9-1 8-2 8-1 9-1 9-2 8-1"/>
<path d="M1940 2241l8 0 8 0 9-1 9 0 8-1 8-1 9-1 9-1 8-2 8-6 9-10 9-12 8-15 8-20 9-22 9-26 8-30 8-32 9-30 9-27 8-25 8-24 9-22 9-20 8-16 8-14 9-11 9-9 8-8 8-6 9-5 9-5 8-3 8-3 9-3 9-3 8-2 8-2 9-2 9-1 8-1 8-2 9-1 9-2 8-1 8-1 9-1 9-2 8-1"/>
</g>
<g stroke="#d62424" stroke-width="3.5" stroke-opacity="0.75">
<path d="M1974 2241l8 0 8 0 9-1 9 0 8-1 8 0 9-1 9-2 8-4 8-6 9-8 9-10 8-12 8-14 9-17 9-18 8-20 8-18 9-16 9-15 8-14 8-13 9-12 9-9 8-8 8-7 9-5 9-4 8-4 8-3 9-3 9-2 8-2 8-1 9-2 9-1 8-1 8-1 9-1 9-1 8-1 8-1 9 0 9-1 8-1"/>
<path d="M1999 2241l9 0 8 0 8-1 9 0 9-1 8 0 8-1 9-2 9-5 8-6 8-6 9-10 9-10 8-12 8-15 9-15 9-16 8-13 8-12 9-12 9-11 8-10 8-9 9-7 9-6 8-4 8-4 9-4 9-2 8-2 8-2 9-2 9-1 8-1 8-2 9-1 9 0 8-1 8-1 9-1 9 0 8-1"/>
<path d="M2058 2241l9 0 9-1 8 0 8 0 9 0 9-2 8-1 8-3 9-3 9-3 8-4 8-5 9-6 9-6 8-5 8-5 9-4 9-4 8-4 8-4 9-3 9-2 8-2 8-2 9-1 9-1 8-1 8-1 9 0 9-1 8 0 8-1 9 0 9 0 8-1"/>
<path d="M2101 2241l9 0 8-1 8 0 9 0 9-1 8-1 8-1 9-1 9-1 8-2 8-1 9-1 9-1 8-1 8-1 9-1 9-1 8-1 8 0 9-1 9 0 8 0 8 0 9-1 9 0 8 0 8 0 9 0 9 0 8 0"/>
<path d="M2084 2241l8 0 9-1 9 0 8 0 8-1 9-1 9-2 8-2 8-2 9-3 9-3 8-3 8-3 9-2 9-3 8-2 8-2 9-2 9-2 8-1 8-1 9-1 9-1 8 0 8-1 9 0 9-1 8 0 8 0 9 0 9-1 8 0"/>
<path d="M2092 2241l9 0 9-1 8 0 8-1 9-1 9-1 8-1 8-2 9-3 9-2 8-3 8-3 9-2 9-3 8-2 8-2 9-2 9-1 8-1 8-2 9 0 9-1 8-1 8 0 9-1 9 0 8 0 8-1 9 0 9 0 8 0"/>
<path d="M2084 2241l8 0 9 0 9-1 8 0 8-1 9-1 9-2 8-1 8-3 9-2 9-3 8-4 8-3 9-3 9-2 8-3 8-2 9-3 9-1 8-2 8-1 9-1 9-1 8-1 8 0 9-1 9 0 8-1 8 0 9 0 9 0 8-1"/>
<path d="M2050 2241l8 0 9 0 9-1 8 0 8 0 9-1 9-2 8-2 8-2 9-3 9-4 8-4 8-5 9-5 9-5 8-4 8-4 9-4 9-4 8-3 8-3 9-2 9-2 8-2 8-1 9-1 9-1 8 0 8-1 9-1 9 0 8 0 8-1 9 0 9 0 8-1"/>
<path d="M1948 2241l8 0 9 0 9-1 8 0 8-1 9 0 9-1 8-2 8-3 9-7 9-9 8-10 8-14 9-17 9-19 8-23 8-24 9-24 9-22 8-20 8-19 9-18 9-16 8-13 8-12 9-10 9-7 8-6 8-6 9-4 9-3 8-3 8-3 9-2 9-2 8-2 8-2 9-1 9-1 8-1 8-2 9-1 9-1 8-1 8-1 9-1 9-1 8-1"/>
</g>
</g>
<rect x="1528" y="2489" width="860" height="672" fill="#c2d4e4"/>
<rect x="1604" y="2549" width="756" height="556" fill="#ffffff"/>
<rect x="1600" y="2545" width="764" height="4" fill="#737d8a"/>
<rect x="1600" y="2545" width="4" height="564" fill="#8291a0"/>
<rect x="1604" y="2549" width="4" height="556" fill="#e4e4e4"/>
<rect x="2360" y="2545" width="4" height="564" fill="#8291a0"/>
<rect x="2356" y="2549" width="4" height="556" fill="#e4e4e4"/>
<rect x="1604" y="3101" width="756" height="4" fill="#ececec"/>
<rect x="1600" y="3105" width="764" height="4" fill="#7d8a98"/>
<text transform="translate(1877.0,2532.5) scale(0.943,1)" font-size="16.6" fill="#5a6270">Amplification Curves</text>
<text transform="translate(1559.1,2586.5) scale(0.850,1)" font-size="15.9" fill="#5c6470">50,546</text>
<text transform="translate(1559.1,2634.5) scale(0.850,1)" font-size="15.9" fill="#5c6470">45,546</text>
<text transform="translate(1559.1,2681.5) scale(0.850,1)" font-size="15.9" fill="#5c6470">40,546</text>
<text transform="translate(1559.1,2730.5) scale(0.850,1)" font-size="15.9" fill="#5c6470">35,546</text>
<text transform="translate(1559.1,2777.5) scale(0.850,1)" font-size="15.9" fill="#5c6470">30,546</text>
<text transform="translate(1559.1,2825.5) scale(0.850,1)" font-size="15.9" fill="#5c6470">25,546</text>
<text transform="translate(1559.1,2872.5) scale(0.850,1)" font-size="15.9" fill="#5c6470">20,546</text>
<text transform="translate(1559.1,2920.5) scale(0.850,1)" font-size="15.9" fill="#5c6470">15,546</text>
<text transform="translate(1559.1,2967.5) scale(0.850,1)" font-size="15.9" fill="#5c6470">10,546</text>
<text transform="translate(1566.7,3015.5) scale(0.850,1)" font-size="15.9" fill="#5c6470">5,546</text>
<text transform="translate(1578.0,3063.5) scale(0.850,1)" font-size="15.9" fill="#5c6470">546</text>
<text transform="translate(1550.3,2917.0) rotate(-90) scale(1.238,1)" font-size="12.8" font-weight="bold" fill="#2a2e36">Fluorescence (465-510)</text>
<rect x="1677" y="3109" width="2" height="4" fill="#8a96a4"/>
<text transform="translate(1674.2,3127.0) scale(0.800,1)" font-size="15.9" fill="#4a5260">5</text>
<rect x="1761" y="3109" width="2" height="4" fill="#8a96a4"/>
<text transform="translate(1755.0,3127.0) scale(0.800,1)" font-size="15.9" fill="#4a5260">10</text>
<rect x="1846" y="3109" width="2" height="4" fill="#8a96a4"/>
<text transform="translate(1839.7,3127.0) scale(0.800,1)" font-size="15.9" fill="#4a5260">15</text>
<rect x="1931" y="3109" width="2" height="4" fill="#8a96a4"/>
<text transform="translate(1924.5,3127.0) scale(0.800,1)" font-size="15.9" fill="#4a5260">20</text>
<rect x="2015" y="3109" width="2" height="4" fill="#8a96a4"/>
<text transform="translate(2009.2,3127.0) scale(0.800,1)" font-size="15.9" fill="#4a5260">25</text>
<rect x="2100" y="3109" width="2" height="4" fill="#8a96a4"/>
<text transform="translate(2093.9,3127.0) scale(0.800,1)" font-size="15.9" fill="#4a5260">30</text>
<rect x="2185" y="3109" width="2" height="4" fill="#8a96a4"/>
<text transform="translate(2178.5,3127.0) scale(0.800,1)" font-size="15.9" fill="#4a5260">35</text>
<rect x="2269" y="3109" width="2" height="4" fill="#8a96a4"/>
<text transform="translate(2263.3,3127.0) scale(0.800,1)" font-size="15.9" fill="#4a5260">40</text>
<rect x="2354" y="3109" width="2" height="4" fill="#8a96a4"/>
<text transform="translate(2348.0,3127.0) scale(0.800,1)" font-size="15.9" fill="#4a5260">45</text>
<text transform="translate(1955.4,3147.2) scale(0.704,1)" font-size="20.3" font-weight="bold" fill="#3a4250">Cycles</text>
<clipPath id="c4"><rect x="1604" y="2549" width="756" height="556"/></clipPath>
<g clip-path="url(#c4)" fill="none">
<path d="M1608,3061.0L1949,3059.5L2356,3056.7L2356,3064.5L1949,3064.0L1608,3065.0Z" fill="#3ee23e" stroke="none" fill-opacity="0.9"/>
<g stroke="#d62424" stroke-width="3.5" stroke-opacity="0.2">
<path d="M1932 3059l8 0 9-1 8 0 9 0 8-1 8-1 9-4 8-6 9-7 8-10 9-13 8-14 9-15 8-17 9-18 8-20 9-22 8-24 9-22 8-19 8-17 9-16 8-13 9-13 8-12 9-11 8-11 9-10 8-9 9-10 8-9 9-8 8-9 8-8 9-8 8-8 9-8 8-8 9-8 8-8 9-7 8-7 9-6 8-6 9-5 8-5 9-4 8-5 8-4 9-5"/>
<path d="M1932 3059l8 0 9 0 8-1 9 0 8-1 8-1 9-3 8-6 9-7 8-9 9-12 8-14 9-14 8-15 9-17 8-19 9-21 8-22 9-21 8-17 8-17 9-14 8-13 9-12 8-11 9-11 8-10 9-9 8-9 9-9 8-9 9-8 8-7 8-8 9-7 8-8 9-7 8-8 9-8 8-7 9-7 8-6 9-6 8-5 9-5 8-5 9-4 8-4 8-5 9-4"/>
<path d="M1957 3059l9 0 8-1 8 0 9-1 8-1 9-2 8-4 9-7 8-7 9-11 8-12 9-14 8-14 9-16 8-17 9-19 8-21 8-21 9-18 8-16 9-15 8-13 9-11 8-11 9-11 8-9 9-10 8-8 9-9 8-8 8-8 9-8 8-7 9-7 8-7 9-7 8-8 9-7 8-7 9-7 8-6 9-6 8-5 9-5 8-5 8-4 9-4"/>
<path d="M1957 3059l9 0 8-1 8 0 9 0 8-1 9-3 8-4 9-5 8-6 9-10 8-10 9-11 8-12 9-13 8-14 9-15 8-18 8-16 9-14 8-12 9-12 8-10 9-9 8-9 9-8 8-8 9-7 8-7 9-7 8-6 8-6 9-6 8-6 9-6 8-6 9-6 8-6 9-5 8-6 9-5 8-5 9-5 8-4 9-4 8-3 8-4 9-3"/>
<path d="M2042 3059l8 0 9-1 8 0 9-1 8-1 9-2 8-2 8-3 9-3 8-3 9-3 8-4 9-4 8-5 9-4 8-3 9-4 8-3 9-3 8-2 8-2 9-2 8-2 9-2 8-2 9-2 8-2 9-1 8-2 9-1 8-2 9-1 8-2 9-2 8-1 8-2 9-1"/>
<path d="M2059 3059l8 0 9 0 8-1 9 0 8 0 8-1 9 0 8-1 9-1 8 0 9-1 8-1 9-1 8 0 9-1 8-1 9 0 8-1 8 0 9 0 8-1 9 0 8 0 9-1 8 0 9 0 8-1 9 0 8 0 9-1 8 0 9 0 8 0 8-1 9 0"/>
<path d="M2042 3059l8 0 9 0 8-1 9-1 8-1 9-1 8-2 8-2 9-3 8-2 9-3 8-4 9-3 8-4 9-4 8-4 9-3 8-2 9-3 8-2 8-2 9-2 8-2 9-2 8-2 9-1 8-2 9-1 8-2 9-1 8-2 9-1 8-1 9-2 8-1 8-1 9-2"/>
<path d="M2050 3059l9 0 8-1 9 0 8 0 9-1 8-1 8-1 9-1 8-1 9-2 8-1 9-2 8-1 9-2 8-1 9-1 8-1 9-1 8-1 8-1 9-1 8 0 9-1 8-1 9 0 8-1 9 0 8-1 9-1 8 0 9-1 8 0 9-1 8 0 8-1 9 0"/>
<path d="M2067 3059l9 0 8-1 9 0 8 0 8-1 9 0 8-1 9-1 8-1 9 0 8-1 9-1 8-1 9-1 8-1 9-1 8 0 8-1 9 0 8-1 9 0 8-1 9 0 8-1 9 0 8 0 9-1 8 0 9 0 8-1 9 0 8 0 8-1 9 0"/>
<path d="M1982 3059l9 0 8-1 9 0 8-1 9-1 8-3 9-3 8-5 9-6 8-8 9-8 8-8 9-10 8-10 8-12 9-12 8-13 9-10 8-10 9-9 8-8 9-7 8-6 9-6 8-6 9-6 8-5 8-5 9-5 8-5 9-4 8-4 9-5 8-4 9-4 8-5 9-4 8-4 9-5 8-3 9-4 8-3 8-3 9-2"/>
<path d="M2008 3059l8 0 9-1 8 0 9-1 8-2 9-2 8-2 9-4 8-5 9-4 8-5 8-5 9-6 8-7 9-7 8-7 9-5 8-5 9-5 8-4 9-4 8-4 9-3 8-3 8-3 9-3 8-3 9-3 8-2 9-3 8-2 9-3 8-2 9-2 8-3 9-2 8-3 9-2 8-2 8-2 9-1"/>
<path d="M1940 3059l9 0 8-1 9 0 8 0 8-1 9-2 8-4 9-6 8-8 9-10 8-12 9-14 8-14 9-15 8-17 9-19 8-21 9-21 8-18 8-16 9-15 8-14 9-11 8-12 9-10 8-10 9-9 8-9 9-9 8-8 9-8 8-7 8-8 9-7 8-7 9-7 8-7 9-8 8-7 9-7 8-6 9-6 8-5 9-5 8-5 9-4 8-4 8-4 9-4"/>
</g>
<g stroke="#d62424" stroke-width="3.5" stroke-opacity="0.26">
<path d="M1949 3059l8 0 9 0 8-1 8 0 9-1 8-2 9-4 8-5 9-7 8-9 9-12 8-12 9-13 8-14 9-16 8-17 9-19 8-19 8-17 9-14 8-14 9-12 8-11 9-10 8-9 9-9 8-9 9-8 8-8 9-7 8-8 8-6 9-7 8-7 9-6 8-7 9-7 8-6 9-7 8-6 9-6 8-5 9-5 8-4 9-5 8-4 8-3 9-4"/>
<path d="M1982 3059l9 0 8-1 9 0 8-1 9-1 8-3 9-4 8-5 9-8 8-9 9-9 8-11 9-11 8-12 8-14 9-15 8-15 9-14 8-12 9-10 8-10 9-9 8-8 9-7 8-8 9-6 8-7 8-6 9-6 8-6 9-5 8-6 9-5 8-5 9-5 8-6 9-5 8-5 9-5 8-5 9-4 8-4 8-4 9-3"/>
<path d="M2008 3059l8 0 9 0 8-1 9 0 8-1 9-2 8-2 9-3 8-5 9-4 8-5 8-5 9-6 8-7 9-7 8-7 9-8 8-6 9-5 8-5 9-5 8-4 9-4 8-3 8-4 9-3 8-3 9-3 8-3 9-3 8-2 9-3 8-2 9-3 8-3 9-2 8-3 9-2 8-3 8-2 9-2"/>
<path d="M2059 3059l8 0 9-1 8 0 9 0 8-1 8-1 9-1 8-1 9-1 8-1 9-1 8-1 9-2 8-1 9-1 8-1 9-1 8 0 8-1 9-1 8 0 9-1 8 0 9-1 8 0 9-1 8 0 9-1 8 0 9-1 8 0 9-1 8 0 8-1 9 0"/>
<path d="M2050 3059l9 0 8 0 9-1 8-1 9 0 8-1 8-2 9-1 8-2 9-1 8-2 9-2 8-2 9-3 8-2 9-1 8-2 9-1 8-2 8-1 9-1 8-1 9-1 8-1 9-1 8-1 9-1 8 0 9-1 8-1 9-1 8 0 9-1 8-1 8-1 9-1"/>
<path d="M2033 3059l9 0 8 0 9-1 8-1 9-1 8-2 9-2 8-2 8-3 9-3 8-3 9-4 8-4 9-4 8-5 9-4 8-3 9-3 8-3 9-3 8-2 8-2 9-2 8-2 9-2 8-2 9-2 8-2 9-1 8-2 9-1 8-2 9-1 8-2 9-2 8-1 8-2 9-1"/>
<path d="M2042 3059l8 0 9-1 8 0 9-1 8 0 9-2 8-1 8-1 9-1 8-2 9-2 8-2 9-2 8-2 9-1 8-2 9-1 8-1 9-2 8-1 8-1 9 0 8-1 9-1 8-1 9-1 8-1 9 0 8-1 9-1 8 0 9-1 8-1 9 0 8-1 8-1 9 0"/>
<path d="M2033 3059l9 0 8 0 9-1 8-1 9-1 8-1 9-2 8-2 8-2 9-2 8-3 9-3 8-3 9-3 8-4 9-2 8-3 9-2 8-2 9-2 8-2 8-2 9-1 8-2 9-1 8-1 9-2 8-1 9-1 8-1 9-2 8-1 9-1 8-1 9-1 8-1 8-1 9-1"/>
<path d="M2050 3059l9 0 8-1 9 0 8-1 9-1 8-1 8-1 9-1 8-2 9-1 8-2 9-2 8-2 9-2 8-1 9-2 8-1 9-1 8-1 8-1 9-1 8-1 9-1 8 0 9-1 8-1 9-1 8 0 9-1 8-1 9 0 8-1 9-1 8 0 8-1 9-1"/>
<path d="M1932 3059l8 0 9 0 8-1 9 0 8-1 8-1 9-2 8-4 9-7 8-8 9-11 8-14 9-15 8-15 9-17 8-19 9-20 8-23 9-23 8-20 8-18 9-16 8-14 9-13 8-12 9-12 8-10 9-10 8-10 9-9 8-9 9-9 8-8 8-8 9-8 8-8 9-8 8-8 9-8 8-8 9-7 8-7 9-7 8-5 9-6 8-5 9-4 8-5 8-4 9-5"/>
<path d="M1932 3059l8 0 9 0 8-1 9 0 8-1 8-1 9-3 8-5 9-7 8-9 9-11 8-13 9-14 8-14 9-17 8-17 9-20 8-21 9-20 8-17 8-15 9-14 8-13 9-11 8-10 9-10 8-10 9-9 8-9 9-8 8-8 9-8 8-7 8-7 9-7 8-7 9-8 8-7 9-7 8-7 9-7 8-6 9-5 8-5 9-5 8-4 9-4 8-4 8-5 9-4"/>
<path d="M1957 3059l9 0 8 0 8-1 9 0 8-1 9-2 8-4 9-5 8-7 9-9 8-11 9-11 8-12 9-14 8-14 9-16 8-18 8-18 9-15 8-13 9-13 8-11 9-9 8-10 9-8 8-8 9-8 8-8 9-7 8-7 8-7 9-6 8-6 9-6 8-6 9-6 8-7 9-6 8-6 9-6 8-5 9-5 8-4 9-4 8-4 8-4 9-3"/>
<path d="M1957 3059l9 0 8-1 8 0 9 0 8-1 9-2 8-4 9-5 8-6 9-9 8-10 9-10 8-11 9-12 8-13 9-15 8-17 8-15 9-13 8-12 9-10 8-10 9-8 8-9 9-7 8-7 9-7 8-7 9-6 8-6 8-6 9-6 8-5 9-6 8-5 9-6 8-5 9-6 8-5 9-5 8-5 9-4 8-4 9-3 8-4 8-3 9-3"/>
<path d="M1966 3059l8 0 8 0 9-1 8 0 9-1 8-2 9-4 8-5 9-6 8-9 9-11 8-10 9-12 8-13 9-14 8-15 8-18 9-16 8-14 9-13 8-12 9-10 8-9 9-9 8-8 9-8 8-7 9-7 8-7 8-7 9-6 8-6 9-6 8-6 9-5 8-6 9-6 8-6 9-6 8-5 9-5 8-5 9-4 8-4 8-3 9-4"/>
<path d="M2016 3059l9 0 8-1 9 0 8-1 9-1 8-2 9-3 8-3 9-4 8-5 8-4 9-5 8-6 9-6 8-7 9-6 8-6 9-5 8-5 9-4 8-4 9-3 8-4 8-3 9-3 8-2 9-3 8-3 9-2 8-3 9-2 8-2 9-3 8-2 9-2 8-3 9-2 8-2 8-2 9-2"/>
</g>
<g stroke="#d62424" stroke-width="3.5" stroke-opacity="0.32">
<path d="M1966 3059l8 0 8 0 9-1 8 0 9-1 8-1 9-4 8-5 9-6 8-9 9-11 8-11 9-12 8-13 9-14 8-16 8-18 9-18 8-15 9-14 8-13 9-11 8-10 9-10 8-8 9-9 8-8 9-7 8-7 8-8 9-6 8-7 9-6 8-6 9-6 8-6 9-6 8-7 9-6 8-6 9-5 8-5 9-4 8-5 8-3 9-4"/>
<path d="M1974 3059l8 0 9-1 8 0 9 0 8-1 9-3 8-4 9-5 8-7 9-9 8-10 9-11 8-11 9-13 8-14 8-16 9-17 8-16 9-13 8-13 9-11 8-10 9-9 8-8 9-8 8-8 9-7 8-7 8-7 9-6 8-6 9-6 8-6 9-6 8-5 9-6 8-6 9-6 8-5 9-6 8-4 9-5 8-4 8-4 9-3"/>
<path d="M1974 3059l8 0 9 0 8-1 9 0 8-1 9-2 8-4 9-4 8-6 9-7 8-8 9-9 8-9 9-10 8-11 8-13 9-13 8-12 9-10 8-9 9-8 8-8 9-7 8-6 9-6 8-6 9-5 8-6 8-5 9-5 8-4 9-5 8-4 9-5 8-4 9-4 8-5 9-4 8-5 9-4 8-3 9-4 8-3 8-2 9-3"/>
<path d="M1999 3059l9 0 8 0 9-1 8 0 9-1 8-3 9-3 8-4 9-6 8-6 9-8 8-8 8-9 9-9 8-10 9-12 8-12 9-10 8-9 9-9 8-7 9-7 8-6 9-6 8-5 8-6 9-5 8-5 9-4 8-5 9-4 8-4 9-4 8-4 9-4 8-4 9-4 8-4 9-4 8-4 8-3 9-3"/>
<path d="M2016 3059l9 0 8-1 9 0 8-1 9-1 8-2 9-3 8-3 9-4 8-4 8-4 9-4 8-5 9-6 8-6 9-6 8-4 9-5 8-4 9-3 8-3 9-3 8-3 8-3 9-2 8-3 9-2 8-2 9-3 8-2 9-2 8-2 9-2 8-2 9-2 8-2 9-2 8-2 8-1 9-2"/>
<path d="M2050 3059l9 0 8-1 9 0 8-1 9-1 8-2 8-2 9-2 8-2 9-2 8-2 9-3 8-3 9-3 8-3 9-2 8-2 9-2 8-2 8-1 9-2 8-1 9-2 8-1 9-1 8-1 9-2 8-1 9-1 8-1 9-1 8-1 9-1 8-1 8-1 9-1"/>
<path d="M2042 3059l8 0 9-1 8 0 9-1 8-1 9-2 8-2 8-2 9-2 8-3 9-3 8-3 9-3 8-4 9-3 8-3 9-3 8-2 9-2 8-2 8-2 9-2 8-1 9-2 8-1 9-2 8-1 9-2 8-1 9-1 8-1 9-2 8-1 9-1 8-1 8-1 9-2"/>
<path d="M2025 3059l8 0 9 0 8-1 9 0 8-1 9-2 8-2 9-2 8-3 8-3 9-3 8-4 9-4 8-4 9-5 8-4 9-4 8-3 9-3 8-3 9-3 8-2 8-2 9-2 8-2 9-2 8-2 9-2 8-2 9-1 8-2 9-1 8-2 9-1 8-2 9-2 8-1 8-2 9-1"/>
<path d="M2042 3059l8 0 9 0 8-1 9-1 8-1 9-1 8-2 8-2 9-2 8-3 9-2 8-3 9-4 8-3 9-3 8-3 9-3 8-2 9-2 8-2 8-1 9-2 8-2 9-1 8-2 9-1 8-1 9-1 8-2 9-1 8-1 9-1 8-1 9-2 8-1 8-1 9-1"/>
<path d="M2042 3059l8 0 9 0 8-1 9-1 8-1 9-1 8-2 8-2 9-2 8-3 9-2 8-3 9-3 8-4 9-3 8-3 9-3 8-3 9-2 8-2 8-2 9-1 8-2 9-2 8-1 9-1 8-2 9-1 8-1 9-2 8-1 9-1 8-1 9-2 8-1 8-1 9-1"/>
<path d="M2033 3059l9 0 8-1 9 0 8-1 9-1 8-2 9-2 8-2 8-2 9-2 8-3 9-3 8-3 9-3 8-3 9-2 8-3 9-2 8-2 9-1 8-2 8-1 9-2 8-1 9-1 8-2 9-1 8-1 9-1 8-1 9-1 8-2 9-1 8-1 9-1 8-1 8-1 9-1"/>
<path d="M2067 3059l9 0 8-1 9 0 8 0 8-1 9-1 8 0 9-1 8-1 9-1 8-1 9-1 8-1 9-1 8-1 9-1 8-1 8 0 9-1 8 0 9-1 8 0 9-1 8 0 9-1 8 0 9-1 8 0 9 0 8-1 9 0 8 0 8-1 9 0"/>
<path d="M2033 3059l9 0 8-1 9 0 8-1 9-1 8-1 9-2 8-2 8-2 9-2 8-2 9-3 8-3 9-2 8-3 9-2 8-2 9-2 8-2 9-1 8-2 8-1 9-1 8-1 9-1 8-2 9-1 8-1 9-1 8-1 9-1 8-1 9-1 8-1 9-1 8-1 8 0 9-1"/>
<path d="M2025 3059l8 0 9 0 8-1 9 0 8-2 9-2 8-2 9-3 8-4 8-4 9-5 8-5 9-5 8-6 9-6 8-7 9-6 8-5 9-5 8-4 9-4 8-3 8-3 9-3 8-3 9-3 8-3 9-3 8-2 9-2 8-3 9-2 8-2 9-3 8-2 9-2 8-2 8-3 9-2"/>
<path d="M1974 3059l8 0 9-1 8 0 9 0 8-1 9-3 8-4 9-4 8-6 9-8 8-8 9-9 8-10 9-10 8-12 8-13 9-13 8-12 9-10 8-9 9-9 8-7 9-7 8-7 9-6 8-6 9-5 8-6 8-5 9-5 8-5 9-4 8-5 9-4 8-5 9-5 8-4 9-5 8-4 9-4 8-4 9-3 8-3 8-3 9-3"/>
</g>
<g stroke="#d62424" stroke-width="3.5" stroke-opacity="0.4">
<path d="M1940 3059l9 0 8-1 9 0 8 0 8-1 9-2 8-3 9-6 8-8 9-10 8-13 9-14 8-15 9-17 8-18 9-19 8-22 9-24 8-21 8-18 9-17 8-15 9-14 8-12 9-11 8-11 9-11 8-9 9-10 8-9 9-9 8-8 8-8 9-8 8-8 9-8 8-8 9-8 8-8 9-8 8-7 9-6 8-6 9-6 8-5 9-5 8-4 8-5 9-4"/>
<path d="M1999 3059l9 0 8-1 9 0 8 0 9-2 8-2 9-3 8-4 9-5 8-6 9-6 8-7 8-7 9-8 8-9 9-9 8-8 9-8 8-6 9-6 8-6 9-5 8-4 9-5 8-4 8-4 9-3 8-4 9-3 8-4 9-3 8-3 9-3 8-3 9-4 8-3 9-3 8-3 9-3 8-2 8-3 9-2"/>
<path d="M2042 3059l8 0 9 0 8-1 9-1 8 0 9-1 8-2 8-1 9-1 8-2 9-2 8-1 9-3 8-2 9-1 8-2 9-1 8-2 9-1 8-1 8-1 9-1 8-1 9-1 8 0 9-1 8-1 9-1 8 0 9-1 8-1 9-1 8 0 9-1 8-1 8 0 9-1"/>
<path d="M2059 3059l8 0 9-1 8 0 9-1 8-1 8-1 9-1 8-1 9-1 8-2 9-1 8-2 9-2 8-1 9-2 8-1 9-1 8-1 8-1 9-1 8-1 9-1 8 0 9-1 8-1 9 0 8-1 9-1 8 0 9-1 8-1 9 0 8-1 8 0 9-1"/>
<path d="M2059 3059l8 0 9-1 8 0 9 0 8-1 8-1 9 0 8-1 9-1 8 0 9-1 8-1 9-1 8-1 9 0 8-1 9 0 8-1 8 0 9-1 8 0 9-1 8 0 9 0 8-1 9 0 8 0 9-1 8 0 9 0 8-1 9 0 8 0 8 0 9-1"/>
<path d="M2050 3059l9 0 8-1 9 0 8-1 9 0 8-1 8-1 9-1 8-2 9-1 8-1 9-2 8-1 9-2 8-1 9-1 8-1 9-1 8-1 8-1 9 0 8-1 9-1 8 0 9-1 8-1 9 0 8-1 9 0 8-1 9 0 8-1 9 0 8-1 8 0 9-1"/>
<path d="M2050 3059l9 0 8-1 9 0 8-1 9-1 8-1 8-1 9-1 8-2 9-1 8-2 9-1 8-2 9-2 8-1 9-1 8-1 9-1 8-1 8-1 9-1 8-1 9-1 8 0 9-1 8-1 9 0 8-1 9-1 8 0 9-1 8 0 9-1 8-1 8 0 9-1"/>
<path d="M2067 3059l9 0 8-1 9 0 8 0 8-1 9-1 8-1 9 0 8-1 9-1 8-1 9-2 8-1 9-1 8-1 9-1 8 0 8-1 9-1 8 0 9-1 8 0 9-1 8 0 9-1 8 0 9-1 8 0 9 0 8-1 9 0 8-1 8 0 9-1"/>
<path d="M1999 3059l9 0 8-1 9 0 8-1 9-2 8-2 9-3 8-5 9-5 8-6 9-6 8-6 8-7 9-8 8-9 9-9 8-7 9-7 8-6 9-6 8-5 9-4 8-4 9-4 8-4 8-4 9-4 8-3 9-3 8-3 9-3 8-3 9-3 8-3 9-4 8-3 9-3 8-2 9-3 8-3 8-2 9-2"/>
<path d="M1932 3059l8 0 9 0 8-1 9 0 8-1 8-1 9-4 8-6 9-7 8-9 9-13 8-15 9-15 8-16 9-18 8-19 9-22 8-24 9-22 8-18 8-17 9-16 8-13 9-13 8-11 9-11 8-11 9-10 8-9 9-10 8-9 9-8 8-8 8-8 9-8 8-8 9-8 8-8 9-8 8-8 9-7 8-7 9-6 8-5 9-5 8-5 9-5 8-4 8-5 9-4"/>
</g>
<g stroke="#d62424" stroke-width="3.5" stroke-opacity="0.5">
<path d="M1932 3059l8 0 9 0 8-1 9 0 8-1 8-1 9-3 8-6 9-6 8-9 9-11 8-14 9-13 8-15 9-17 8-17 9-20 8-22 9-20 8-17 8-15 9-14 8-13 9-11 8-11 9-10 8-10 9-9 8-9 9-8 8-8 9-8 8-7 8-8 9-7 8-7 9-7 8-8 9-7 8-7 9-7 8-6 9-5 8-5 9-5 8-4 9-5 8-4 8-4 9-4"/>
<path d="M1940 3059l9 0 8 0 9-1 8 0 8-1 9-1 8-3 9-5 8-7 9-8 8-11 9-12 8-13 9-14 8-16 9-16 8-19 9-20 8-18 8-16 9-14 8-13 9-12 8-10 9-10 8-10 9-8 8-9 9-8 8-8 9-7 8-7 8-7 9-7 8-7 9-7 8-6 9-7 8-7 9-7 8-6 9-5 8-5 9-5 8-4 9-4 8-4 8-4 9-4"/>
<path d="M1982 3059l9 0 8 0 9-1 8 0 9-1 8-2 9-3 8-4 9-5 8-6 9-7 8-7 9-7 8-9 8-9 9-10 8-11 9-9 8-8 9-8 8-6 9-6 8-6 9-5 8-5 9-4 8-5 8-4 9-4 8-4 9-4 8-4 9-3 8-4 9-3 8-4 9-4 8-3 9-4 8-3 9-3 8-2 8-3 9-2"/>
<path d="M2016 3059l9 0 8 0 9-1 8-1 9-1 8-2 9-2 8-3 9-3 8-3 8-4 9-4 8-4 9-5 8-5 9-5 8-4 9-4 8-3 9-3 8-3 9-2 8-2 8-3 9-2 8-2 9-2 8-2 9-2 8-2 9-1 8-2 9-2 8-1 9-2 8-2 9-2 8-1 8-2 9-1"/>
<path d="M2050 3059l9 0 8-1 9 0 8-1 9-1 8-2 8-2 9-3 8-2 9-3 8-3 9-3 8-3 9-4 8-3 9-3 8-3 9-2 8-2 8-2 9-2 8-2 9-2 8-1 9-2 8-1 9-2 8-1 9-1 8-1 9-2 8-1 9-1 8-2 8-1 9-1"/>
<path d="M2059 3059l8 0 9-1 8 0 9-1 8-1 8-1 9-2 8-2 9-1 8-2 9-2 8-3 9-2 8-2 9-2 8-2 9-2 8-1 8-2 9-1 8-1 9-1 8-1 9-1 8-1 9-1 8-1 9-1 8-1 9-1 8-1 9 0 8-1 8-1 9-1"/>
<path d="M2050 3059l9 0 8-1 9 0 8 0 9-1 8-1 8-1 9-1 8-1 9-1 8-1 9-2 8-1 9-1 8-1 9-2 8 0 9-1 8-1 8-1 9 0 8-1 9-1 8 0 9-1 8 0 9-1 8 0 9-1 8 0 9-1 8 0 9-1 8 0 8-1 9 0"/>
<path d="M2050 3059l9 0 8-1 9 0 8-1 9-1 8-2 8-2 9-2 8-2 9-3 8-2 9-3 8-4 9-3 8-3 9-3 8-2 9-3 8-2 8-1 9-2 8-2 9-1 8-2 9-1 8-2 9-1 8-1 9-1 8-1 9-2 8-1 9-1 8-1 8-1 9-1"/>
<path d="M1974 3059l8 0 9 0 8-1 9 0 8-1 9-1 8-3 9-5 8-6 9-8 8-9 9-11 8-11 9-12 8-14 8-14 9-17 8-17 9-14 8-13 9-12 8-11 9-9 8-9 9-8 8-8 9-7 8-7 8-7 9-7 8-6 9-6 8-6 9-5 8-6 9-6 8-5 9-6 8-6 9-5 8-6 9-4 8-4 8-4 9-4"/>
<path d="M2008 3059l8 0 9 0 8-1 9 0 8-2 9-2 8-2 9-4 8-5 9-5 8-6 8-6 9-6 8-7 9-9 8-8 9-8 8-7 9-6 8-6 9-5 8-4 9-4 8-5 8-3 9-4 8-3 9-4 8-3 9-3 8-3 9-3 8-3 9-3 8-3 9-3 8-3 9-3 8-2 8-3 9-2"/>
<path d="M1966 3059l8 0 8-1 9 0 8 0 9-1 8-3 9-3 8-5 9-6 8-8 9-10 8-9 9-10 8-12 9-12 8-14 8-15 9-13 8-12 9-11 8-9 9-9 8-8 9-7 8-7 9-6 8-6 9-6 8-6 8-6 9-5 8-5 9-5 8-5 9-5 8-5 9-5 8-5 9-5 8-5 9-4 8-4 9-3 8-3 8-3 9-3"/>
</g>
<g stroke="#d62424" stroke-width="3.5" stroke-opacity="0.75">
<path d="M1991 3059l8 0 9-1 8 0 9-1 8-1 9-3 8-4 9-4 8-7 9-7 8-8 9-9 8-9 8-10 9-12 8-13 9-12 8-10 9-10 8-8 9-8 8-7 9-6 8-6 9-6 8-6 8-5 9-5 8-5 9-4 8-5 9-4 8-4 9-5 8-4 9-4 8-5 9-4 8-4 9-4 8-3 8-3 9-3"/>
<path d="M2042 3059l8 0 9-1 8 0 9-1 8-1 9-2 8-2 8-2 9-2 8-2 9-3 8-3 9-3 8-4 9-3 8-2 9-3 8-2 9-2 8-2 8-1 9-2 8-2 9-1 8-1 9-2 8-1 9-1 8-1 9-2 8-1 9-1 8-1 9-1 8-1 8-1 9-1"/>
<path d="M2050 3059l9 0 8-1 9 0 8-1 9-1 8-1 8-1 9-1 8-1 9-1 8-2 9-2 8-1 9-2 8-1 9-1 8-1 9-1 8-1 8-1 9 0 8-1 9-1 8 0 9-1 8-1 9 0 8-1 9 0 8-1 9 0 8-1 9-1 8 0 8-1 9 0"/>
<path d="M2050 3059l9 0 8-1 9 0 8-1 9-2 8-1 8-3 9-2 8-2 9-3 8-3 9-4 8-3 9-4 8-4 9-3 8-2 9-3 8-2 8-2 9-2 8-2 9-1 8-2 9-1 8-2 9-1 8-2 9-1 8-1 9-2 8-1 9-1 8-2 8-1 9-1"/>
<path d="M2076 3059l8 0 9-1 8 0 8 0 9-1 8-1 9 0 8-1 9-1 8-1 9-1 8-1 9-1 8 0 9-1 8-1 8 0 9-1 8 0 9-1 8 0 9-1 8 0 9-1 8 0 9 0 8-1 9 0 8 0 9-1 8 0 8 0 9-1"/>
<path d="M2025 3059l8 0 9-1 8 0 9-1 8-1 9-2 8-2 9-2 8-3 8-3 9-3 8-3 9-4 8-4 9-3 8-4 9-3 8-2 9-3 8-2 9-2 8-2 8-2 9-1 8-2 9-2 8-1 9-2 8-1 9-1 8-2 9-1 8-1 9-2 8-1 9-1 8-2 8-1 9-1"/>
</g>
</g>
<rect x="1528" y="3257" width="864" height="697" fill="#c2d4e4"/>
<rect x="1604" y="3317" width="761" height="577" fill="#ffffff"/>
<rect x="1600" y="3313" width="769" height="4" fill="#8a8a8a"/>
<rect x="1600" y="3313" width="4" height="585" fill="#8a9aaa"/>
<rect x="1604" y="3317" width="4" height="577" fill="#d8d8d8"/>
<rect x="2365" y="3313" width="4" height="585" fill="#8a9aaa"/>
<rect x="2361" y="3317" width="4" height="577" fill="#dcdcdc"/>
<rect x="1600" y="3894" width="769" height="4" fill="#7a7e84"/>
<text transform="translate(1877.0,3300.5) scale(0.943,1)" font-size="16.6" fill="#5a6270">Amplification Curves</text>
<text transform="translate(1559.2,3355.0) scale(0.850,1)" font-size="15.9" fill="#5c6470">86,267</text>
<text transform="translate(1559.2,3401.3) scale(0.850,1)" font-size="15.9" fill="#5c6470">78,267</text>
<text transform="translate(1559.2,3447.5) scale(0.850,1)" font-size="15.9" fill="#5c6470">70,267</text>
<text transform="translate(1559.2,3493.9) scale(0.850,1)" font-size="15.9" fill="#5c6470">62,267</text>
<text transform="translate(1559.2,3541.3) scale(0.850,1)" font-size="15.9" fill="#5c6470">54,267</text>
<text transform="translate(1559.2,3587.5) scale(0.850,1)" font-size="15.9" fill="#5c6470">46,267</text>
<text transform="translate(1559.2,3633.8) scale(0.850,1)" font-size="15.9" fill="#5c6470">38,267</text>
<text transform="translate(1559.2,3680.1) scale(0.850,1)" font-size="15.9" fill="#5c6470">30,267</text>
<text transform="translate(1559.2,3726.9) scale(0.850,1)" font-size="15.9" fill="#5c6470">22,267</text>
<text transform="translate(1559.2,3773.2) scale(0.850,1)" font-size="15.9" fill="#5c6470">14,267</text>
<text transform="translate(1566.8,3819.5) scale(0.850,1)" font-size="15.9" fill="#5c6470">6,267</text>
<text transform="translate(1550.3,3695.5) rotate(-90) scale(1.238,1)" font-size="12.8" font-weight="bold" fill="#2a2e36">Fluorescence (465-510)</text>
<rect x="1677" y="3898" width="2" height="4" fill="#8a96a4"/>
<text transform="translate(1674.5,3916.0) scale(0.800,1)" font-size="15.9" fill="#4a5260">5</text>
<rect x="1762" y="3898" width="2" height="4" fill="#8a96a4"/>
<text transform="translate(1755.7,3916.0) scale(0.800,1)" font-size="15.9" fill="#4a5260">10</text>
<rect x="1847" y="3898" width="2" height="4" fill="#8a96a4"/>
<text transform="translate(1840.7,3916.0) scale(0.800,1)" font-size="15.9" fill="#4a5260">15</text>
<rect x="1932" y="3898" width="2" height="4" fill="#8a96a4"/>
<text transform="translate(1925.8,3916.0) scale(0.800,1)" font-size="15.9" fill="#4a5260">20</text>
<rect x="2017" y="3898" width="2" height="4" fill="#8a96a4"/>
<text transform="translate(2010.9,3916.0) scale(0.800,1)" font-size="15.9" fill="#4a5260">25</text>
<rect x="2102" y="3898" width="2" height="4" fill="#8a96a4"/>
<text transform="translate(2095.9,3916.0) scale(0.800,1)" font-size="15.9" fill="#4a5260">30</text>
<rect x="2187" y="3898" width="2" height="4" fill="#8a96a4"/>
<text transform="translate(2180.9,3916.0) scale(0.800,1)" font-size="15.9" fill="#4a5260">35</text>
<rect x="2272" y="3898" width="2" height="4" fill="#8a96a4"/>
<text transform="translate(2266.0,3916.0) scale(0.800,1)" font-size="15.9" fill="#4a5260">40</text>
<rect x="2357" y="3898" width="2" height="4" fill="#8a96a4"/>
<text transform="translate(2351.0,3916.0) scale(0.800,1)" font-size="15.9" fill="#4a5260">45</text>
<text transform="translate(1955.4,3936.2) scale(0.704,1)" font-size="20.3" font-weight="bold" fill="#3a4250">Cycles</text>
<clipPath id="c5"><rect x="1604" y="3317" width="761" height="577"/></clipPath>
<g clip-path="url(#c5)" fill="none">
<path d="M1608,3850.0L1950,3844.0L2359,3841.0L2359,3849.0L1950,3850.5L1608,3854.0Z" fill="#3ee23e" stroke="none" fill-opacity="0.9"/>
<g stroke="#d62424" stroke-width="3.5" stroke-opacity="0.2">
<path d="M2010 3847l8 0 8 0 9-1 9 0 8 0 8-1 9 0 9-3 8-5 8-6 9-7 9-7 8-8 8-10 9-11 9-13 8-17 8-18 9-16 9-12 8-12 8-11 9-13 9-14 8-12 8-9 9-7 9-7 8-5 8-6 9-5 9-4 8-3 8-3 9-3 9-2 8-3 8-2 9-1 9-2 8-1"/>
<path d="M2018 3847l8 0 9 0 9-1 8 0 8 0 9-1 9-1 8-3 8-4 9-5 9-7 8-6 8-7 9-9 9-10 8-12 8-15 9-16 9-12 8-11 8-9 9-10 9-12 8-12 8-9 9-8 9-5 8-6 8-4 9-5 9-4 8-3 8-3 9-3 9-2 8-2 8-2 9-1 9-2 8-1"/>
<path d="M1967 3847l9 0 8-1 8 0 9 0 9-1 8-1 8 0 9-3 9-6 8-9 8-12 9-12 9-14 8-15 8-18 9-21 9-25 8-32 8-32 9-27 9-21 8-21 8-21 9-24 9-24 8-21 8-15 9-12 9-11 8-10 8-9 9-9 9-6 8-6 8-6 9-4 9-5 8-4 8-3 9-3 9-2 8-3 8-2 9-2 9-1 8-2"/>
<path d="M1967 3847l9 0 8 0 8-1 9 0 9-1 8 0 8-1 9-1 9-3 8-8 8-9 9-12 9-12 8-13 8-16 9-18 9-21 8-27 8-31 9-28 9-22 8-20 8-19 9-21 9-23 8-22 8-16 9-13 9-11 8-10 8-9 9-8 9-8 8-5 8-6 9-5 9-4 8-4 8-3 9-3 9-3 8-2 8-2 9-2 9-2 8-1"/>
<path d="M1967 3847l9 0 8 0 8-1 9 0 9-1 8 0 8-1 9-1 9-3 8-7 8-10 9-12 9-12 8-12 8-16 9-18 9-21 8-26 8-30 9-28 9-22 8-20 8-19 9-20 9-23 8-21 8-17 9-12 9-11 8-10 8-9 9-8 9-7 8-6 8-5 9-5 9-4 8-4 8-3 9-3 9-3 8-2 8-2 9-2 9-2 8-1"/>
<path d="M1976 3847l8 0 8 0 9-1 9 0 8-1 8 0 9-1 9-1 8-4 8-8 9-10 9-11 8-12 8-13 9-15 9-18 8-21 8-27 9-29 9-26 8-20 8-19 9-18 9-21 8-22 8-19 9-15 9-11 8-10 8-10 9-8 9-8 8-6 8-6 9-5 9-4 8-4 8-4 9-3 9-3 8-2 8-2 9-2 9-2 8-1"/>
<path d="M2018 3847l8 0 9-1 9 0 8 0 8 0 9-1 9-1 8-3 8-6 9-6 9-8 8-7 8-8 9-11 9-12 8-14 8-17 9-19 9-15 8-12 8-11 9-12 9-14 8-13 8-12 9-8 9-7 8-6 8-6 9-5 9-5 8-4 8-3 9-3 9-3 8-2 8-3 9-2 9-1 8-2"/>
<path d="M2026 3847l9 0 9-1 8 0 8 0 9 0 9-1 8-2 8-3 9-5 9-6 8-7 8-6 9-8 9-10 8-10 8-14 9-16 9-14 8-11 8-10 9-10 9-11 8-11 8-11 9-9 9-6 8-6 8-5 9-4 9-5 8-3 8-3 9-3 9-2 8-3 8-2 9-1 9-2 8-1"/>
<path d="M2120 3847l8 0 9-1 9 0 8-1 8-1 9-1 9-1 8-1 8-1 9-2 9-2 8-2 8-2 9-1 9-2 8-1 8-2 9-1 9-2 8-1 8-1 9-1 9 0 8-1 8-1 9 0 9-1 8 0"/>
<path d="M2120 3847l8 0 9-1 9 0 8-1 8-1 9-1 9-1 8-1 8-2 9-1 9-3 8-2 8-3 9-2 9-1 8-2 8-2 9-2 9-2 8-1 8-1 9-1 9-1 8-1 8-1 9 0 9-1 8 0"/>
</g>
<g stroke="#d62424" stroke-width="3.5" stroke-opacity="0.26">
<path d="M1984 3847l8 0 9-1 9 0 8-1 8 0 9-1 9-1 8-4 8-7 9-9 9-11 8-11 8-13 9-14 9-18 8-20 8-25 9-29 9-25 8-20 8-18 9-18 9-20 8-21 8-20 9-15 9-11 8-10 8-9 9-8 9-8 8-7 8-5 9-5 9-4 8-4 8-4 9-3 9-2 8-3 8-2 9-2 9-1 8-2"/>
<path d="M1984 3847l8 0 9 0 9-1 8 0 8-1 9 0 9-1 8-3 8-5 9-9 9-10 8-11 8-11 9-13 9-16 8-18 8-22 9-27 9-25 8-21 8-17 9-17 9-18 8-20 8-20 9-15 9-12 8-9 8-9 9-8 9-8 8-6 8-5 9-5 9-5 8-3 8-4 9-3 9-3 8-2 8-2 9-2 9-1 8-2"/>
<path d="M2026 3847l9 0 9-1 8 0 8 0 9 0 9-1 8-1 8-4 9-5 9-6 8-6 8-7 9-8 9-10 8-11 8-13 9-17 9-16 8-13 8-11 9-10 9-11 8-12 8-13 9-10 9-7 8-6 8-5 9-6 9-4 8-4 8-4 9-3 9-2 8-3 8-2 9-2 9-2 8-1"/>
<path d="M2026 3847l9 0 9 0 8-1 8 0 9 0 9-1 8 0 8-3 9-4 9-6 8-5 8-6 9-7 9-8 8-10 8-11 9-14 9-15 8-12 8-10 9-9 9-9 8-11 8-11 9-9 9-7 8-6 8-5 9-4 9-4 8-4 8-3 9-3 9-2 8-2 8-2 9-2 9-2 8-1"/>
<path d="M2052 3847l8 0 9 0 9-1 8 0 8 0 9-1 9-1 8-3 8-4 9-5 9-6 8-5 8-7 9-8 9-9 8-11 8-14 9-13 9-10 8-9 8-9 9-9 9-10 8-10 8-8 9-5 9-5 8-5 8-4 9-4 9-3 8-3 8-2 9-2 9-2 8-2"/>
<path d="M2052 3847l8 0 9-1 9 0 8 0 8 0 9-2 9-2 8-4 8-4 9-5 9-5 8-6 8-7 9-8 9-9 8-12 8-11 9-9 9-8 8-7 8-8 9-9 9-8 8-7 8-5 9-4 9-4 8-3 8-3 9-3 9-3 8-2 8-1 9-2 9-2 8-1"/>
<path d="M2069 3847l9 0 8 0 8-1 9 0 9 0 8-1 8-2 9-3 9-3 8-4 8-3 9-5 9-5 8-6 8-7 9-9 9-9 8-7 8-6 9-6 9-6 8-6 8-7 9-5 9-4 8-3 8-3 9-3 9-3 8-2 8-2 9-1 9-2 8-1"/>
<path d="M2120 3847l8 0 9-1 9 0 8-1 8-1 9-1 9-1 8-2 8-1 9-2 9-2 8-3 8-3 9-2 9-2 8-2 8-2 9-2 9-2 8-1 8-2 9-1 9-1 8 0 8-1 9-1 9-1 8 0"/>
<path d="M2044 3847l8 0 8-1 9 0 9 0 8 0 8-1 9-1 9-4 8-4 8-6 9-6 9-6 8-7 8-9 9-10 9-12 8-15 8-13 9-11 9-9 8-9 8-10 9-11 9-10 8-8 8-6 9-5 9-4 8-5 8-4 9-3 9-3 8-2 8-3 9-2 9-2 8-1"/>
<path d="M2010 3847l8 0 8-1 9 0 9 0 8-1 8 0 9-2 9-4 8-5 8-7 9-7 9-8 8-9 8-11 9-12 9-15 8-19 8-18 9-14 9-12 8-12 8-12 9-14 9-13 8-11 8-8 9-7 9-6 8-6 8-5 9-5 9-3 8-4 8-3 9-2 9-3 8-2 8-2 9-1 9-2 8-1"/>
<path d="M2010 3847l8 0 8 0 9-1 9 0 8 0 8-1 9-1 9-2 8-5 8-6 9-8 9-8 8-9 8-10 9-13 9-14 8-18 8-20 9-19 9-15 8-14 8-12 9-14 9-16 8-15 8-11 9-8 9-8 8-6 8-6 9-6 9-5 8-4 8-3 9-4 9-3 8-2 8-2 9-2 9-2 8-2"/>
<path d="M1967 3847l9 0 8 0 8-1 9 0 9-1 8 0 8-1 9-2 9-5 8-8 8-9 9-11 9-11 8-13 8-15 9-18 9-21 8-27 8-27 9-21 9-19 8-17 8-17 9-20 9-21 8-17 8-12 9-11 9-9 8-8 8-8 9-7 9-5 8-5 8-5 9-4 9-4 8-3 8-3 9-2 9-2 8-2 8-2 9-1 9-2 8-1"/>
<path d="M2001 3847l9 0 8-1 8 0 9 0 9-1 8 0 8-2 9-4 9-7 8-8 8-10 9-9 9-11 8-14 8-15 9-18 9-23 8-23 8-20 9-16 9-15 8-15 8-17 9-18 9-15 8-11 8-10 9-7 9-8 8-7 8-6 9-5 9-4 8-4 8-4 9-3 9-3 8-2 8-2 9-2 9-2 8-1"/>
<path d="M2137 3847l9 0 8 0 8-1 9 0 9 0 8-1 8 0 9-1 9 0 8-1 8-1 9 0 9-1 8 0 8-1 9 0 9-1 8-1 8 0 9 0 9-1 8 0 8 0 9 0 9-1 8 0"/>
<path d="M2137 3847l9 0 8 0 8-1 9 0 9-1 8 0 8-1 9 0 9-1 8-1 8-1 9-2 9-1 8 0 8-1 9-1 9-1 8-1 8 0 9-1 9 0 8-1 8 0 9 0 9-1 8 0"/>
<path d="M2069 3847l9 0 8 0 8-1 9 0 9 0 8-1 8-2 9-3 9-3 8-3 8-4 9-4 9-5 8-6 8-8 9-8 9-8 8-6 8-6 9-5 9-6 8-6 8-6 9-5 9-3 8-3 8-3 9-3 9-2 8-2 8-2 9-1 9-1 8-2"/>
</g>
<g stroke="#d62424" stroke-width="3.5" stroke-opacity="0.32">
<path d="M2010 3847l8 0 8-1 9 0 9 0 8-1 8 0 9-2 9-4 8-6 8-7 9-8 9-8 8-9 8-12 9-13 9-15 8-20 8-19 9-15 9-13 8-12 8-13 9-15 9-14 8-12 8-8 9-8 9-6 8-6 8-5 9-5 9-4 8-4 8-3 9-3 9-2 8-3 8-2 9-1 9-2 8-1"/>
<path d="M2060 3847l9 0 9-1 8 0 8 0 9 0 9-1 8-3 8-4 9-4 9-5 8-5 8-6 9-8 9-8 8-10 8-12 9-13 9-10 8-8 8-8 9-8 9-9 8-10 8-7 9-6 9-5 8-4 8-4 9-3 9-4 8-2 8-2 9-2 9-2 8-2"/>
<path d="M2103 3847l9 0 8 0 8-1 9-1 9-1 8-1 8-2 9-2 9-2 8-2 8-3 9-3 9-5 8-4 8-3 9-3 9-3 8-2 8-4 9-3 9-2 8-2 8-2 9-1 9-1 8-2 8-1 9-1 9 0 8-1"/>
<path d="M2120 3847l8 0 9-1 9 0 8-1 8-1 9-1 9-1 8-1 8-1 9-2 9-2 8-2 8-3 9-1 9-2 8-1 8-2 9-2 9-1 8-2 8-1 9 0 9-1 8-1 8-1 9 0 9-1 8 0"/>
<path d="M2146 3847l8 0 8-1 9 0 9 0 8-1 8 0 9-1 9-1 8-1 8-1 9-1 9-1 8-1 8 0 9-1 9-1 8-1 8 0 9-1 9 0 8-1 8 0 9 0 9-1 8 0"/>
<path d="M2137 3847l9 0 8-1 8 0 9 0 9 0 8-1 8 0 9-1 9 0 8-1 8-1 9 0 9-1 8 0 8-1 9 0 9-1 8 0 8-1 9 0 9 0 8 0 8-1 9 0 9 0 8 0"/>
<path d="M2018 3847l8 0 9-1 9 0 8 0 8 0 9-1 9-1 8-4 8-5 9-6 9-7 8-7 8-8 9-10 9-11 8-14 8-17 9-16 9-13 8-12 8-10 9-12 9-12 8-13 8-10 9-8 9-6 8-5 8-6 9-5 9-4 8-3 8-3 9-3 9-3 8-2 8-2 9-1 9-2 8-1"/>
<path d="M2052 3847l8 0 9-1 9 0 8 0 8 0 9-1 9-2 8-4 8-5 9-6 9-6 8-6 8-8 9-10 9-10 8-14 8-15 9-12 9-10 8-9 8-10 9-10 9-11 8-10 8-7 9-6 9-5 8-4 8-4 9-4 9-4 8-2 8-3 9-2 9-2 8-2"/>
<path d="M2010 3847l8 0 8 0 9-1 9 0 8 0 8-1 9 0 9-3 8-5 8-6 9-7 9-8 8-8 8-10 9-12 9-13 8-17 8-20 9-17 9-13 8-13 8-12 9-13 9-14 8-13 8-10 9-8 9-7 8-6 8-5 9-6 9-4 8-4 8-3 9-3 9-3 8-2 8-2 9-2 9-1 8-2"/>
<path d="M2026 3847l9 0 9 0 8-1 8 0 9 0 9-1 8-1 8-3 9-4 9-7 8-7 8-8 9-8 9-10 8-11 8-14 9-17 9-19 8-16 8-13 9-11 9-12 8-13 8-14 9-13 9-9 8-7 8-7 9-6 9-5 8-5 8-4 9-3 9-4 8-2 8-3 9-2 9-2 8-2"/>
<path d="M1967 3847l9 0 8-1 8 0 9 0 9-1 8-1 8 0 9-3 9-6 8-9 8-11 9-12 9-12 8-15 8-17 9-20 9-24 8-30 8-30 9-24 9-20 8-19 8-20 9-23 9-22 8-19 8-13 9-12 9-10 8-9 8-9 9-7 9-6 8-6 8-5 9-4 9-4 8-4 8-3 9-3 9-2 8-2 8-2 9-2 9-1 8-2"/>
<path d="M2001 3847l9 0 8-1 8 0 9 0 9-1 8 0 8-1 9-3 9-6 8-8 8-9 9-9 9-10 8-12 8-14 9-16 9-21 8-23 8-20 9-16 9-14 8-14 8-16 9-17 9-16 8-11 8-10 9-7 9-8 8-6 8-6 9-5 9-5 8-4 8-3 9-3 9-3 8-3 8-2 9-1 9-2 8-2"/>
<path d="M2010 3847l8 0 8-1 9 0 9 0 8-1 8 0 9-2 9-4 8-6 8-8 9-8 9-9 8-11 8-12 9-14 9-17 8-21 8-22 9-18 9-15 8-14 8-14 9-16 9-17 8-14 8-10 9-9 9-7 8-7 8-6 9-6 9-4 8-4 8-4 9-3 9-3 8-3 8-2 9-2 9-2 8-2"/>
<path d="M2120 3847l8 0 9 0 9-1 8-1 8-1 9-1 9-1 8-1 8-2 9-2 9-2 8-3 8-3 9-2 9-3 8-1 8-2 9-2 9-3 8-2 8-1 9-1 9-1 8-1 8-1 9-1 9-1 8 0"/>
<path d="M2094 3847l9 0 9 0 8-1 8 0 9-1 9-1 8-2 8-3 9-3 9-2 8-4 8-4 9-4 9-6 8-7 8-6 9-5 9-4 8-4 8-5 9-5 9-4 8-4 8-2 9-3 9-2 8-2 8-2 9-1 9-1 8-1"/>
<path d="M2112 3847l8 0 8-1 9 0 9-1 8-1 8-2 9-2 9-2 8-2 8-3 9-3 9-4 8-4 8-5 9-3 9-3 8-3 8-3 9-4 9-3 8-3 8-2 9-2 9-1 8-2 8-1 9-1 9-1 8-1"/>
<path d="M2112 3847l8 0 8 0 9-1 9-1 8-1 8-2 9-1 9-2 8-2 8-2 9-3 9-3 8-4 8-3 9-3 9-3 8-2 8-3 9-3 9-2 8-3 8-1 9-2 9-1 8-1 8-1 9-1 9-1 8 0"/>
</g>
<g stroke="#d62424" stroke-width="3.5" stroke-opacity="0.4">
<path d="M1958 3847l9 0 9 0 8-1 8 0 9-1 9 0 8-1 8-2 9-5 9-8 8-10 8-11 9-12 9-13 8-16 8-18 9-22 9-27 8-29 8-24 9-19 9-18 8-18 8-21 9-22 9-18 8-13 8-11 9-10 9-9 8-8 8-8 9-6 9-5 8-5 8-4 9-4 9-3 8-3 8-3 9-2 9-2 8-2 8-1 9-2 9-2 8-1"/>
<path d="M1976 3847l8 0 8 0 9-1 9 0 8-1 8 0 9-1 9-1 8-5 8-7 9-9 9-10 8-10 8-11 9-14 9-17 8-19 8-24 9-25 9-20 8-17 8-16 9-16 9-18 8-19 8-16 9-11 9-10 8-8 8-8 9-7 9-6 8-5 8-5 9-4 9-4 8-3 8-3 9-3 9-2 8-2 8-2 9-1 9-2 8-1"/>
<path d="M2001 3847l9 0 8-1 8 0 9 0 9-1 8 0 8-1 9-3 9-6 8-8 8-9 9-10 9-10 8-13 8-15 9-17 9-21 8-25 8-22 9-18 9-15 8-16 8-16 9-19 9-17 8-13 8-10 9-9 9-8 8-7 8-7 9-5 9-5 8-4 8-4 9-3 9-4 8-2 8-3 9-2 9-1 8-2"/>
<path d="M2010 3847l8 0 8-1 9 0 9 0 8-1 8 0 9-1 9-4 8-5 8-7 9-8 9-8 8-9 8-10 9-13 9-14 8-19 8-19 9-15 9-13 8-12 8-12 9-14 9-14 8-12 8-9 9-7 9-6 8-6 8-6 9-4 9-4 8-4 8-3 9-3 9-2 8-3 8-2 9-1 9-2 8-1"/>
<path d="M2094 3847l9 0 9 0 8-1 8 0 9-2 9-2 8-1 8-3 9-2 9-2 8-4 8-3 9-5 9-5 8-4 8-4 9-3 9-3 8-4 8-3 9-4 9-2 8-2 8-2 9-2 9-1 8-1 8-1 9-1 9-1 8-1"/>
<path d="M1958 3847l9 0 9 0 8-1 8 0 9-1 9 0 8-1 8-1 9-3 9-7 8-9 8-12 9-13 9-13 8-16 8-19 9-21 9-27 8-32 8-31 9-24 9-21 8-20 8-22 9-24 9-23 8-19 8-14 9-12 9-10 8-10 8-9 9-8 9-6 8-6 8-5 9-5 9-4 8-4 8-3 9-2 9-3 8-2 8-2 9-2 9-2 8-1"/>
<path d="M1984 3847l8 0 9-1 9 0 8-1 8 0 9-1 9-1 8-3 8-7 9-9 9-10 8-11 8-11 9-14 9-17 8-19 8-24 9-27 9-24 8-19 8-17 9-17 9-19 8-20 8-19 9-14 9-11 8-9 8-9 9-8 9-7 8-6 8-5 9-5 9-4 8-4 8-3 9-3 9-3 8-2 8-2 9-2 9-1 8-2"/>
<path d="M1958 3847l9 0 9 0 8-1 8 0 9-1 9 0 8-1 8-1 9-4 9-8 8-11 8-12 9-13 9-14 8-17 8-20 9-22 9-29 8-33 8-30 9-24 9-21 8-21 8-22 9-25 9-23 8-18 8-13 9-12 9-10 8-10 8-9 9-8 9-6 8-6 8-5 9-4 9-5 8-3 8-3 9-3 9-2 8-3 8-2 9-2 9-1 8-2"/>
<path d="M2026 3847l9 0 9-1 8 0 8 0 9-1 9 0 8-2 8-3 9-6 9-7 8-8 8-8 9-9 9-11 8-13 8-16 9-19 9-19 8-15 8-13 9-13 9-12 8-15 8-14 9-12 9-9 8-7 8-7 9-6 9-5 8-5 8-4 9-4 9-3 8-3 8-3 9-2 9-2 8-2"/>
<path d="M2137 3847l9 0 8-1 8 0 9-1 9 0 8-1 8-1 9-1 9-1 8-1 8-2 9-1 9-2 8-1 8-1 9-1 9-1 8-2 8-1 9-1 9 0 8-1 8 0 9-1 9 0 8-1"/>
<path d="M2128 3847l9 0 9-1 8 0 8-1 9-1 9-1 8-1 8-1 9-2 9-2 8-2 8-2 9-2 9-2 8-2 8-1 9-2 9-2 8-1 8-2 9-1 9 0 8-1 8-1 9-1 9 0 8-1"/>
<path d="M2120 3847l8 0 9-1 9 0 8-1 8-2 9-1 9-1 8-2 8-2 9-2 9-3 8-3 8-3 9-3 9-2 8-2 8-2 9-3 9-2 8-2 8-2 9-1 9-1 8-1 8-1 9-1 9 0 8-1"/>
<path d="M2112 3847l8 0 8-1 9 0 9-1 8-2 8-1 9-1 9-2 8-2 8-2 9-3 9-3 8-3 8-2 9-2 9-2 8-2 8-2 9-3 9-1 8-2 8-1 9-1 9-1 8-1 8 0 9-1 9-1 8 0"/>
<path d="M2120 3847l8 0 9 0 9-1 8-1 8-1 9-1 9-1 8-2 8-1 9-2 9-3 8-3 8-3 9-3 9-2 8-2 8-2 9-2 9-3 8-2 8-1 9-2 9-1 8-1 8-1 9-1 9 0 8-1"/>
<path d="M2112 3847l8 0 8 0 9-1 9-1 8 0 8-1 9-1 9-2 8-1 8-2 9-1 9-3 8-2 8-2 9-2 9-2 8-1 8-2 9-2 9-2 8-1 8-1 9-1 9 0 8-1 8-1 9 0 9-1 8 0"/>
<path d="M2103 3847l9 0 8 0 8-1 9 0 9-2 8-1 8-2 9-2 9-2 8-2 8-3 9-3 9-4 8-5 8-3 9-3 9-3 8-3 8-3 9-4 9-3 8-2 8-2 9-1 9-1 8-2 8-1 9-1 9-1 8 0"/>
</g>
<g stroke="#d62424" stroke-width="3.5" stroke-opacity="0.5">
<path d="M1967 3847l9 0 8 0 8-1 9 0 9-1 8 0 8-1 9-2 9-5 8-8 8-11 9-12 9-12 8-14 8-17 9-19 9-23 8-29 8-30 9-25 9-21 8-19 8-19 9-22 9-23 8-20 8-14 9-12 9-10 8-9 8-9 9-8 9-7 8-5 8-5 9-5 9-4 8-4 8-3 9-2 9-3 8-2 8-2 9-2 9-1 8-2"/>
<path d="M2001 3847l9 0 8 0 8-1 9 0 9-1 8 0 8-1 9-2 9-5 8-6 8-9 9-8 9-9 8-11 8-13 9-15 9-18 8-22 8-21 9-17 9-14 8-14 8-14 9-17 9-16 8-12 8-10 9-8 9-7 8-6 8-6 9-6 9-4 8-4 8-3 9-4 9-2 8-3 8-2 9-2 9-2 8-1"/>
<path d="M2018 3847l8 0 9-1 9 0 8 0 8-1 9 0 9-2 8-3 8-6 9-6 9-7 8-7 8-9 9-10 9-11 8-15 8-17 9-16 9-13 8-11 8-11 9-11 9-13 8-13 8-10 9-7 9-6 8-6 8-5 9-5 9-4 8-3 8-3 9-3 9-2 8-3 8-2 9-1 9-2 8-1"/>
<path d="M2128 3847l9 0 9-1 8 0 8-1 9-1 9-1 8-1 8-1 9-1 9-2 8-2 8-2 9-1 9-2 8-1 8-1 9-2 9-1 8-1 8-1 9-1 9-1 8 0 8-1 9 0 9-1 8 0"/>
<path d="M2137 3847l9 0 8-1 8 0 9-1 9 0 8-1 8-1 9-1 9-1 8-1 8-2 9-1 9-1 8-1 8-1 9-1 9-1 8-2 8-1 9 0 9-1 8 0 8-1 9 0 9-1 8 0"/>
<path d="M1958 3847l9 0 9 0 8-1 8 0 9-1 9 0 8-1 8-1 9-4 9-8 8-10 8-11 9-12 9-13 8-16 8-18 9-21 9-28 8-30 8-27 9-21 9-19 8-19 8-21 9-23 9-21 8-15 8-12 9-11 9-9 8-9 8-8 9-7 9-6 8-5 8-5 9-4 9-4 8-3 8-3 9-2 9-2 8-2 8-2 9-2 9-2 8-1"/>
<path d="M1950 3847l8 0 9 0 9-1 8 0 8-1 9 0 9-1 8-1 8-4 9-8 9-11 8-12 8-12 9-14 9-16 8-20 8-21 9-29 9-31 8-28 8-22 9-20 9-20 8-22 8-23 9-22 9-16 8-13 8-10 9-10 9-10 8-8 8-7 9-6 9-5 8-5 8-4 9-4 9-4 8-3 8-2 9-2 9-3 8-1 8-2 9-2 9-1 8-2"/>
<path d="M2112 3847l8 0 8-1 9 0 9-1 8-1 8-2 9-1 9-1 8-2 8-2 9-3 9-3 8-3 8-2 9-2 9-2 8-2 8-3 9-2 9-2 8-1 8-1 9-1 9-1 8-1 8-1 9-1 9 0 8-1"/>
<path d="M2060 3847l9 0 9 0 8-1 8 0 9 0 9-1 8-2 8-3 9-3 9-4 8-4 8-4 9-5 9-6 8-8 8-9 9-8 9-6 8-6 8-5 9-6 9-7 8-6 8-4 9-4 9-3 8-3 8-2 9-3 9-2 8-2 8-1 9-1 9-2 8-1"/>
<path d="M2052 3847l8 0 9 0 9-1 8 0 8 0 9-1 9-1 8-3 8-4 9-5 9-5 8-6 8-6 9-8 9-9 8-11 8-13 9-12 9-10 8-8 8-9 9-8 9-10 8-10 8-7 9-5 9-5 8-4 8-4 9-4 9-3 8-3 8-2 9-2 9-2 8-1"/>
<path d="M2044 3847l8 0 8-1 9 0 9 0 8 0 8-1 9-3 9-4 8-4 8-5 9-5 9-6 8-8 8-8 9-10 9-12 8-12 8-10 9-8 9-8 8-8 8-9 9-9 9-7 8-6 8-4 9-4 9-4 8-4 8-3 9-2 9-2 8-2 8-2 9-2 9-1 8-1"/>
</g>
<g stroke="#d62424" stroke-width="3.5" stroke-opacity="0.75">
<path d="M1950 3847l8 0 9 0 9-1 8 0 8-1 9 0 9-1 8-1 8-4 9-8 9-10 8-13 8-14 9-14 9-17 8-20 8-22 9-30 9-33 8-31 8-25 9-21 9-21 8-23 8-25 9-24 9-18 8-14 8-12 9-11 9-10 8-9 8-8 9-6 9-6 8-5 8-5 9-4 9-4 8-3 8-3 9-3 9-2 8-2 8-2 9-2 9-1 8-2"/>
<path d="M1958 3847l9 0 9-1 8 0 8-1 9 0 9-1 8-1 8-3 9-6 9-10 8-12 8-12 9-13 9-15 8-19 8-21 9-26 9-31 8-30 8-24 9-21 9-19 8-21 8-24 9-23 9-18 8-13 8-12 9-10 9-9 8-9 8-8 9-6 9-6 8-5 8-4 9-5 9-3 8-3 8-3 9-2 9-2 8-2 8-2 9-2 9-1 8-2"/>
<path d="M1976 3847l8 0 8-1 9 0 9-1 8 0 8-1 9-1 9-2 8-7 8-9 9-12 9-12 8-13 8-15 9-18 9-21 8-25 8-31 9-29 9-24 8-20 8-19 9-21 9-23 8-22 8-18 9-13 9-12 8-10 8-9 9-9 9-7 8-6 8-6 9-5 9-4 8-4 8-4 9-3 9-2 8-3 8-2 9-2 9-1 8-2"/>
<path d="M2001 3847l9 0 8 0 8-1 9 0 9-1 8 0 8-1 9-3 9-5 8-7 8-8 9-8 9-9 8-11 8-13 9-14 9-19 8-21 8-19 9-14 9-13 8-13 8-15 9-16 9-14 8-11 8-8 9-7 9-7 8-6 8-5 9-5 9-4 8-4 8-3 9-3 9-2 8-3 8-1 9-2 9-2 8-1"/>
<path d="M2060 3847l9 0 9-1 8 0 8 0 9 0 9-1 8-3 8-3 9-4 9-5 8-4 8-6 9-6 9-8 8-9 8-11 9-10 9-8 8-8 8-6 9-8 9-8 8-8 8-6 9-5 9-4 8-3 8-4 9-3 9-2 8-2 8-2 9-2 9-2 8-1"/>
<path d="M2094 3847l9 0 9-1 8 0 8 0 9-1 9-2 8-2 8-3 9-2 9-3 8-4 8-5 9-4 9-7 8-7 8-7 9-5 9-4 8-5 8-5 9-5 9-5 8-4 8-3 9-2 9-3 8-2 8-2 9-1 9-2 8-1"/>
<path d="M1976 3847l8 0 8-1 9 0 9 0 8-1 8 0 9-1 9-3 8-6 8-8 9-10 9-12 8-11 8-14 9-16 9-18 8-23 8-28 9-27 9-21 8-18 8-18 9-18 9-21 8-20 8-17 9-12 9-10 8-9 8-9 9-7 9-7 8-6 8-5 9-4 9-4 8-4 8-3 9-3 9-2 8-2 8-2 9-2 9-2 8-1"/>
<path d="M2018 3847l8 0 9-1 9 0 8 0 8-1 9 0 9-2 8-4 8-6 9-7 9-7 8-8 8-9 9-11 9-12 8-16 8-18 9-18 9-14 8-12 8-11 9-13 9-13 8-14 8-10 9-8 9-7 8-6 8-5 9-6 9-4 8-4 8-3 9-3 9-3 8-2 8-2 9-2 9-1 8-2"/>
<path d="M2128 3847l9 0 9 0 8-1 8-1 9-1 9 0 8-1 8-1 9-2 9-1 8-2 8-2 9-2 9-2 8-2 8-1 9-1 9-2 8-2 8-1 9-1 9-1 8 0 8-1 9-1 9 0 8-1"/>
<path d="M2120 3847l8 0 9-1 9 0 8-1 8 0 9-1 9-1 8-1 8-1 9-1 9-2 8-2 8-1 9-1 9-2 8-1 8-1 9-1 9-1 8-1 8-1 9-1 9 0 8-1 8 0 9-1 9 0 8 0"/>
<path d="M2120 3847l8 0 9-1 9 0 8-1 8 0 9-1 9-1 8-1 8-1 9-2 9-2 8-2 8-1 9-2 9-1 8-1 8-2 9-1 9-2 8-1 8-1 9 0 9-1 8 0 8-1 9 0 9-1 8 0"/>
<path d="M2128 3847l9 0 9 0 8-1 8 0 9-1 9 0 8-1 8 0 9-1 9-1 8-1 8-1 9-1 9-1 8 0 8-1 9-1 9-1 8 0 8-1 9 0 9-1 8 0 8 0 9-1 9 0 8 0"/>
</g>
</g>
</svg>
</body></html>
